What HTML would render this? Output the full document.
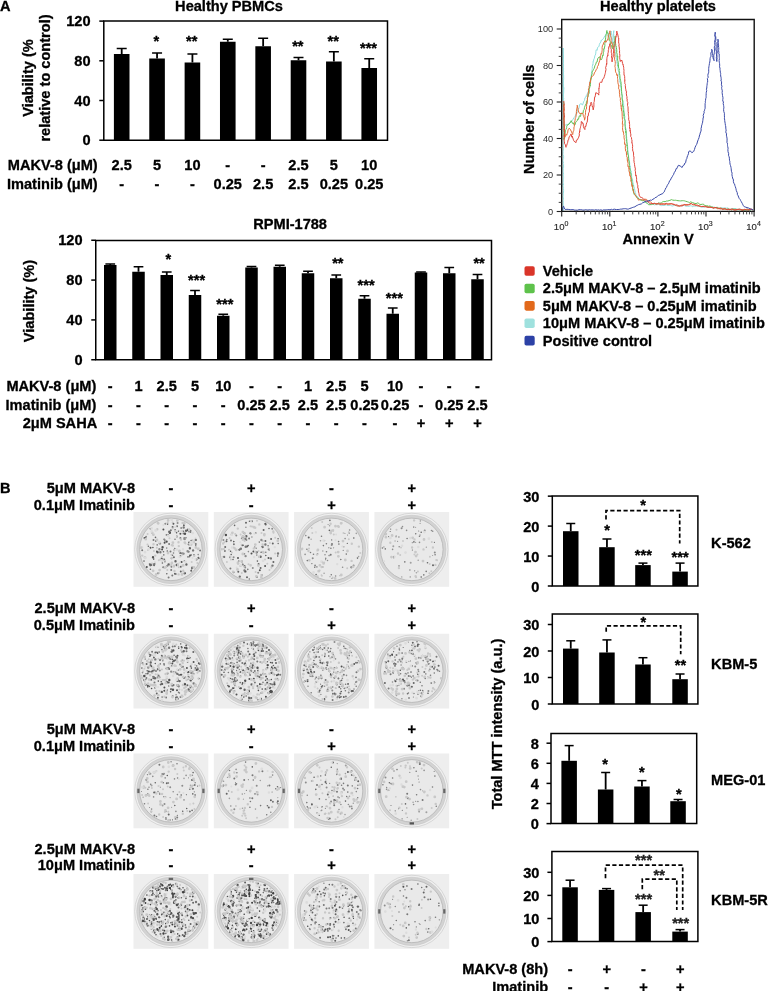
<!DOCTYPE html><html><head><meta charset="utf-8"><style>html,body{margin:0;padding:0;background:#fff;overflow:hidden;}svg{display:block;will-change:transform;}text{font-family:"Liberation Sans",sans-serif;}</style></head><body><svg width="768" height="991" viewBox="0 0 768 991" font-family="Liberation Sans, sans-serif">
<rect width="768" height="991" fill="#fff"/>
<text transform="translate(0.00,10.50) scale(1,1.04)" font-size="14.6" font-weight="bold" fill="#000" stroke="#000" stroke-width="0.3" text-anchor="start" >A</text>
<line x1="121.70" y1="54.00" x2="121.70" y2="48.50" stroke="#000" stroke-width="1.8" />
<line x1="116.70" y1="48.50" x2="126.70" y2="48.50" stroke="#000" stroke-width="1.5" />
<rect x="113.90" y="54.00" width="15.60" height="86.20" fill="#000" />
<line x1="157.06" y1="58.50" x2="157.06" y2="53.00" stroke="#000" stroke-width="1.8" />
<line x1="152.06" y1="53.00" x2="162.06" y2="53.00" stroke="#000" stroke-width="1.5" />
<rect x="149.26" y="58.50" width="15.60" height="81.70" fill="#000" />
<line x1="192.42" y1="62.50" x2="192.42" y2="54.00" stroke="#000" stroke-width="1.8" />
<line x1="187.42" y1="54.00" x2="197.42" y2="54.00" stroke="#000" stroke-width="1.5" />
<rect x="184.62" y="62.50" width="15.60" height="77.70" fill="#000" />
<line x1="227.78" y1="41.75" x2="227.78" y2="39.25" stroke="#000" stroke-width="1.8" />
<line x1="222.78" y1="39.25" x2="232.78" y2="39.25" stroke="#000" stroke-width="1.5" />
<rect x="219.98" y="41.75" width="15.60" height="98.45" fill="#000" />
<line x1="263.14" y1="46.25" x2="263.14" y2="38.25" stroke="#000" stroke-width="1.8" />
<line x1="258.14" y1="38.25" x2="268.14" y2="38.25" stroke="#000" stroke-width="1.5" />
<rect x="255.34" y="46.25" width="15.60" height="93.95" fill="#000" />
<line x1="298.50" y1="60.25" x2="298.50" y2="57.50" stroke="#000" stroke-width="1.8" />
<line x1="293.50" y1="57.50" x2="303.50" y2="57.50" stroke="#000" stroke-width="1.5" />
<rect x="290.70" y="60.25" width="15.60" height="79.95" fill="#000" />
<line x1="333.86" y1="61.50" x2="333.86" y2="51.75" stroke="#000" stroke-width="1.8" />
<line x1="328.86" y1="51.75" x2="338.86" y2="51.75" stroke="#000" stroke-width="1.5" />
<rect x="326.06" y="61.50" width="15.60" height="78.70" fill="#000" />
<line x1="369.22" y1="68.00" x2="369.22" y2="58.75" stroke="#000" stroke-width="1.8" />
<line x1="364.22" y1="58.75" x2="374.22" y2="58.75" stroke="#000" stroke-width="1.5" />
<rect x="361.42" y="68.00" width="15.60" height="72.20" fill="#000" />
<path d="M103.80,21.10 H387.50 V140.20 H103.80 Z" fill="none" stroke="#000" stroke-width="1.5"/>
<line x1="99.30" y1="140.20" x2="103.80" y2="140.20" stroke="#000" stroke-width="1.5" />
<text transform="translate(90.50,145.40) scale(1,1.04)" font-size="14.6" font-weight="bold" fill="#000" stroke="#000" stroke-width="0.3" text-anchor="end" >0</text>
<line x1="99.30" y1="100.50" x2="103.80" y2="100.50" stroke="#000" stroke-width="1.5" />
<text transform="translate(90.50,105.70) scale(1,1.04)" font-size="14.6" font-weight="bold" fill="#000" stroke="#000" stroke-width="0.3" text-anchor="end" >40</text>
<line x1="99.30" y1="60.80" x2="103.80" y2="60.80" stroke="#000" stroke-width="1.5" />
<text transform="translate(90.50,66.00) scale(1,1.04)" font-size="14.6" font-weight="bold" fill="#000" stroke="#000" stroke-width="0.3" text-anchor="end" >80</text>
<line x1="99.30" y1="21.10" x2="103.80" y2="21.10" stroke="#000" stroke-width="1.5" />
<text transform="translate(90.50,26.30) scale(1,1.04)" font-size="14.6" font-weight="bold" fill="#000" stroke="#000" stroke-width="0.3" text-anchor="end" >120</text>
<text transform="translate(156.36,46.21) scale(1,1.04)" font-size="14.6" font-weight="bold" fill="#000" stroke="#000" stroke-width="0.3" text-anchor="middle" >*</text>
<text transform="translate(191.72,46.21) scale(1,1.04)" font-size="14.6" font-weight="bold" fill="#000" stroke="#000" stroke-width="0.3" text-anchor="middle" >**</text>
<text transform="translate(297.80,51.21) scale(1,1.04)" font-size="14.6" font-weight="bold" fill="#000" stroke="#000" stroke-width="0.3" text-anchor="middle" >**</text>
<text transform="translate(333.16,45.81) scale(1,1.04)" font-size="14.6" font-weight="bold" fill="#000" stroke="#000" stroke-width="0.3" text-anchor="middle" >**</text>
<text transform="translate(368.52,52.81) scale(1,1.04)" font-size="14.6" font-weight="bold" fill="#000" stroke="#000" stroke-width="0.3" text-anchor="middle" >***</text>
<text transform="translate(229.00,10.70) scale(1,1.04)" font-size="14.6" font-weight="bold" fill="#000" stroke="#000" stroke-width="0.3" text-anchor="middle" >Healthy PBMCs</text>
<text transform="translate(33.00,78.00) rotate(-90) scale(1,1.04)" font-size="14.6" font-weight="bold" fill="#000" stroke="#000" stroke-width="0.3" text-anchor="middle">Viability (%</text>
<text transform="translate(50.00,78.00) rotate(-90) scale(1,1.04)" font-size="14.6" font-weight="bold" fill="#000" stroke="#000" stroke-width="0.3" text-anchor="middle">relative to control)</text>
<text transform="translate(97.70,170.20) scale(1,1.04)" font-size="14.6" font-weight="bold" fill="#000" stroke="#000" stroke-width="0.3" text-anchor="end" >MAKV-8 (μM)</text>
<text transform="translate(97.70,189.00) scale(1,1.04)" font-size="14.6" font-weight="bold" fill="#000" stroke="#000" stroke-width="0.3" text-anchor="end" >Imatinib (μM)</text>
<text transform="translate(121.70,170.20) scale(1,1.04)" font-size="14.6" font-weight="bold" fill="#000" stroke="#000" stroke-width="0.3" text-anchor="middle" >2.5</text>
<text transform="translate(121.70,189.00) scale(1,1.04)" font-size="14.6" font-weight="bold" fill="#000" stroke="#000" stroke-width="0.3" text-anchor="middle" >-</text>
<text transform="translate(157.06,170.20) scale(1,1.04)" font-size="14.6" font-weight="bold" fill="#000" stroke="#000" stroke-width="0.3" text-anchor="middle" >5</text>
<text transform="translate(157.06,189.00) scale(1,1.04)" font-size="14.6" font-weight="bold" fill="#000" stroke="#000" stroke-width="0.3" text-anchor="middle" >-</text>
<text transform="translate(192.42,170.20) scale(1,1.04)" font-size="14.6" font-weight="bold" fill="#000" stroke="#000" stroke-width="0.3" text-anchor="middle" >10</text>
<text transform="translate(192.42,189.00) scale(1,1.04)" font-size="14.6" font-weight="bold" fill="#000" stroke="#000" stroke-width="0.3" text-anchor="middle" >-</text>
<text transform="translate(227.78,170.20) scale(1,1.04)" font-size="14.6" font-weight="bold" fill="#000" stroke="#000" stroke-width="0.3" text-anchor="middle" >-</text>
<text transform="translate(227.78,189.00) scale(1,1.04)" font-size="14.6" font-weight="bold" fill="#000" stroke="#000" stroke-width="0.3" text-anchor="middle" >0.25</text>
<text transform="translate(263.14,170.20) scale(1,1.04)" font-size="14.6" font-weight="bold" fill="#000" stroke="#000" stroke-width="0.3" text-anchor="middle" >-</text>
<text transform="translate(263.14,189.00) scale(1,1.04)" font-size="14.6" font-weight="bold" fill="#000" stroke="#000" stroke-width="0.3" text-anchor="middle" >2.5</text>
<text transform="translate(298.50,170.20) scale(1,1.04)" font-size="14.6" font-weight="bold" fill="#000" stroke="#000" stroke-width="0.3" text-anchor="middle" >2.5</text>
<text transform="translate(298.50,189.00) scale(1,1.04)" font-size="14.6" font-weight="bold" fill="#000" stroke="#000" stroke-width="0.3" text-anchor="middle" >2.5</text>
<text transform="translate(333.86,170.20) scale(1,1.04)" font-size="14.6" font-weight="bold" fill="#000" stroke="#000" stroke-width="0.3" text-anchor="middle" >5</text>
<text transform="translate(333.86,189.00) scale(1,1.04)" font-size="14.6" font-weight="bold" fill="#000" stroke="#000" stroke-width="0.3" text-anchor="middle" >0.25</text>
<text transform="translate(369.22,170.20) scale(1,1.04)" font-size="14.6" font-weight="bold" fill="#000" stroke="#000" stroke-width="0.3" text-anchor="middle" >10</text>
<text transform="translate(369.22,189.00) scale(1,1.04)" font-size="14.6" font-weight="bold" fill="#000" stroke="#000" stroke-width="0.3" text-anchor="middle" >0.25</text>
<line x1="110.25" y1="265.00" x2="110.25" y2="264.00" stroke="#000" stroke-width="1.8" />
<line x1="105.40" y1="264.00" x2="115.10" y2="264.00" stroke="#000" stroke-width="1.5" />
<rect x="104.00" y="265.00" width="12.50" height="94.75" fill="#000" />
<line x1="138.50" y1="271.75" x2="138.50" y2="266.75" stroke="#000" stroke-width="1.8" />
<line x1="133.65" y1="266.75" x2="143.35" y2="266.75" stroke="#000" stroke-width="1.5" />
<rect x="132.25" y="271.75" width="12.50" height="88.00" fill="#000" />
<line x1="166.75" y1="275.00" x2="166.75" y2="272.00" stroke="#000" stroke-width="1.8" />
<line x1="161.90" y1="272.00" x2="171.60" y2="272.00" stroke="#000" stroke-width="1.5" />
<rect x="160.50" y="275.00" width="12.50" height="84.75" fill="#000" />
<line x1="195.00" y1="295.00" x2="195.00" y2="290.50" stroke="#000" stroke-width="1.8" />
<line x1="190.15" y1="290.50" x2="199.85" y2="290.50" stroke="#000" stroke-width="1.5" />
<rect x="188.75" y="295.00" width="12.50" height="64.75" fill="#000" />
<line x1="223.25" y1="315.75" x2="223.25" y2="314.25" stroke="#000" stroke-width="1.8" />
<line x1="218.40" y1="314.25" x2="228.10" y2="314.25" stroke="#000" stroke-width="1.5" />
<rect x="217.00" y="315.75" width="12.50" height="44.00" fill="#000" />
<line x1="251.50" y1="267.50" x2="251.50" y2="266.50" stroke="#000" stroke-width="1.8" />
<line x1="246.65" y1="266.50" x2="256.35" y2="266.50" stroke="#000" stroke-width="1.5" />
<rect x="245.25" y="267.50" width="12.50" height="92.25" fill="#000" />
<line x1="279.75" y1="266.75" x2="279.75" y2="265.25" stroke="#000" stroke-width="1.8" />
<line x1="274.90" y1="265.25" x2="284.60" y2="265.25" stroke="#000" stroke-width="1.5" />
<rect x="273.50" y="266.75" width="12.50" height="93.00" fill="#000" />
<line x1="308.00" y1="273.25" x2="308.00" y2="271.25" stroke="#000" stroke-width="1.8" />
<line x1="303.15" y1="271.25" x2="312.85" y2="271.25" stroke="#000" stroke-width="1.5" />
<rect x="301.75" y="273.25" width="12.50" height="86.50" fill="#000" />
<line x1="336.25" y1="278.25" x2="336.25" y2="275.00" stroke="#000" stroke-width="1.8" />
<line x1="331.40" y1="275.00" x2="341.10" y2="275.00" stroke="#000" stroke-width="1.5" />
<rect x="330.00" y="278.25" width="12.50" height="81.50" fill="#000" />
<line x1="364.50" y1="298.75" x2="364.50" y2="295.75" stroke="#000" stroke-width="1.8" />
<line x1="359.65" y1="295.75" x2="369.35" y2="295.75" stroke="#000" stroke-width="1.5" />
<rect x="358.25" y="298.75" width="12.50" height="61.00" fill="#000" />
<line x1="392.75" y1="313.75" x2="392.75" y2="308.00" stroke="#000" stroke-width="1.8" />
<line x1="387.90" y1="308.00" x2="397.60" y2="308.00" stroke="#000" stroke-width="1.5" />
<rect x="386.50" y="313.75" width="12.50" height="46.00" fill="#000" />
<line x1="421.00" y1="272.50" x2="421.00" y2="272.00" stroke="#000" stroke-width="1.8" />
<line x1="416.15" y1="272.00" x2="425.85" y2="272.00" stroke="#000" stroke-width="1.5" />
<rect x="414.75" y="272.50" width="12.50" height="87.25" fill="#000" />
<line x1="449.25" y1="273.25" x2="449.25" y2="267.50" stroke="#000" stroke-width="1.8" />
<line x1="444.40" y1="267.50" x2="454.10" y2="267.50" stroke="#000" stroke-width="1.5" />
<rect x="443.00" y="273.25" width="12.50" height="86.50" fill="#000" />
<line x1="477.50" y1="279.25" x2="477.50" y2="274.50" stroke="#000" stroke-width="1.8" />
<line x1="472.65" y1="274.50" x2="482.35" y2="274.50" stroke="#000" stroke-width="1.5" />
<rect x="471.25" y="279.25" width="12.50" height="80.50" fill="#000" />
<path d="M95.75,240.40 H491.50 V359.75 H95.75 Z" fill="none" stroke="#000" stroke-width="1.5"/>
<line x1="91.25" y1="359.75" x2="95.75" y2="359.75" stroke="#000" stroke-width="1.5" />
<text transform="translate(82.50,364.95) scale(1,1.04)" font-size="14.6" font-weight="bold" fill="#000" stroke="#000" stroke-width="0.3" text-anchor="end" >0</text>
<line x1="91.25" y1="319.92" x2="95.75" y2="319.92" stroke="#000" stroke-width="1.5" />
<text transform="translate(82.50,325.12) scale(1,1.04)" font-size="14.6" font-weight="bold" fill="#000" stroke="#000" stroke-width="0.3" text-anchor="end" >40</text>
<line x1="91.25" y1="280.08" x2="95.75" y2="280.08" stroke="#000" stroke-width="1.5" />
<text transform="translate(82.50,285.28) scale(1,1.04)" font-size="14.6" font-weight="bold" fill="#000" stroke="#000" stroke-width="0.3" text-anchor="end" >80</text>
<line x1="91.25" y1="240.25" x2="95.75" y2="240.25" stroke="#000" stroke-width="1.5" />
<text transform="translate(82.50,245.45) scale(1,1.04)" font-size="14.6" font-weight="bold" fill="#000" stroke="#000" stroke-width="0.3" text-anchor="end" >120</text>
<text transform="translate(168.30,263.91) scale(1,1.04)" font-size="14.6" font-weight="bold" fill="#000" stroke="#000" stroke-width="0.3" text-anchor="middle" >*</text>
<text transform="translate(196.55,284.91) scale(1,1.04)" font-size="14.6" font-weight="bold" fill="#000" stroke="#000" stroke-width="0.3" text-anchor="middle" >***</text>
<text transform="translate(224.80,308.91) scale(1,1.04)" font-size="14.6" font-weight="bold" fill="#000" stroke="#000" stroke-width="0.3" text-anchor="middle" >***</text>
<text transform="translate(337.80,267.91) scale(1,1.04)" font-size="14.6" font-weight="bold" fill="#000" stroke="#000" stroke-width="0.3" text-anchor="middle" >**</text>
<text transform="translate(366.05,289.91) scale(1,1.04)" font-size="14.6" font-weight="bold" fill="#000" stroke="#000" stroke-width="0.3" text-anchor="middle" >***</text>
<text transform="translate(394.30,302.91) scale(1,1.04)" font-size="14.6" font-weight="bold" fill="#000" stroke="#000" stroke-width="0.3" text-anchor="middle" >***</text>
<text transform="translate(479.05,267.91) scale(1,1.04)" font-size="14.6" font-weight="bold" fill="#000" stroke="#000" stroke-width="0.3" text-anchor="middle" >**</text>
<text transform="translate(290.10,228.75) scale(1,1.04)" font-size="14.6" font-weight="bold" fill="#000" stroke="#000" stroke-width="0.3" text-anchor="middle" >RPMI-1788</text>
<text transform="translate(34.30,301.00) rotate(-90) scale(1,1.04)" font-size="14.6" font-weight="bold" fill="#000" stroke="#000" stroke-width="0.3" text-anchor="middle">Viability (%)</text>
<text transform="translate(96.30,391.30) scale(1,1.04)" font-size="14.6" font-weight="bold" fill="#000" stroke="#000" stroke-width="0.3" text-anchor="end" >MAKV-8 (μM)</text>
<text transform="translate(96.30,410.00) scale(1,1.04)" font-size="14.6" font-weight="bold" fill="#000" stroke="#000" stroke-width="0.3" text-anchor="end" >Imatinib (μM)</text>
<text transform="translate(97.20,427.50) scale(1,1.04)" font-size="14.6" font-weight="bold" fill="#000" stroke="#000" stroke-width="0.3" text-anchor="end" >2μM SAHA</text>
<text transform="translate(110.25,391.30) scale(1,1.04)" font-size="14.6" font-weight="bold" fill="#000" stroke="#000" stroke-width="0.3" text-anchor="middle" >-</text>
<text transform="translate(110.25,410.00) scale(1,1.04)" font-size="14.6" font-weight="bold" fill="#000" stroke="#000" stroke-width="0.3" text-anchor="middle" >-</text>
<text transform="translate(110.25,427.50) scale(1,1.04)" font-size="14.6" font-weight="bold" fill="#000" stroke="#000" stroke-width="0.3" text-anchor="middle" >-</text>
<text transform="translate(138.50,391.30) scale(1,1.04)" font-size="14.6" font-weight="bold" fill="#000" stroke="#000" stroke-width="0.3" text-anchor="middle" >1</text>
<text transform="translate(138.50,410.00) scale(1,1.04)" font-size="14.6" font-weight="bold" fill="#000" stroke="#000" stroke-width="0.3" text-anchor="middle" >-</text>
<text transform="translate(138.50,427.50) scale(1,1.04)" font-size="14.6" font-weight="bold" fill="#000" stroke="#000" stroke-width="0.3" text-anchor="middle" >-</text>
<text transform="translate(166.75,391.30) scale(1,1.04)" font-size="14.6" font-weight="bold" fill="#000" stroke="#000" stroke-width="0.3" text-anchor="middle" >2.5</text>
<text transform="translate(166.75,410.00) scale(1,1.04)" font-size="14.6" font-weight="bold" fill="#000" stroke="#000" stroke-width="0.3" text-anchor="middle" >-</text>
<text transform="translate(166.75,427.50) scale(1,1.04)" font-size="14.6" font-weight="bold" fill="#000" stroke="#000" stroke-width="0.3" text-anchor="middle" >-</text>
<text transform="translate(195.00,391.30) scale(1,1.04)" font-size="14.6" font-weight="bold" fill="#000" stroke="#000" stroke-width="0.3" text-anchor="middle" >5</text>
<text transform="translate(195.00,410.00) scale(1,1.04)" font-size="14.6" font-weight="bold" fill="#000" stroke="#000" stroke-width="0.3" text-anchor="middle" >-</text>
<text transform="translate(195.00,427.50) scale(1,1.04)" font-size="14.6" font-weight="bold" fill="#000" stroke="#000" stroke-width="0.3" text-anchor="middle" >-</text>
<text transform="translate(223.25,391.30) scale(1,1.04)" font-size="14.6" font-weight="bold" fill="#000" stroke="#000" stroke-width="0.3" text-anchor="middle" >10</text>
<text transform="translate(223.25,410.00) scale(1,1.04)" font-size="14.6" font-weight="bold" fill="#000" stroke="#000" stroke-width="0.3" text-anchor="middle" >-</text>
<text transform="translate(223.25,427.50) scale(1,1.04)" font-size="14.6" font-weight="bold" fill="#000" stroke="#000" stroke-width="0.3" text-anchor="middle" >-</text>
<text transform="translate(251.50,391.30) scale(1,1.04)" font-size="14.6" font-weight="bold" fill="#000" stroke="#000" stroke-width="0.3" text-anchor="middle" >-</text>
<text transform="translate(251.50,410.00) scale(1,1.04)" font-size="14.6" font-weight="bold" fill="#000" stroke="#000" stroke-width="0.3" text-anchor="middle" >0.25</text>
<text transform="translate(251.50,427.50) scale(1,1.04)" font-size="14.6" font-weight="bold" fill="#000" stroke="#000" stroke-width="0.3" text-anchor="middle" >-</text>
<text transform="translate(279.75,391.30) scale(1,1.04)" font-size="14.6" font-weight="bold" fill="#000" stroke="#000" stroke-width="0.3" text-anchor="middle" >-</text>
<text transform="translate(279.75,410.00) scale(1,1.04)" font-size="14.6" font-weight="bold" fill="#000" stroke="#000" stroke-width="0.3" text-anchor="middle" >2.5</text>
<text transform="translate(279.75,427.50) scale(1,1.04)" font-size="14.6" font-weight="bold" fill="#000" stroke="#000" stroke-width="0.3" text-anchor="middle" >-</text>
<text transform="translate(308.00,391.30) scale(1,1.04)" font-size="14.6" font-weight="bold" fill="#000" stroke="#000" stroke-width="0.3" text-anchor="middle" >1</text>
<text transform="translate(308.00,410.00) scale(1,1.04)" font-size="14.6" font-weight="bold" fill="#000" stroke="#000" stroke-width="0.3" text-anchor="middle" >2.5</text>
<text transform="translate(308.00,427.50) scale(1,1.04)" font-size="14.6" font-weight="bold" fill="#000" stroke="#000" stroke-width="0.3" text-anchor="middle" >-</text>
<text transform="translate(336.25,391.30) scale(1,1.04)" font-size="14.6" font-weight="bold" fill="#000" stroke="#000" stroke-width="0.3" text-anchor="middle" >2.5</text>
<text transform="translate(336.25,410.00) scale(1,1.04)" font-size="14.6" font-weight="bold" fill="#000" stroke="#000" stroke-width="0.3" text-anchor="middle" >2.5</text>
<text transform="translate(336.25,427.50) scale(1,1.04)" font-size="14.6" font-weight="bold" fill="#000" stroke="#000" stroke-width="0.3" text-anchor="middle" >-</text>
<text transform="translate(364.50,391.30) scale(1,1.04)" font-size="14.6" font-weight="bold" fill="#000" stroke="#000" stroke-width="0.3" text-anchor="middle" >5</text>
<text transform="translate(364.50,410.00) scale(1,1.04)" font-size="14.6" font-weight="bold" fill="#000" stroke="#000" stroke-width="0.3" text-anchor="middle" >0.25</text>
<text transform="translate(364.50,427.50) scale(1,1.04)" font-size="14.6" font-weight="bold" fill="#000" stroke="#000" stroke-width="0.3" text-anchor="middle" >-</text>
<text transform="translate(395.05,391.30) scale(1,1.04)" font-size="14.6" font-weight="bold" fill="#000" stroke="#000" stroke-width="0.3" text-anchor="middle" >10</text>
<text transform="translate(395.05,410.00) scale(1,1.04)" font-size="14.6" font-weight="bold" fill="#000" stroke="#000" stroke-width="0.3" text-anchor="middle" >0.25</text>
<text transform="translate(395.05,427.50) scale(1,1.04)" font-size="14.6" font-weight="bold" fill="#000" stroke="#000" stroke-width="0.3" text-anchor="middle" >-</text>
<text transform="translate(421.00,391.30) scale(1,1.04)" font-size="14.6" font-weight="bold" fill="#000" stroke="#000" stroke-width="0.3" text-anchor="middle" >-</text>
<text transform="translate(421.00,410.00) scale(1,1.04)" font-size="14.6" font-weight="bold" fill="#000" stroke="#000" stroke-width="0.3" text-anchor="middle" >-</text>
<text transform="translate(421.00,427.50) scale(1,1.04)" font-size="14.6" font-weight="bold" fill="#000" stroke="#000" stroke-width="0.3" text-anchor="middle" >+</text>
<text transform="translate(449.25,391.30) scale(1,1.04)" font-size="14.6" font-weight="bold" fill="#000" stroke="#000" stroke-width="0.3" text-anchor="middle" >-</text>
<text transform="translate(449.25,410.00) scale(1,1.04)" font-size="14.6" font-weight="bold" fill="#000" stroke="#000" stroke-width="0.3" text-anchor="middle" >0.25</text>
<text transform="translate(449.25,427.50) scale(1,1.04)" font-size="14.6" font-weight="bold" fill="#000" stroke="#000" stroke-width="0.3" text-anchor="middle" >+</text>
<text transform="translate(477.50,391.30) scale(1,1.04)" font-size="14.6" font-weight="bold" fill="#000" stroke="#000" stroke-width="0.3" text-anchor="middle" >-</text>
<text transform="translate(477.50,410.00) scale(1,1.04)" font-size="14.6" font-weight="bold" fill="#000" stroke="#000" stroke-width="0.3" text-anchor="middle" >2.5</text>
<text transform="translate(477.50,427.50) scale(1,1.04)" font-size="14.6" font-weight="bold" fill="#000" stroke="#000" stroke-width="0.3" text-anchor="middle" >+</text>
<text transform="translate(658.00,10.80) scale(1,1.04)" font-size="14.6" font-weight="bold" fill="#000" stroke="#000" stroke-width="0.3" text-anchor="middle" >Healthy platelets</text>
<text transform="translate(534.00,119.30) rotate(-90) scale(1,1.04)" font-size="14.6" font-weight="bold" fill="#000" stroke="#000" stroke-width="0.3" text-anchor="middle">Number of cells</text>
<text transform="translate(622.40,243.60) scale(1,1.04)" font-size="14.6" font-weight="bold" fill="#000" stroke="#000" stroke-width="0.3" text-anchor="start" >Annexin V</text>
<polyline points="563.3,210.9 563.3,209.4 563.4,208.2 563.0,207.3 563.5,205.2 563.1,204.2 563.3,203.8 563.3,202.3 563.1,200.7 563.5,199.4 563.4,198.0 563.0,196.9 563.4,195.7 563.0,193.5 563.3,193.7 563.5,192.0 563.6,190.7 563.5,188.6 563.6,187.4 563.1,187.2 563.1,184.0 563.3,184.8 563.2,182.6 563.2,181.0 563.4,179.3 563.5,178.6 563.6,177.6 563.6,176.7 563.1,174.9 563.6,174.1 563.3,172.9 563.1,171.1 563.3,170.1 563.0,167.4 563.6,167.6 563.5,164.3 563.1,163.8 563.5,162.2 563.0,162.4 563.0,160.4 563.2,159.4 563.6,158.5 563.6,156.2 563.0,154.4 563.0,153.9 563.2,151.5 563.1,151.3 563.5,148.5 563.6,147.9 563.2,148.1 563.3,145.7 563.4,144.9 563.4,143.3 563.3,143.0 563.4,140.4 563.2,138.6 563.3,139.2 563.0,136.8 563.3,135.1 563.4,132.8 563.0,133.1 563.3,131.8 563.2,130.6 563.4,129.4 563.0,126.3 563.6,126.7 563.3,124.3 563.2,123.9 563.2,122.0 563.4,120.7 563.2,119.2 563.0,119.1 563.4,117.3 563.1,115.3 563.1,115.3 563.3,112.4 563.1,112.4 563.2,110.1 563.3,110.2 563.1,108.9 563.4,106.3 563.3,106.4 563.1,103.4 563.1,102.8 563.5,102.3 563.2,99.3 563.4,99.7 563.2,98.3 563.2,95.3 563.2,95.7 563.3,93.2 563.2,92.1 563.1,92.1 563.6,88.4 563.6,89.4 563.6,86.9 563.1,86.9 563.5,85.2 563.3,83.6 563.2,81.4 563.0,79.9 563.2,79.5 563.0,78.8 563.4,77.7 563.5,76.5 563.3,75.1 563.4,71.5 563.2,70.6 563.3,70.6 563.6,68.6 563.2,67.9 563.5,65.6 563.5,64.9 563.1,63.3 563.5,62.4 563.5,60.2 563.5,60.8 563.0,59.3 563.5,57.5 563.2,54.7 563.3,53.9 563.3,53.0 563.0,52.6 563.1,49.5 563.0,48.3 563.5,49.2 563.3,48.2 563.2,50.2 563.4,51.6 563.2,53.5 563.2,53.8 563.4,54.9 563.3,57.8 563.1,57.4 563.4,59.5 563.3,61.9 563.4,63.3 563.3,63.6 563.5,65.1 563.5,66.2 563.2,67.7 563.5,69.2 563.3,69.3 563.6,71.5 563.3,74.2 563.6,75.4 563.4,75.0 563.6,76.0 563.7,78.7 563.5,80.4 563.5,81.5 563.5,81.2 563.2,82.3 563.2,85.6 563.2,85.1 563.3,88.5 563.7,87.6 563.7,89.2 563.7,91.9 563.5,94.0 563.2,94.9 563.5,96.1 563.3,97.3 563.8,98.7 563.4,98.2 563.7,100.9 563.3,101.3 563.6,102.7 563.5,105.3 563.5,105.6 563.5,106.9 563.5,107.5 563.5,111.1 563.3,111.9 563.7,113.0 563.6,114.3 563.6,115.1 563.4,117.5 563.7,116.8 563.6,120.2 563.7,120.3 563.5,120.9 563.6,122.3 563.4,123.9 565.2,125.2 566.3,124.4 567.7,125.0 568.5,124.4 569.6,122.5 571.0,122.2 572.1,120.4 573.0,119.6 573.7,118.0 574.0,117.7 574.8,116.5 575.2,116.2 575.9,114.2 576.3,114.0 577.2,112.5 577.3,110.6 578.1,108.8 578.8,108.7 579.0,107.9 579.5,105.0 580.4,103.7 581.0,104.2 581.8,103.8 582.3,105.1 582.6,104.9 583.6,101.9 583.8,101.2 584.5,100.6 584.9,97.8 585.5,97.6 586.2,95.8 586.7,96.4 587.1,94.1 588.1,92.1 588.8,90.4 588.6,91.2 588.9,90.0 589.4,88.2 589.5,85.7 589.8,85.3 590.0,83.0 590.1,83.6 590.0,81.2 590.4,79.8 590.8,79.1 590.7,77.4 591.1,76.3 591.5,73.8 591.2,73.7 591.5,73.2 592.0,70.3 592.1,69.7 592.3,68.5 592.3,66.4 592.8,64.5 592.9,64.9 593.0,63.6 593.2,61.1 593.4,61.3 593.9,59.0 594.4,58.3 594.8,55.8 595.4,55.0 595.8,53.1 595.9,51.2 596.2,49.8 597.2,50.3 597.5,47.5 598.4,46.8 599.0,46.6 599.3,44.7 600.0,43.0 600.8,42.1 601.3,40.0 601.8,40.3 602.9,39.1 603.7,38.2 604.8,35.8 606.1,34.7 606.4,33.3 607.3,32.2 607.8,32.9 608.1,32.7 608.3,35.7 608.6,36.7 609.0,37.2 609.4,35.4 609.8,35.6 610.6,34.0 610.5,33.4 611.3,31.8 611.2,31.1 611.2,32.9 611.8,35.0 611.9,35.7 611.6,38.0 612.0,39.7 612.2,41.2 612.1,42.0 612.6,43.5 612.5,44.9 612.6,43.3 612.5,40.2 612.7,38.7 613.0,37.6 613.1,37.6 613.3,35.5 613.3,33.8 613.4,33.6 613.8,30.7 613.6,33.5 613.8,34.0 613.7,36.1 613.8,36.0 613.9,39.4 614.0,40.0 614.1,40.8 614.2,42.7 614.4,43.1 614.8,44.9 614.7,45.9 615.1,48.3 615.1,50.3 615.5,50.9 616.0,51.3 615.7,53.2 615.9,55.2 616.2,57.0 616.2,57.0 616.6,59.9 616.9,61.4 617.0,63.2 617.2,62.7 617.6,65.6 617.5,65.7 618.2,67.9 617.8,69.0 618.1,68.9 618.3,70.6 618.9,71.7 618.8,75.2 619.2,76.8 619.6,77.7 619.3,79.4 619.9,79.1 619.7,82.1 620.4,81.8 620.3,82.6 620.7,84.6 620.6,87.5 621.1,88.3 621.2,89.9 621.3,91.5 621.4,91.5 621.8,93.8 621.8,93.9 622.3,96.4 622.3,97.7 622.4,98.5 622.5,100.4 623.1,101.1 622.9,103.0 623.5,103.2 623.7,105.6 623.6,107.5 623.9,108.9 623.9,108.8 624.0,109.5 624.0,113.1 624.2,113.4 624.7,113.5 624.4,115.3 624.9,116.5 624.6,119.0 625.3,119.5 625.2,120.9 625.4,122.8 625.5,124.7 625.3,125.9 625.3,126.4 625.5,129.4 626.1,128.8 626.2,130.6 626.0,131.6 626.4,133.3 626.4,135.6 626.7,137.3 626.7,137.6 626.5,139.2 626.9,141.5 626.8,142.8 627.1,143.4 627.0,145.3 627.4,145.6 627.6,146.2 627.7,149.3 627.9,150.4 627.9,150.6 628.1,154.0 628.1,153.8 628.3,154.6 628.8,157.7 629.2,158.9 629.3,159.5 629.2,160.6 629.7,163.0 629.7,164.3 629.8,165.1 630.3,167.0 630.5,166.5 630.2,167.5 630.5,170.2 630.9,171.0 631.2,171.0 631.2,172.9 631.6,174.4 631.5,176.7 631.7,176.4 631.8,178.5 632.4,179.1 632.8,181.8 633.1,183.9 633.0,183.6 633.5,184.7 633.9,186.6 634.4,187.5 634.5,188.6 635.0,191.5 635.0,191.2 635.2,193.9 635.8,193.4 635.9,195.7 637.0,196.0 638.2,197.8 639.5,199.0 640.2,199.9 641.2,199.7 642.5,200.9 643.9,200.9 645.0,201.5 646.5,202.2 647.4,202.9 648.7,202.9 650.1,204.2 651.6,204.7 652.6,204.0 654.5,204.8 655.9,204.6 657.0,204.8 658.3,204.4 660.2,205.2 661.3,205.6 662.9,205.3 664.0,205.5 665.2,205.1 666.3,204.8 668.1,205.5 669.1,205.4 670.4,205.2 671.7,205.8 672.8,206.0 674.4,205.2 675.9,205.4 677.2,206.0 678.0,205.8 679.6,205.7 680.7,205.7 682.4,206.0 683.6,205.3 684.8,205.7 686.4,206.4 687.2,206.1 688.5,206.5 690.2,205.8 691.2,205.8 692.9,206.8 693.8,206.0 695.0,206.1 696.8,206.1 697.7,206.0 698.9,206.2 700.6,206.7 701.8,207.2 702.7,207.3 704.6,206.7 705.5,206.5 706.8,207.1 708.0,207.3 709.8,207.0 711.1,206.9 712.5,207.1 713.6,207.8 714.5,207.2 715.9,208.1 717.6,207.4 718.4,208.4 720.0,208.6 721.1,207.9 722.9,208.0 723.7,208.0 725.1,207.9 726.8,208.2 727.7,207.9 729.5,209.1 730.4,209.3 732.2,208.5 733.3,208.8 734.2,208.6 736.0,208.8 737.2,209.4 738.5,209.1 739.8,209.1 740.9,209.7 742.7,209.5 743.6,209.9 745.3,210.1 746.3,209.2 747.5,209.3 749.0,210.4 750.1,210.3 751.9,209.3 753.0,210.0" fill="none" stroke="#93dfe0" stroke-width="1.0" stroke-linejoin="round"/>
<polyline points="563.6,101.7 563.9,103.9 563.7,105.0 563.4,106.6 563.6,107.4 563.8,107.8 563.7,109.7 563.6,111.2 563.8,112.6 564.0,115.6 564.0,116.7 564.1,116.6 563.6,117.9 564.0,119.8 563.9,120.8 564.1,122.0 563.9,123.7 564.1,125.3 563.9,127.8 564.0,127.7 563.9,128.1 564.1,131.5 564.1,130.8 564.2,133.0 563.8,134.3 564.2,136.1 564.2,137.1 563.9,139.2 564.0,139.5 564.2,138.4 564.7,137.7 564.5,136.2 564.9,133.9 565.0,133.6 565.4,130.8 565.4,130.0 566.2,129.3 566.4,128.0 566.7,127.4 566.7,126.3 567.6,124.7 569.0,124.2 570.5,122.2 571.2,120.7 572.5,123.4 573.2,122.8 574.2,124.8 575.0,124.9 575.7,122.2 576.4,121.7 577.2,120.8 577.5,119.1 578.5,119.3 579.3,115.8 580.6,116.4 581.0,113.4 582.3,113.3 583.1,113.1 583.4,110.3 584.2,109.6 584.5,107.3 585.2,105.6 585.9,104.1 586.3,104.1 586.4,101.6 587.1,101.4 587.0,100.3 587.5,100.1 587.5,97.7 588.3,95.8 588.3,94.1 588.5,94.1 589.1,93.2 589.2,92.1 589.0,89.1 589.4,88.4 590.0,86.5 590.2,85.3 590.0,85.9 590.4,84.5 590.5,81.4 590.9,79.7 591.3,79.3 591.1,79.2 591.5,76.8 591.7,74.9 592.2,73.9 592.0,72.8 592.5,71.2 592.9,70.7 593.4,69.7 594.2,68.3 594.9,65.7 595.3,64.9 595.9,64.1 596.1,62.4 597.1,62.0 597.4,60.0 598.0,58.1 598.1,58.0 599.0,57.1 599.8,56.9 600.1,58.3 601.0,60.0 602.0,58.4 602.7,55.2 602.9,55.9 603.4,53.7 603.4,52.2 603.9,51.2 603.7,48.9 604.2,49.1 604.6,46.6 604.6,46.8 604.9,45.8 604.8,43.8 605.2,40.6 605.2,41.2 605.5,39.2 605.7,37.3 605.7,36.9 606.1,34.3 606.5,33.5 606.6,31.8 606.9,30.5 607.1,32.8 607.8,32.8 608.2,34.5 608.3,35.7 609.2,38.0 609.3,40.2 609.4,40.3 610.1,41.3 610.5,44.3 611.2,45.7 611.6,45.6 612.1,48.3 612.8,48.6 612.9,46.3 613.5,47.1 613.8,45.1 614.0,42.2 614.0,42.6 614.7,40.5 614.8,38.8 615.0,37.1 615.2,36.1 615.5,37.8 615.4,40.3 615.5,41.6 615.5,43.3 615.8,44.1 615.6,45.2 616.1,46.0 616.4,47.6 616.7,49.8 616.8,52.1 616.6,52.3 617.2,54.3 617.1,56.7 617.8,56.1 617.6,58.9 617.6,60.2 618.1,61.1 617.9,62.5 618.4,62.6 618.2,65.9 618.3,64.9 618.7,68.3 619.3,68.8 619.1,70.5 619.1,72.1 619.7,72.3 619.5,73.4 619.9,75.6 620.0,78.2 620.3,79.1 620.6,80.4 620.7,81.4 621.0,81.6 621.0,84.4 621.2,84.3 621.2,85.3 621.5,87.9 621.4,89.3 621.4,89.1 621.6,91.3 621.7,93.3 622.0,95.1 622.2,96.2 622.1,97.2 622.0,98.0 622.4,100.6 622.7,100.1 622.7,102.7 622.5,103.7 622.7,106.5 623.3,106.2 623.1,106.9 623.1,109.2 623.3,111.7 623.5,110.7 623.8,112.0 624.0,115.6 624.0,114.8 624.1,116.8 624.1,118.2 624.5,119.2 624.9,120.5 625.1,121.8 624.8,123.5 625.2,126.4 625.4,127.9 625.3,128.9 625.8,130.5 625.6,132.5 626.1,131.5 626.1,135.1 626.3,135.9 626.3,136.4 626.2,138.3 626.7,138.8 626.7,140.0 626.7,141.4 627.1,143.7 627.0,145.9 627.1,145.2 627.1,146.2 627.5,148.9 627.3,149.3 627.5,150.3 627.7,152.6 628.0,154.9 628.1,154.8 628.4,155.3 628.4,158.5 628.5,159.7 628.6,159.7 629.0,161.0 629.3,163.4 629.4,163.4 629.4,165.6 629.6,167.0 629.7,167.5 630.1,170.0 630.0,172.0 630.6,173.2 630.9,174.1 631.0,173.9 630.8,177.2 631.5,177.7 631.7,178.2 631.6,181.1 631.7,180.4 632.0,183.5 632.2,183.5 632.3,186.4 632.9,185.3 632.8,187.4 633.0,190.4 633.5,189.4 633.3,191.1 634.1,194.2 635.0,195.4 635.7,195.4 636.7,197.1 637.4,198.2 638.9,198.6 640.2,199.9 641.1,200.3 642.5,200.1 644.3,200.6 645.4,202.3 646.1,202.7 647.2,203.3 648.5,204.7 650.1,204.7 651.5,204.3 652.8,204.2 654.4,203.6 655.5,203.7 657.1,203.8 658.3,203.0 659.7,203.1 661.2,203.1 662.5,201.9 663.7,201.5 665.1,201.7 666.3,201.1 667.8,201.0 669.1,200.6 670.0,200.3 671.7,199.6 672.7,200.1 674.3,200.3 675.3,200.2 676.4,200.4 678.0,200.7 679.3,200.8 680.7,200.9 682.2,200.7 683.4,200.7 684.7,200.9 685.5,201.2 687.3,201.7 688.6,202.2 689.4,202.5 690.8,201.8 692.2,202.6 693.7,202.9 694.9,203.5 696.1,203.6 697.6,202.9 698.4,203.2 699.8,204.4 700.9,204.5 702.6,204.2 703.8,204.3 704.9,205.7 706.5,205.7 707.8,205.9 708.6,206.3 710.3,205.9 711.5,207.2 712.8,207.0 714.3,207.7 715.9,207.5 717.3,207.3 718.7,208.5 719.7,208.1 721.5,208.3 722.5,208.9 724.0,209.1 725.1,208.9 726.7,209.5 727.6,208.9 729.3,209.8 730.5,209.4 731.8,209.9 732.9,209.0 734.6,209.2 736.1,209.3 737.1,209.7 738.5,209.7 739.8,209.7 741.1,209.6 742.2,210.1 743.6,210.1 744.8,210.2 746.4,209.8 747.5,210.1 748.8,209.6 750.4,210.0 751.5,209.3 753.0,210.0" fill="none" stroke="#62c055" stroke-width="1.0" stroke-linejoin="round"/>
<polyline points="563.8,104.0 564.1,104.6 563.9,106.6 564.0,107.5 564.0,110.2 563.9,109.5 563.7,112.1 563.9,114.2 564.1,114.3 564.1,116.4 564.1,118.4 563.9,118.4 564.1,120.3 564.1,121.6 564.0,121.6 564.1,123.4 564.4,126.5 564.5,126.3 564.1,128.6 564.4,130.4 564.5,132.5 564.6,132.0 565.1,135.0 564.9,135.7 565.3,136.7 566.1,134.4 566.7,135.2 567.2,133.5 567.6,132.9 568.1,129.8 569.2,128.2 570.1,129.1 571.2,131.1 572.1,133.2 572.7,134.6 573.1,131.8 573.5,130.9 573.8,130.7 573.9,129.5 574.0,126.7 574.4,126.4 574.3,124.0 574.5,123.3 574.5,122.7 575.0,120.7 575.3,118.2 575.7,117.6 575.7,117.3 576.1,115.9 576.3,112.8 576.6,113.2 576.4,111.6 576.8,108.9 577.0,107.5 577.3,107.1 577.2,105.2 577.7,108.0 577.9,108.0 578.2,109.5 578.3,111.0 579.4,113.3 579.9,113.8 580.9,113.4 582.4,113.5 582.9,113.2 583.2,115.2 583.7,116.7 584.4,118.0 584.5,120.2 585.2,117.7 585.1,116.6 585.0,115.7 585.5,114.2 585.5,112.3 585.6,111.0 585.9,109.4 586.4,109.1 586.6,106.5 586.6,104.9 587.0,103.0 587.2,103.2 587.4,100.1 587.4,98.5 587.2,98.4 587.9,96.9 587.7,96.1 587.9,95.2 588.1,94.1 588.7,90.6 588.4,89.2 588.5,89.7 589.1,87.8 589.0,86.5 589.4,85.6 589.5,83.8 589.8,81.9 590.6,82.4 590.5,78.6 591.3,78.0 591.4,76.7 591.9,76.9 592.5,76.2 593.7,75.0 594.7,72.2 595.4,71.7 596.2,69.4 596.5,69.4 597.0,68.8 597.5,66.5 598.5,64.9 598.5,64.0 599.2,62.0 599.7,60.8 600.0,58.9 600.3,59.0 600.2,57.0 600.8,55.2 600.9,53.5 601.6,54.0 601.8,52.8 602.1,50.7 602.2,49.7 602.1,47.6 602.5,45.3 602.7,44.9 603.2,44.8 603.6,42.8 604.9,41.0 605.9,42.3 607.5,39.6 607.9,40.2 608.2,37.5 608.3,35.3 609.0,34.7 609.6,32.4 610.0,30.8 610.1,32.7 610.5,35.7 610.6,36.2 610.9,37.2 611.2,38.1 611.0,40.8 611.5,43.3 611.9,42.6 612.3,44.1 613.1,47.4 613.8,48.8 614.5,50.8 614.3,51.0 614.5,51.8 614.7,53.2 614.7,54.9 614.8,56.8 614.6,57.1 614.6,59.8 615.2,61.1 615.2,61.7 615.3,63.6 615.2,64.7 614.9,66.5 615.2,67.4 615.3,68.6 615.5,71.1 615.7,72.2 616.5,73.3 616.7,75.3 617.5,74.7 617.5,76.6 617.5,78.5 617.7,79.4 617.9,82.2 617.9,83.0 618.3,84.2 618.6,85.6 618.9,85.2 618.6,87.9 618.7,88.9 619.3,89.7 619.5,92.3 619.3,92.2 619.7,94.1 619.7,96.3 620.1,97.8 620.4,98.0 620.4,98.7 620.3,100.4 620.7,102.5 620.8,104.2 621.3,106.3 621.0,105.7 621.4,109.1 621.4,108.2 621.6,111.1 622.0,111.7 622.1,113.0 622.2,115.9 622.2,116.5 622.3,117.0 622.4,119.3 622.6,120.3 622.6,120.9 622.3,124.3 622.9,123.8 622.9,124.8 622.6,127.4 622.6,129.0 622.9,130.9 623.4,132.4 623.3,131.7 623.7,133.1 623.5,134.3 624.1,135.7 624.0,137.3 624.3,139.2 624.7,140.4 624.6,141.6 624.6,144.3 625.2,143.8 625.4,145.5 625.3,148.2 625.3,148.2 625.7,151.0 625.7,150.9 626.4,151.9 626.4,153.0 626.6,155.6 626.7,156.6 627.2,157.1 627.3,160.2 627.7,159.8 627.5,161.0 628.1,163.4 627.8,164.6 628.1,167.0 628.8,166.6 628.9,169.1 629.2,168.6 628.9,170.7 629.6,173.0 629.6,172.4 629.8,175.9 630.3,175.7 630.7,177.3 630.9,179.7 630.7,180.6 631.2,181.8 631.5,182.6 631.5,183.4 631.9,186.3 632.5,185.5 632.6,187.9 632.5,188.7 633.2,190.0 633.5,191.1 633.7,192.5 634.3,193.3 635.0,194.7 636.0,196.3 636.8,197.4 637.7,198.3 638.4,200.1 640.5,199.5 641.7,199.7 643.1,200.2 644.7,199.1 646.7,199.5 647.4,200.1 648.4,201.5 649.8,201.3 650.8,202.2 651.9,203.0 653.1,204.0 654.5,203.4 655.5,204.0 657.0,203.5 658.2,203.9 659.6,204.2 660.9,204.5 662.1,203.6 663.5,203.5 664.9,204.5 666.5,203.9 667.7,204.6 668.8,203.7 670.0,204.0 671.3,203.8 672.9,204.0 674.1,204.8 675.5,205.0 676.4,205.6 678.0,206.1 679.6,205.8 680.5,206.1 681.9,204.9 683.2,205.3 684.6,204.6 686.1,204.6 687.1,204.7 688.5,204.9 689.7,203.7 691.2,203.4 692.8,204.9 693.6,204.9 694.9,204.7 696.5,205.2 697.7,205.0 699.1,205.9 700.3,206.6 701.5,206.5 703.0,206.4 704.3,206.1 705.4,206.8 707.1,206.7 708.0,207.0 709.5,207.1 710.8,207.4 712.0,207.4 713.5,207.8 714.9,207.5 716.5,207.9 717.3,208.8 718.8,208.6 720.5,208.0 721.8,209.2 723.3,209.0 724.5,209.0 726.0,209.2 727.0,209.6 728.5,208.9 729.8,209.4 731.4,209.8 732.6,209.6 733.8,209.7 735.1,209.8 736.7,210.0 737.8,209.2 739.4,209.7 740.5,209.8 742.1,210.1 743.6,209.5 744.8,209.8 746.2,209.4 747.4,209.1 748.7,210.1 750.5,209.2 751.7,209.6 753.0,209.8" fill="none" stroke="#e2703a" stroke-width="1.0" stroke-linejoin="round"/>
<polyline points="563.8,101.0 563.9,102.6 564.0,103.2 564.1,103.7 563.9,105.8 564.0,107.1 564.0,108.6 564.1,109.8 563.8,112.3 564.2,113.6 563.8,113.6 564.3,116.7 564.2,115.9 563.9,119.3 563.9,120.3 564.1,121.6 563.9,122.1 564.2,123.9 563.9,124.3 564.0,125.1 564.3,128.8 564.3,129.8 564.1,129.2 564.4,132.6 564.4,134.1 564.4,134.7 564.2,136.5 564.2,135.5 564.2,136.8 564.2,139.6 564.1,140.1 564.4,141.7 564.6,143.6 564.3,143.6 565.4,144.7 566.0,147.3 566.1,146.5 566.7,145.4 567.3,143.4 567.7,142.3 568.1,139.8 568.7,139.6 569.1,136.8 569.6,136.6 570.3,135.3 570.8,134.1 571.4,134.4 571.8,137.2 572.1,136.0 573.2,139.1 573.5,140.2 573.9,140.9 575.0,142.2 575.4,142.3 576.0,142.7 576.4,140.1 577.5,139.8 577.8,138.9 578.7,137.2 579.4,135.0 579.2,133.7 579.8,131.3 579.6,131.9 580.0,128.8 580.4,127.8 580.6,126.4 580.6,126.0 580.9,125.5 581.3,123.2 581.2,121.6 581.8,121.7 582.1,121.9 582.5,123.4 583.2,123.3 583.4,126.7 584.1,128.3 584.9,129.6 585.0,126.3 585.9,126.5 586.1,124.9 586.7,122.8 587.2,122.1 587.5,119.4 587.6,119.8 587.6,116.1 588.0,116.4 588.4,115.8 588.4,113.9 589.0,112.2 589.4,111.9 589.4,108.9 589.4,109.5 589.7,105.8 590.1,106.2 590.7,104.8 590.5,103.8 591.2,102.2 591.7,103.6 592.0,105.3 592.4,106.9 592.7,106.3 593.2,109.9 593.7,107.4 593.9,106.6 593.9,104.8 593.9,102.4 594.3,101.3 594.2,101.0 594.4,100.0 594.5,98.0 594.8,96.9 595.1,96.9 595.4,95.3 595.8,92.7 597.2,93.3 599.0,95.1 598.6,93.9 599.2,91.9 598.9,91.7 598.9,88.4 599.0,88.8 599.1,87.8 599.4,85.9 599.4,83.5 599.4,83.1 600.8,82.1 601.8,82.4 602.5,79.2 603.1,79.0 603.6,78.6 604.4,76.3 605.0,74.2 605.1,73.6 605.6,73.1 605.4,72.3 606.0,69.4 605.6,67.3 606.3,65.9 606.2,65.8 606.6,63.4 606.7,64.4 606.8,62.8 606.8,60.0 606.9,58.6 607.0,57.5 607.7,55.2 607.9,55.8 607.9,53.1 608.3,52.2 608.3,50.1 608.7,49.3 608.6,47.2 609.5,45.8 609.8,43.7 610.0,44.9 610.2,47.6 610.9,48.5 611.4,49.7 611.2,52.2 611.6,53.3 611.6,54.1 611.7,55.4 611.5,57.0 611.9,58.2 612.1,59.0 611.9,59.9 612.1,61.9 612.3,59.5 612.4,58.0 612.7,57.5 613.1,57.2 613.3,54.2 613.3,53.5 613.7,51.0 613.6,50.2 613.8,49.1 614.0,47.7 614.3,47.0 614.9,46.2 614.7,45.3 615.2,43.3 615.2,42.1 615.6,39.3 615.6,39.2 615.6,37.9 616.3,36.8 616.1,35.9 616.7,33.9 616.8,31.1 617.1,32.8 617.6,33.9 618.4,37.6 618.7,38.8 618.7,38.5 618.7,41.7 618.5,41.6 618.8,43.2 619.1,44.1 618.9,46.4 619.2,46.5 619.4,49.2 619.6,50.4 619.5,52.0 619.7,53.3 619.5,53.6 619.9,55.1 619.7,57.4 619.7,58.2 620.0,59.7 620.3,61.5 620.5,60.9 621.3,60.0 621.6,61.0 621.9,60.5 622.6,63.4 622.9,64.8 623.2,64.5 623.3,65.8 623.7,67.3 623.7,68.4 624.0,70.4 623.9,71.5 624.0,73.1 624.0,74.9 624.1,74.8 624.7,76.7 624.7,78.5 624.9,80.7 624.7,80.4 624.8,82.4 624.9,83.8 625.5,84.6 625.3,85.5 625.5,88.1 625.9,89.8 626.0,91.1 626.0,91.3 626.6,91.5 626.3,93.2 626.7,96.3 627.1,96.8 626.8,98.6 627.2,98.8 627.1,101.3 627.4,101.5 627.8,102.5 627.5,105.4 627.9,106.6 628.0,106.7 628.1,110.0 628.1,111.2 628.5,113.2 628.2,113.4 628.3,114.2 628.5,115.7 628.6,116.5 628.7,117.5 628.7,119.8 629.3,121.2 629.4,123.0 629.3,122.7 629.6,124.3 629.6,126.3 629.5,128.4 630.1,128.0 630.1,131.2 630.1,130.4 630.7,133.8 630.9,134.0 630.7,136.5 631.5,137.6 631.6,139.3 631.7,139.5 632.0,140.0 631.9,142.8 631.9,142.5 632.5,144.8 632.7,146.3 632.4,147.0 632.6,148.4 632.8,151.2 633.2,151.4 633.5,153.0 633.6,155.0 633.5,155.7 634.0,157.1 633.9,159.7 633.8,159.9 634.2,162.2 634.1,162.4 634.6,163.9 634.5,164.7 634.9,166.7 634.8,166.7 635.4,168.9 635.1,170.3 635.4,171.2 635.6,173.9 635.9,175.8 635.9,175.0 636.4,177.1 636.7,179.2 636.5,179.9 636.8,182.2 636.9,181.7 637.4,183.9 637.4,184.5 637.8,185.1 637.8,188.3 638.4,188.5 638.3,191.0 638.9,193.1 639.0,193.8 639.3,195.8 639.9,196.2 640.5,197.4 641.7,197.5 643.2,198.5 644.2,199.8 645.5,200.3 646.8,201.2 648.2,201.9 649.4,203.2 650.2,203.8 651.9,203.5 653.1,203.5 654.6,203.3 655.6,203.6 656.8,204.3 658.3,203.3 659.5,203.9 661.2,203.9 662.6,204.5 663.4,204.4 664.9,203.8 666.4,203.4 667.7,203.7 668.7,204.2 670.2,203.8 671.2,203.6 672.6,204.2 674.3,204.3 675.3,205.3 676.9,204.7 677.8,205.4 679.5,206.3 680.6,205.5 682.0,206.1 683.1,205.1 684.8,204.5 685.7,205.3 687.0,204.9 688.5,204.8 689.9,204.5 691.2,203.5 692.2,204.5 693.7,204.1 695.4,205.3 696.6,205.3 697.6,205.9 699.2,205.9 700.3,206.1 701.4,206.6 703.0,206.4 704.4,206.8 705.6,206.5 706.7,206.9 708.5,207.5 709.5,207.4 710.8,207.3 712.0,207.5 713.4,208.4 714.9,207.6 716.1,207.5 717.7,208.3 718.6,208.1 720.0,209.1 721.7,208.5 722.9,209.4 724.3,208.6 725.5,208.9 727.1,209.7 728.4,209.6 730.1,209.5 731.5,209.0 732.7,209.1 733.9,210.0 735.2,210.0 736.9,209.4 737.8,209.6 739.4,209.1 740.5,209.3 742.0,210.0 743.4,210.1 744.8,209.2 746.4,210.1 747.4,209.8 748.8,209.8 750.0,209.6 751.9,209.1 753.0,209.8" fill="none" stroke="#e0463c" stroke-width="1.0" stroke-linejoin="round"/>
<polyline points="562.5,210.5 562.7,209.2 562.9,207.6 563.6,206.2 564.2,207.9 565.2,209.5 566.1,209.4 568.0,209.3 568.8,209.5 570.2,209.7 572.0,209.7 573.1,209.6 574.8,210.1 575.6,210.1 577.3,210.2 578.9,209.7 580.3,209.7 581.1,209.7 582.7,210.0 584.1,210.1 585.4,209.7 586.8,209.9 588.0,210.1 589.4,209.7 590.3,209.9 592.0,209.9 593.1,209.9 594.3,210.1 595.7,209.7 597.2,210.1 598.5,209.8 599.8,210.2 600.7,209.8 602.4,210.3 603.7,209.8 605.0,210.0 606.3,209.8 607.4,209.7 608.9,209.6 610.0,209.9 611.3,209.3 612.6,209.7 614.2,209.1 615.0,209.4 616.6,209.5 618.1,209.5 619.4,209.4 620.7,209.1 621.9,209.1 623.2,208.8 624.6,208.7 625.7,208.7 627.2,209.1 628.3,209.1 629.9,208.4 631.1,208.1 632.2,207.6 633.5,207.2 634.9,206.8 636.1,205.9 637.6,205.2 638.6,204.6 639.9,204.3 641.5,203.8 642.6,202.8 643.9,202.4 645.1,201.7 646.6,201.0 647.7,201.0 649.0,200.7 650.3,200.1 651.6,200.3 652.9,199.2 654.2,198.7 655.1,197.6 656.1,197.4 657.6,196.2 658.3,195.5 659.9,194.9 661.0,194.2 662.5,193.8 663.4,192.5 664.3,191.8 664.8,190.2 665.2,189.6 665.8,188.0 666.3,187.6 667.3,185.4 667.9,184.3 668.8,183.2 669.0,182.3 669.7,180.6 670.4,180.2 670.9,178.9 671.4,178.0 672.5,176.3 672.9,175.4 673.7,174.3 674.2,172.4 674.9,171.9 675.7,170.1 676.2,168.5 676.9,168.6 677.4,167.2 678.4,165.3 680.5,166.0 681.9,167.6 683.3,165.4 684.1,165.1 684.9,163.0 685.7,162.6 685.9,161.0 686.3,159.4 686.9,158.4 687.1,157.1 687.7,155.5 687.8,155.3 688.5,153.7 688.6,151.7 689.0,151.3 690.3,150.9 691.7,152.6 693.0,152.1 693.6,151.5 694.4,149.7 694.6,149.1 695.1,147.3 695.9,145.6 696.5,144.6 696.8,144.1 697.4,142.0 697.7,141.0 698.3,139.5 699.0,137.8 699.1,137.2 699.6,135.0 700.1,134.1 700.1,133.1 700.7,131.9 701.2,130.0 701.0,128.7 701.5,126.9 701.5,125.9 702.1,124.3 702.3,123.3 702.5,122.9 702.8,120.6 703.0,119.9 702.9,119.0 703.5,116.9 703.2,115.5 703.7,113.8 704.2,112.9 704.0,111.2 704.4,110.8 704.6,109.7 705.1,108.4 705.1,107.1 705.1,105.1 705.1,103.6 705.4,102.7 705.3,101.2 705.5,100.7 705.7,98.7 706.1,97.5 706.1,96.7 706.1,95.4 706.2,93.4 706.2,92.8 706.7,90.5 706.4,89.2 706.8,88.0 706.8,86.8 707.0,85.4 707.2,83.8 707.2,82.6 707.7,82.2 707.6,80.2 707.4,78.5 708.1,77.7 708.0,75.8 707.8,75.5 708.1,73.9 708.6,72.8 708.7,71.7 708.7,69.2 708.7,68.6 708.9,66.8 709.1,65.7 709.2,65.1 709.4,63.6 709.8,62.0 710.0,60.2 710.1,58.5 710.3,57.5 710.8,56.8 711.0,55.1 710.8,53.1 711.6,51.6 711.9,50.8 711.7,49.3 712.2,51.0 712.2,52.0 712.3,53.2 712.9,55.3 712.7,56.0 713.1,57.9 713.3,59.0 713.7,59.4 714.1,60.7 713.8,59.5 713.8,57.9 713.8,57.5 713.8,55.4 714.1,53.9 714.4,52.9 714.3,52.2 714.6,51.2 714.6,49.0 714.3,48.2 714.3,46.9 714.9,45.5 714.8,44.1 714.7,42.7 714.7,40.6 715.1,39.6 715.2,39.0 715.3,36.9 714.8,36.4 714.9,34.5 715.2,32.6 715.1,32.1 715.4,32.9 715.2,34.5 715.2,35.4 715.8,36.9 715.8,38.1 715.9,40.1 715.5,41.6 716.0,42.3 716.1,44.1 716.1,44.6 716.2,46.4 716.0,48.0 715.8,49.3 716.4,51.2 716.3,52.1 716.3,53.6 716.5,54.2 716.7,56.6 716.3,57.7 716.4,58.4 716.9,60.0 716.8,61.5 716.6,59.9 717.2,58.3 717.0,57.9 716.9,56.2 716.8,54.0 717.0,52.6 717.3,52.7 717.1,50.3 717.1,48.7 717.4,47.5 717.4,46.2 717.5,45.5 717.9,43.5 717.9,42.4 718.1,41.1 717.9,39.3 718.0,39.2 718.0,40.2 718.2,40.8 718.0,42.6 718.3,44.1 718.6,45.1 718.5,47.2 718.8,47.7 718.7,49.7 718.6,50.8 718.9,52.3 718.8,53.8 719.2,54.0 719.2,56.1 719.3,57.7 719.4,58.4 719.2,60.1 719.1,60.8 719.3,62.2 719.6,63.7 719.7,65.9 719.5,66.8 720.0,68.1 720.0,69.6 720.2,70.7 720.3,72.2 720.7,73.6 720.6,74.5 720.7,76.0 721.1,77.7 721.1,78.3 721.3,79.1 720.9,81.1 721.6,81.6 721.5,84.0 721.4,84.8 722.0,86.2 721.6,87.8 721.7,88.5 722.3,90.8 722.2,92.2 722.1,92.7 722.3,93.9 722.5,95.5 722.9,97.3 723.0,98.1 722.8,99.3 722.8,101.4 723.5,101.7 723.2,103.6 723.6,105.4 723.7,106.2 723.9,107.2 723.7,108.9 723.6,109.7 723.8,111.5 724.4,113.3 724.4,114.1 724.4,115.8 724.5,117.4 724.4,118.9 724.8,120.0 724.7,120.6 725.1,123.0 725.2,123.6 725.4,125.4 725.7,125.9 725.8,128.1 725.9,129.2 726.2,130.0 725.8,131.8 726.1,133.3 726.6,133.5 726.4,135.1 726.6,136.2 727.0,138.1 727.1,140.0 727.0,140.9 727.0,142.6 727.4,143.1 727.5,144.4 727.5,145.4 727.7,146.6 728.1,148.2 727.9,149.5 728.0,151.5 728.4,153.0 728.6,153.3 728.6,155.8 729.0,156.5 729.5,158.4 729.3,158.4 729.6,160.8 729.9,161.7 729.8,162.3 730.2,164.8 730.5,165.5 731.0,167.3 731.0,167.6 731.2,168.8 731.4,171.3 731.8,172.0 732.1,173.7 731.9,174.8 732.3,176.4 732.3,176.7 733.0,179.4 733.4,179.4 733.4,181.7 733.9,183.3 734.6,184.0 734.8,185.3 735.3,186.6 735.9,188.5 736.2,189.9 736.3,190.5 737.1,192.4 737.4,192.9 737.3,194.3 738.2,195.8 738.6,197.1 739.3,198.6 740.1,199.4 740.6,200.5 741.3,201.7 742.3,203.5 742.9,204.8 743.4,205.7 744.5,206.9 745.8,207.2 747.0,207.6 748.3,207.9 749.1,208.3 750.8,209.0 751.8,209.5 753.1,209.8" fill="none" stroke="#3a4aa8" stroke-width="1.0" stroke-linejoin="round"/>
<path d="M561.7,19.5 H754.2 V211.4 H561.7 Z" fill="none" stroke="#111" stroke-width="1.4"/>
<line x1="556.70" y1="211.50" x2="561.70" y2="211.50" stroke="#222" stroke-width="1.1" />
<text transform="translate(553.20,214.80) scale(1,1.04)" font-size="9.2" font-weight="normal" fill="#2a2a2a" text-anchor="end" >0</text>
<line x1="558.70" y1="202.38" x2="561.70" y2="202.38" stroke="#444" stroke-width="1.0" />
<line x1="558.70" y1="193.25" x2="561.70" y2="193.25" stroke="#444" stroke-width="1.0" />
<line x1="558.70" y1="184.12" x2="561.70" y2="184.12" stroke="#444" stroke-width="1.0" />
<line x1="556.70" y1="175.00" x2="561.70" y2="175.00" stroke="#222" stroke-width="1.1" />
<text transform="translate(553.20,178.30) scale(1,1.04)" font-size="9.2" font-weight="normal" fill="#2a2a2a" text-anchor="end" >20</text>
<line x1="558.70" y1="165.88" x2="561.70" y2="165.88" stroke="#444" stroke-width="1.0" />
<line x1="558.70" y1="156.75" x2="561.70" y2="156.75" stroke="#444" stroke-width="1.0" />
<line x1="558.70" y1="147.62" x2="561.70" y2="147.62" stroke="#444" stroke-width="1.0" />
<line x1="556.70" y1="138.50" x2="561.70" y2="138.50" stroke="#222" stroke-width="1.1" />
<text transform="translate(553.20,141.80) scale(1,1.04)" font-size="9.2" font-weight="normal" fill="#2a2a2a" text-anchor="end" >40</text>
<line x1="558.70" y1="129.38" x2="561.70" y2="129.38" stroke="#444" stroke-width="1.0" />
<line x1="558.70" y1="120.25" x2="561.70" y2="120.25" stroke="#444" stroke-width="1.0" />
<line x1="558.70" y1="111.12" x2="561.70" y2="111.12" stroke="#444" stroke-width="1.0" />
<line x1="556.70" y1="102.00" x2="561.70" y2="102.00" stroke="#222" stroke-width="1.1" />
<text transform="translate(553.20,105.30) scale(1,1.04)" font-size="9.2" font-weight="normal" fill="#2a2a2a" text-anchor="end" >60</text>
<line x1="558.70" y1="92.88" x2="561.70" y2="92.88" stroke="#444" stroke-width="1.0" />
<line x1="558.70" y1="83.75" x2="561.70" y2="83.75" stroke="#444" stroke-width="1.0" />
<line x1="558.70" y1="74.62" x2="561.70" y2="74.62" stroke="#444" stroke-width="1.0" />
<line x1="556.70" y1="65.50" x2="561.70" y2="65.50" stroke="#222" stroke-width="1.1" />
<text transform="translate(553.20,68.80) scale(1,1.04)" font-size="9.2" font-weight="normal" fill="#2a2a2a" text-anchor="end" >80</text>
<line x1="558.70" y1="56.38" x2="561.70" y2="56.38" stroke="#444" stroke-width="1.0" />
<line x1="558.70" y1="47.25" x2="561.70" y2="47.25" stroke="#444" stroke-width="1.0" />
<line x1="558.70" y1="38.12" x2="561.70" y2="38.12" stroke="#444" stroke-width="1.0" />
<line x1="556.70" y1="29.00" x2="561.70" y2="29.00" stroke="#222" stroke-width="1.1" />
<text transform="translate(553.20,32.30) scale(1,1.04)" font-size="9.2" font-weight="normal" fill="#2a2a2a" text-anchor="end" >100</text>
<line x1="561.70" y1="211.40" x2="561.70" y2="216.40" stroke="#222" stroke-width="1.1" />
<text x="561.10" y="229.8" font-size="9.6" fill="#2a2a2a" stroke="#2a2a2a" stroke-width="0.15" text-anchor="middle">10<tspan dy="-4" font-size="7">0</tspan></text>
<line x1="576.18" y1="211.40" x2="576.18" y2="214.40" stroke="#444" stroke-width="1.0" />
<line x1="584.65" y1="211.40" x2="584.65" y2="214.40" stroke="#444" stroke-width="1.0" />
<line x1="590.66" y1="211.40" x2="590.66" y2="214.40" stroke="#444" stroke-width="1.0" />
<line x1="595.32" y1="211.40" x2="595.32" y2="214.40" stroke="#444" stroke-width="1.0" />
<line x1="599.13" y1="211.40" x2="599.13" y2="214.40" stroke="#444" stroke-width="1.0" />
<line x1="602.35" y1="211.40" x2="602.35" y2="214.40" stroke="#444" stroke-width="1.0" />
<line x1="605.14" y1="211.40" x2="605.14" y2="214.40" stroke="#444" stroke-width="1.0" />
<line x1="607.60" y1="211.40" x2="607.60" y2="214.40" stroke="#444" stroke-width="1.0" />
<line x1="609.80" y1="211.40" x2="609.80" y2="216.40" stroke="#222" stroke-width="1.1" />
<text x="609.20" y="229.8" font-size="9.6" fill="#2a2a2a" stroke="#2a2a2a" stroke-width="0.15" text-anchor="middle">10<tspan dy="-4" font-size="7">1</tspan></text>
<line x1="624.28" y1="211.40" x2="624.28" y2="214.40" stroke="#444" stroke-width="1.0" />
<line x1="632.75" y1="211.40" x2="632.75" y2="214.40" stroke="#444" stroke-width="1.0" />
<line x1="638.76" y1="211.40" x2="638.76" y2="214.40" stroke="#444" stroke-width="1.0" />
<line x1="643.42" y1="211.40" x2="643.42" y2="214.40" stroke="#444" stroke-width="1.0" />
<line x1="647.23" y1="211.40" x2="647.23" y2="214.40" stroke="#444" stroke-width="1.0" />
<line x1="650.45" y1="211.40" x2="650.45" y2="214.40" stroke="#444" stroke-width="1.0" />
<line x1="653.24" y1="211.40" x2="653.24" y2="214.40" stroke="#444" stroke-width="1.0" />
<line x1="655.70" y1="211.40" x2="655.70" y2="214.40" stroke="#444" stroke-width="1.0" />
<line x1="657.90" y1="211.40" x2="657.90" y2="216.40" stroke="#222" stroke-width="1.1" />
<text x="657.30" y="229.8" font-size="9.6" fill="#2a2a2a" stroke="#2a2a2a" stroke-width="0.15" text-anchor="middle">10<tspan dy="-4" font-size="7">2</tspan></text>
<line x1="672.38" y1="211.40" x2="672.38" y2="214.40" stroke="#444" stroke-width="1.0" />
<line x1="680.85" y1="211.40" x2="680.85" y2="214.40" stroke="#444" stroke-width="1.0" />
<line x1="686.86" y1="211.40" x2="686.86" y2="214.40" stroke="#444" stroke-width="1.0" />
<line x1="691.52" y1="211.40" x2="691.52" y2="214.40" stroke="#444" stroke-width="1.0" />
<line x1="695.33" y1="211.40" x2="695.33" y2="214.40" stroke="#444" stroke-width="1.0" />
<line x1="698.55" y1="211.40" x2="698.55" y2="214.40" stroke="#444" stroke-width="1.0" />
<line x1="701.34" y1="211.40" x2="701.34" y2="214.40" stroke="#444" stroke-width="1.0" />
<line x1="703.80" y1="211.40" x2="703.80" y2="214.40" stroke="#444" stroke-width="1.0" />
<line x1="706.00" y1="211.40" x2="706.00" y2="216.40" stroke="#222" stroke-width="1.1" />
<text x="705.40" y="229.8" font-size="9.6" fill="#2a2a2a" stroke="#2a2a2a" stroke-width="0.15" text-anchor="middle">10<tspan dy="-4" font-size="7">3</tspan></text>
<line x1="720.48" y1="211.40" x2="720.48" y2="214.40" stroke="#444" stroke-width="1.0" />
<line x1="728.95" y1="211.40" x2="728.95" y2="214.40" stroke="#444" stroke-width="1.0" />
<line x1="734.96" y1="211.40" x2="734.96" y2="214.40" stroke="#444" stroke-width="1.0" />
<line x1="739.62" y1="211.40" x2="739.62" y2="214.40" stroke="#444" stroke-width="1.0" />
<line x1="743.43" y1="211.40" x2="743.43" y2="214.40" stroke="#444" stroke-width="1.0" />
<line x1="746.65" y1="211.40" x2="746.65" y2="214.40" stroke="#444" stroke-width="1.0" />
<line x1="749.44" y1="211.40" x2="749.44" y2="214.40" stroke="#444" stroke-width="1.0" />
<line x1="751.90" y1="211.40" x2="751.90" y2="214.40" stroke="#444" stroke-width="1.0" />
<line x1="754.10" y1="211.40" x2="754.10" y2="216.40" stroke="#222" stroke-width="1.1" />
<text x="753.50" y="229.8" font-size="9.6" fill="#2a2a2a" stroke="#2a2a2a" stroke-width="0.15" text-anchor="middle">10<tspan dy="-4" font-size="7">4</tspan></text>
<rect x="524.5" y="266.25" width="10.2" height="9.6" rx="1.8" fill="#da3529"/>
<text transform="translate(542.80,275.90) scale(1,1.04)" font-size="14.6" font-weight="bold" fill="#000" stroke="#000" stroke-width="0.3" text-anchor="start" >Vehicle</text>
<rect x="524.5" y="283.65" width="10.2" height="9.6" rx="1.8" fill="#5ec24b"/>
<text transform="translate(542.80,293.30) scale(1,1.04)" font-size="14.6" font-weight="bold" fill="#000" stroke="#000" stroke-width="0.3" text-anchor="start" >2.5μM MAKV-8 – 2.5μM imatinib</text>
<rect x="524.5" y="301.05" width="10.2" height="9.6" rx="1.8" fill="#e2691b"/>
<text transform="translate(542.80,310.70) scale(1,1.04)" font-size="14.6" font-weight="bold" fill="#000" stroke="#000" stroke-width="0.3" text-anchor="start" >5μM MAKV-8 – 0.25μM imatinib</text>
<rect x="524.5" y="318.45" width="10.2" height="9.6" rx="1.8" fill="#9fe1de"/>
<text transform="translate(542.80,328.10) scale(1,1.04)" font-size="14.6" font-weight="bold" fill="#000" stroke="#000" stroke-width="0.3" text-anchor="start" >10μM MAKV-8 – 0.25μM imatinib</text>
<rect x="524.5" y="335.85" width="10.2" height="9.6" rx="1.8" fill="#2c41a6"/>
<text transform="translate(542.80,345.50) scale(1,1.04)" font-size="14.6" font-weight="bold" fill="#000" stroke="#000" stroke-width="0.3" text-anchor="start" >Positive control</text>
<text transform="translate(0.00,492.50) scale(1,1.04)" font-size="14.6" font-weight="bold" fill="#000" stroke="#000" stroke-width="0.3" text-anchor="start" >B</text>
<defs><filter id="bl" x="-5%" y="-5%" width="110%" height="110%"><feGaussianBlur stdDeviation="0.5"/></filter></defs>
<text transform="translate(135.00,492.50) scale(1,1.04)" font-size="14.6" font-weight="bold" fill="#000" stroke="#000" stroke-width="0.3" text-anchor="end" >5μM MAKV-8</text>
<text transform="translate(135.00,510.00) scale(1,1.04)" font-size="14.6" font-weight="bold" fill="#000" stroke="#000" stroke-width="0.3" text-anchor="end" >0.1μM Imatinib</text>
<text transform="translate(170.90,492.50) scale(1,1.04)" font-size="14.6" font-weight="bold" fill="#000" stroke="#000" stroke-width="0.3" text-anchor="middle" >-</text>
<text transform="translate(170.90,510.00) scale(1,1.04)" font-size="14.6" font-weight="bold" fill="#000" stroke="#000" stroke-width="0.3" text-anchor="middle" >-</text>
<g filter="url(#bl)">
<rect x="133.50" y="512.00" width="74.8" height="74.8" fill="#eeeeee"/>
<circle cx="170.90" cy="549.40" r="36.2" fill="#f0f0f0" stroke="#d4d4d4" stroke-width="0.9"/>
<circle cx="170.90" cy="549.40" r="32.7" fill="#e9e9e9" stroke="#d3d3d3" stroke-width="3"/>
<circle cx="170.90" cy="549.40" r="31.3" fill="none" stroke="#b9b9b9" stroke-width="0.9"/>
<circle cx="170.90" cy="549.40" r="34.2" fill="none" stroke="#c4c4c4" stroke-width="0.6"/>
<path d="M153.7 559.1h0M173.7 566.7h0M175.9 574.0h0M176.6 532.8h0M191.7 568.7h0M162.5 560.6h0M191.1 555.0h0M180.5 555.9h0M161.4 558.4h0M178.5 531.3h0M152.9 547.5h0M167.6 524.1h0M183.5 531.2h0M194.0 554.8h0" stroke="rgb(80,80,80)" stroke-width="1.6" stroke-linecap="round"/>
<path d="M172.5 555.3h0M188.0 556.9h0M184.4 561.0h0M162.4 563.0h0M155.8 541.1h0M189.0 544.7h0M150.3 528.8h0M150.4 569.3h0M163.5 551.8h0M164.4 559.4h0M164.1 539.3h0M175.1 529.8h0M166.8 573.7h0M148.4 546.2h0M144.0 561.1h0M159.3 543.1h0M155.5 537.4h0M191.2 540.6h0M167.3 551.1h0" stroke="rgb(100,100,100)" stroke-width="1.6" stroke-linecap="round"/>
<path d="M157.2 544.9h0M189.5 556.8h0M166.4 534.9h0M174.8 548.5h0M195.7 545.7h0M198.9 558.5h0M149.5 564.1h0M188.9 531.8h0M184.3 539.3h0M173.5 553.0h0M190.7 530.5h0M163.8 554.9h0M175.0 539.3h0M186.0 537.7h0M164.7 540.8h0M146.1 536.5h0M187.7 529.3h0" stroke="rgb(120,120,120)" stroke-width="1.6" stroke-linecap="round"/>
<path d="M166.7 548.1h0M151.5 564.9h0M198.2 554.6h0M188.3 544.4h0" stroke="rgb(140,140,140)" stroke-width="1.6" stroke-linecap="round"/>
<path d="M150.5 547.7h0M173.4 523.7h0M164.6 542.7h0M185.1 573.3h0M163.4 529.5h0M144.5 537.9h0M187.5 530.2h0M180.4 533.7h0M156.9 551.5h0M181.6 561.9h0M162.1 549.4h0M190.0 555.5h0M146.8 566.9h0" stroke="rgb(80,80,80)" stroke-width="2.0" stroke-linecap="round"/>
<path d="M180.2 553.0h0M172.6 526.9h0M173.9 557.3h0M154.1 565.3h0M198.4 557.8h0M152.0 532.4h0M151.3 564.9h0M189.0 542.5h0M183.9 525.2h0M145.5 537.7h0M158.2 573.2h0M191.2 570.7h0M174.9 573.7h0M180.8 571.4h0M180.8 566.8h0M196.5 559.4h0M176.9 536.5h0" stroke="rgb(100,100,100)" stroke-width="2.0" stroke-linecap="round"/>
<path d="M172.3 575.6h0M177.1 526.3h0M168.2 535.1h0M182.0 553.3h0M153.5 540.0h0M188.7 551.8h0M142.2 550.3h0M170.5 551.6h0M195.8 544.0h0M163.2 567.2h0M190.5 531.9h0M168.6 577.4h0M183.5 533.6h0M171.6 558.2h0M171.5 566.7h0M200.1 550.4h0M180.4 537.9h0M169.1 544.1h0M184.4 573.4h0M170.9 530.2h0M162.5 558.9h0M171.2 570.1h0M167.3 565.8h0" stroke="rgb(120,120,120)" stroke-width="2.0" stroke-linecap="round"/>
<path d="M173.9 549.9h0M177.6 522.9h0M164.6 539.7h0M184.8 539.2h0M165.3 523.8h0M164.9 561.4h0M150.4 565.4h0M181.2 528.1h0" stroke="rgb(140,140,140)" stroke-width="2.0" stroke-linecap="round"/>
<path d="M171.4 554.7h0M178.8 567.3h0M180.3 556.4h0M172.6 522.5h0M191.7 562.1h0M147.6 533.9h0M152.0 563.5h0M147.5 544.6h0M159.0 572.9h0M158.5 523.4h0M176.8 536.8h0M167.6 522.6h0M182.6 554.6h0M167.3 570.0h0M158.8 560.3h0M160.3 559.5h0M183.6 553.7h0M197.3 563.0h0M192.6 540.2h0M153.9 551.0h0M156.8 547.8h0M169.5 538.3h0M162.1 556.7h0M147.9 550.0h0M172.7 528.6h0M155.0 563.2h0M165.0 560.7h0M168.6 565.5h0M183.2 570.4h0M185.5 543.6h0M177.9 564.0h0" stroke="rgb(200,200,200)" stroke-width="2.0" stroke-linecap="round"/>
<path d="M192.5 558.1h0M154.9 561.9h0M169.8 563.5h0M179.5 562.7h0M173.2 567.1h0M195.5 538.2h0M179.4 557.0h0M163.3 524.9h0" stroke="rgb(220,220,220)" stroke-width="2.0" stroke-linecap="round"/>
<path d="M176.8 565.0h0M185.0 533.7h0M166.6 541.6h0M169.9 532.7h0M162.6 547.2h0M153.0 557.3h0M157.6 552.3h0" stroke="rgb(80,80,80)" stroke-width="2.4" stroke-linecap="round"/>
<path d="M150.3 564.7h0M186.1 530.8h0M189.9 548.2h0M175.5 561.2h0M186.4 564.5h0M169.3 531.8h0M168.6 564.4h0" stroke="rgb(100,100,100)" stroke-width="2.4" stroke-linecap="round"/>
<path d="M160.4 552.3h0M192.1 567.8h0M195.8 539.9h0M193.1 550.4h0M154.2 564.2h0M183.7 527.5h0" stroke="rgb(120,120,120)" stroke-width="2.4" stroke-linecap="round"/>
<path d="M187.6 551.2h0M183.5 553.6h0M160.0 543.4h0M159.4 549.3h0M184.4 538.2h0" stroke="rgb(140,140,140)" stroke-width="2.4" stroke-linecap="round"/>
<path d="M172.1 558.0h0M189.0 529.7h0M155.2 555.6h0M194.2 555.7h0M174.5 570.9h0M178.5 542.2h0M142.2 555.6h0M194.1 542.3h0M157.3 529.2h0M153.5 544.2h0M178.8 546.1h0M182.2 531.1h0M177.9 565.0h0M178.6 574.4h0M174.0 565.8h0M189.2 529.4h0M175.4 531.2h0M164.8 567.8h0M182.6 522.9h0M172.8 545.5h0M171.2 565.1h0M174.1 550.3h0M171.8 545.1h0M183.4 571.4h0M184.5 523.2h0M181.0 539.5h0" stroke="rgb(200,200,200)" stroke-width="2.4" stroke-linecap="round"/>
<path d="M142.2 547.2h0M198.9 548.4h0M175.3 526.9h0M183.0 549.2h0M195.6 559.2h0" stroke="rgb(220,220,220)" stroke-width="2.4" stroke-linecap="round"/>
<path d="M168.0 553.0h0M158.0 523.2h0M195.9 547.6h0M144.9 557.3h0M145.7 539.2h0M153.4 534.7h0M165.8 567.1h0M184.8 542.6h0M159.6 570.1h0M168.1 520.4h0M141.1 547.7h0M157.0 540.0h0M194.0 567.5h0M171.9 563.0h0M198.1 548.9h0M179.4 550.8h0M153.1 570.8h0M177.3 520.6h0M152.2 532.8h0M179.3 551.2h0M191.2 544.6h0M182.0 574.5h0M156.2 574.5h0M182.8 565.7h0M172.9 542.7h0M183.2 565.4h0" stroke="rgb(200,200,200)" stroke-width="2.8" stroke-linecap="round"/>
<path d="M168.3 535.9h0M192.0 542.5h0M151.6 528.3h0M155.6 530.5h0M145.0 552.2h0M185.4 561.8h0M161.9 560.7h0M145.3 557.9h0M148.7 549.2h0M180.1 531.4h0M159.4 542.2h0M192.7 533.1h0M151.7 531.3h0M171.7 519.8h0M177.0 549.7h0M190.1 543.6h0" stroke="rgb(220,220,220)" stroke-width="2.8" stroke-linecap="round"/>
</g>
<text transform="translate(251.20,492.50) scale(1,1.04)" font-size="14.6" font-weight="bold" fill="#000" stroke="#000" stroke-width="0.3" text-anchor="middle" >+</text>
<text transform="translate(251.20,510.00) scale(1,1.04)" font-size="14.6" font-weight="bold" fill="#000" stroke="#000" stroke-width="0.3" text-anchor="middle" >-</text>
<g filter="url(#bl)">
<rect x="213.80" y="512.00" width="74.8" height="74.8" fill="#eeeeee"/>
<circle cx="251.20" cy="549.40" r="36.2" fill="#f0f0f0" stroke="#d4d4d4" stroke-width="0.9"/>
<circle cx="251.20" cy="549.40" r="32.7" fill="#e9e9e9" stroke="#d3d3d3" stroke-width="3"/>
<circle cx="251.20" cy="549.40" r="31.3" fill="none" stroke="#b9b9b9" stroke-width="0.9"/>
<circle cx="251.20" cy="549.40" r="34.2" fill="none" stroke="#c4c4c4" stroke-width="0.6"/>
<path d="M262.8 547.4h0M233.8 541.6h0M230.6 551.3h0M248.1 545.6h0M261.2 552.3h0" stroke="rgb(80,80,80)" stroke-width="1.6" stroke-linecap="round"/>
<path d="M255.8 533.0h0M278.1 538.7h0M269.0 528.5h0M233.0 559.5h0M257.4 561.1h0M277.7 556.0h0M265.8 555.5h0M234.6 525.4h0M249.5 521.3h0M231.2 554.5h0" stroke="rgb(100,100,100)" stroke-width="1.6" stroke-linecap="round"/>
<path d="M247.8 569.4h0M278.2 543.5h0M226.8 539.5h0M265.8 552.2h0M259.3 542.1h0M249.3 579.0h0M241.6 538.3h0M238.8 561.1h0M222.6 557.4h0M244.9 537.4h0M243.3 545.2h0M268.1 545.8h0" stroke="rgb(120,120,120)" stroke-width="1.6" stroke-linecap="round"/>
<path d="M242.4 536.2h0M256.8 555.1h0M269.1 550.1h0M248.4 551.6h0M261.8 546.7h0M245.9 527.3h0M251.9 537.0h0M254.7 547.0h0M244.5 553.9h0M256.2 548.2h0" stroke="rgb(140,140,140)" stroke-width="1.6" stroke-linecap="round"/>
<path d="M242.2 545.2h0M251.5 553.5h0M238.0 558.0h0M265.1 566.0h0M253.4 551.4h0M239.3 549.8h0M259.8 570.3h0M247.0 546.4h0M268.5 557.9h0M265.3 523.7h0M244.5 566.1h0" stroke="rgb(80,80,80)" stroke-width="2.0" stroke-linecap="round"/>
<path d="M242.7 564.6h0M260.6 568.0h0M233.5 572.2h0M247.0 577.2h0M263.6 530.1h0M273.4 562.1h0M268.4 548.8h0M265.4 541.0h0M230.0 557.3h0M242.0 561.6h0M238.3 571.8h0M226.5 541.2h0M225.2 547.1h0M265.7 524.4h0M258.6 563.9h0M246.0 522.7h0M256.8 577.0h0M272.8 543.5h0M271.1 539.1h0" stroke="rgb(100,100,100)" stroke-width="2.0" stroke-linecap="round"/>
<path d="M262.6 546.6h0M244.3 533.2h0M252.1 521.3h0M249.1 538.4h0M230.4 568.5h0M224.9 551.1h0M250.2 533.2h0M243.3 537.5h0M240.1 549.3h0M233.9 544.3h0M261.7 575.1h0M231.0 540.4h0" stroke="rgb(120,120,120)" stroke-width="2.0" stroke-linecap="round"/>
<path d="M252.8 568.0h0M245.2 567.6h0M258.2 572.7h0M250.7 533.4h0M223.4 540.1h0M233.6 557.2h0M246.4 539.9h0M272.2 528.7h0M236.3 535.6h0" stroke="rgb(140,140,140)" stroke-width="2.0" stroke-linecap="round"/>
<path d="M235.1 548.7h0M255.6 572.1h0M229.6 537.9h0M258.6 551.0h0M231.2 534.4h0M271.4 566.9h0M248.5 564.3h0M267.3 563.7h0M243.9 566.6h0M231.9 552.4h0M233.8 547.4h0M262.9 541.0h0M244.7 533.4h0M257.0 520.8h0M265.0 559.5h0M273.5 532.7h0M261.6 575.0h0M224.4 542.3h0M230.9 559.5h0M241.6 544.7h0M244.6 541.1h0M240.6 534.4h0M275.1 553.4h0M229.0 549.8h0M241.8 573.0h0M235.2 534.1h0M252.0 526.6h0M226.9 561.9h0M271.4 567.8h0M261.5 533.0h0M269.5 570.1h0M250.5 526.2h0M275.2 537.8h0M269.9 543.1h0" stroke="rgb(200,200,200)" stroke-width="2.0" stroke-linecap="round"/>
<path d="M236.7 567.6h0M240.3 542.3h0M267.8 548.2h0" stroke="rgb(220,220,220)" stroke-width="2.0" stroke-linecap="round"/>
<path d="M245.3 571.4h0M256.6 552.2h0M225.9 535.0h0" stroke="rgb(80,80,80)" stroke-width="2.4" stroke-linecap="round"/>
<path d="M260.6 556.8h0M246.3 536.3h0" stroke="rgb(100,100,100)" stroke-width="2.4" stroke-linecap="round"/>
<path d="M245.4 538.7h0M272.5 565.6h0M244.5 570.4h0M245.7 546.8h0M270.9 558.4h0M240.9 548.7h0M278.0 553.5h0M224.1 556.9h0M265.4 544.5h0M239.8 576.6h0" stroke="rgb(120,120,120)" stroke-width="2.4" stroke-linecap="round"/>
<path d="M261.4 540.0h0M245.6 556.1h0" stroke="rgb(140,140,140)" stroke-width="2.4" stroke-linecap="round"/>
<path d="M251.1 521.1h0M221.8 549.2h0M244.7 537.1h0M223.1 543.5h0M273.3 531.4h0M264.3 535.3h0M240.5 565.9h0M237.8 562.4h0M259.3 524.4h0M237.8 528.6h0M224.0 549.1h0M259.0 556.8h0M244.7 533.5h0M230.4 556.8h0M262.6 544.5h0M253.8 548.4h0M255.2 527.7h0M234.6 548.3h0M233.0 571.8h0" stroke="rgb(200,200,200)" stroke-width="2.4" stroke-linecap="round"/>
<path d="M254.4 533.6h0M274.8 547.1h0M231.8 534.9h0M222.2 557.4h0M232.0 547.5h0M254.1 557.0h0" stroke="rgb(220,220,220)" stroke-width="2.4" stroke-linecap="round"/>
<path d="M255.4 552.0h0M242.9 532.1h0M250.6 565.3h0M242.9 539.5h0M241.6 561.3h0M277.8 540.8h0M253.9 527.2h0M261.4 577.2h0M263.5 552.6h0M242.8 554.0h0M237.5 569.5h0M232.4 532.8h0M243.2 536.3h0M236.2 549.9h0M264.4 534.3h0M255.3 544.6h0M256.4 576.3h0M238.1 563.5h0M258.4 565.6h0M263.0 552.2h0" stroke="rgb(200,200,200)" stroke-width="2.8" stroke-linecap="round"/>
<path d="M263.1 560.8h0M241.1 565.2h0" stroke="rgb(220,220,220)" stroke-width="2.8" stroke-linecap="round"/>
</g>
<text transform="translate(331.50,492.50) scale(1,1.04)" font-size="14.6" font-weight="bold" fill="#000" stroke="#000" stroke-width="0.3" text-anchor="middle" >-</text>
<text transform="translate(331.50,510.00) scale(1,1.04)" font-size="14.6" font-weight="bold" fill="#000" stroke="#000" stroke-width="0.3" text-anchor="middle" >+</text>
<g filter="url(#bl)">
<rect x="294.10" y="512.00" width="74.8" height="74.8" fill="#eeeeee"/>
<circle cx="331.50" cy="549.40" r="36.2" fill="#f0f0f0" stroke="#d4d4d4" stroke-width="0.9"/>
<circle cx="331.50" cy="549.40" r="32.7" fill="#e9e9e9" stroke="#d3d3d3" stroke-width="3"/>
<circle cx="331.50" cy="549.40" r="31.3" fill="none" stroke="#b9b9b9" stroke-width="0.9"/>
<circle cx="331.50" cy="549.40" r="34.2" fill="none" stroke="#c4c4c4" stroke-width="0.6"/>
<path d="M347.3 543.4h0M311.9 563.6h0M331.7 539.9h0M324.6 540.6h0" stroke="rgb(100,100,100)" stroke-width="1.2" stroke-linecap="round"/>
<path d="M332.0 578.5h0M343.2 550.3h0M343.9 546.8h0" stroke="rgb(120,120,120)" stroke-width="1.2" stroke-linecap="round"/>
<path d="M311.1 539.2h0M344.9 533.5h0M328.1 524.5h0M338.9 526.9h0M333.6 547.8h0M333.2 530.8h0M325.6 559.7h0M347.5 535.0h0" stroke="rgb(140,140,140)" stroke-width="1.2" stroke-linecap="round"/>
<path d="M321.3 575.0h0M340.0 575.7h0M330.0 576.7h0" stroke="rgb(160,160,160)" stroke-width="1.2" stroke-linecap="round"/>
<path d="M329.4 530.4h0M316.1 574.6h0M357.5 558.1h0M353.8 538.0h0M329.9 520.4h0M322.0 562.1h0" stroke="rgb(100,100,100)" stroke-width="1.6" stroke-linecap="round"/>
<path d="M314.7 567.3h0M338.6 541.6h0M326.5 551.8h0M307.3 560.6h0M331.3 574.8h0M306.9 549.3h0M330.9 548.3h0M321.5 536.2h0M313.5 554.2h0M326.4 543.8h0M310.5 552.5h0M323.4 545.6h0M338.9 544.1h0M340.8 559.5h0M346.3 554.1h0" stroke="rgb(120,120,120)" stroke-width="1.6" stroke-linecap="round"/>
<path d="M329.1 555.6h0M317.6 553.9h0M342.6 567.2h0M349.6 530.0h0M335.6 576.0h0M349.2 533.1h0M327.5 560.5h0M345.1 538.6h0M305.8 535.6h0M309.2 544.9h0M325.7 558.4h0M316.9 566.9h0M305.1 554.4h0M325.0 554.8h0" stroke="rgb(140,140,140)" stroke-width="1.6" stroke-linecap="round"/>
<path d="M320.5 540.8h0M356.3 533.4h0M358.6 556.6h0M322.8 551.0h0M329.6 525.7h0M328.8 547.8h0M324.1 573.3h0" stroke="rgb(160,160,160)" stroke-width="1.6" stroke-linecap="round"/>
<path d="M308.7 537.6h0" stroke="rgb(100,100,100)" stroke-width="2.0" stroke-linecap="round"/>
<path d="M351.2 567.3h0M330.7 554.7h0M332.0 544.0h0" stroke="rgb(120,120,120)" stroke-width="2.0" stroke-linecap="round"/>
<path d="M331.7 545.0h0M322.1 566.9h0M353.6 565.5h0M312.7 558.3h0M315.1 565.6h0" stroke="rgb(140,140,140)" stroke-width="2.0" stroke-linecap="round"/>
<path d="M351.5 567.6h0" stroke="rgb(160,160,160)" stroke-width="2.0" stroke-linecap="round"/>
<path d="M343.5 533.1h0M319.7 570.6h0M335.7 552.5h0M348.8 532.2h0M333.8 534.4h0M309.0 548.5h0M323.1 566.9h0M341.6 523.0h0M360.3 553.1h0M332.7 577.4h0M347.2 568.2h0M311.7 528.0h0M348.8 539.2h0M312.3 533.1h0M321.9 575.7h0M317.7 576.2h0M322.2 521.9h0" stroke="rgb(200,200,200)" stroke-width="2.0" stroke-linecap="round"/>
<path d="M336.1 534.6h0M335.5 540.2h0M342.2 546.6h0M316.9 550.8h0" stroke="rgb(220,220,220)" stroke-width="2.0" stroke-linecap="round"/>
<path d="M324.0 562.6h0M353.2 566.8h0M333.1 530.2h0M330.6 523.7h0M302.2 548.8h0M351.6 560.9h0M351.8 543.8h0M317.0 554.6h0M321.6 567.1h0M301.8 549.3h0M358.9 546.6h0M308.5 551.0h0" stroke="rgb(200,200,200)" stroke-width="2.4" stroke-linecap="round"/>
<path d="M315.9 532.2h0M337.2 564.1h0" stroke="rgb(220,220,220)" stroke-width="2.4" stroke-linecap="round"/>
<path d="M335.1 578.4h0M330.7 533.0h0M338.2 526.3h0M343.0 541.1h0M318.7 571.2h0M317.9 550.0h0M338.2 552.1h0M341.3 575.0h0M323.6 563.4h0M341.1 523.3h0M335.5 526.2h0M331.4 530.9h0M338.4 556.3h0M345.3 560.0h0M324.6 527.2h0M309.3 560.3h0M347.5 551.0h0M319.9 565.3h0" stroke="rgb(200,200,200)" stroke-width="2.8" stroke-linecap="round"/>
<path d="M321.5 561.7h0M323.6 540.6h0M313.5 572.5h0" stroke="rgb(220,220,220)" stroke-width="2.8" stroke-linecap="round"/>
</g>
<text transform="translate(411.80,492.50) scale(1,1.04)" font-size="14.6" font-weight="bold" fill="#000" stroke="#000" stroke-width="0.3" text-anchor="middle" >+</text>
<text transform="translate(411.80,510.00) scale(1,1.04)" font-size="14.6" font-weight="bold" fill="#000" stroke="#000" stroke-width="0.3" text-anchor="middle" >+</text>
<g filter="url(#bl)">
<rect x="374.40" y="512.00" width="74.8" height="74.8" fill="#eeeeee"/>
<circle cx="411.80" cy="549.40" r="36.2" fill="#f0f0f0" stroke="#d4d4d4" stroke-width="0.9"/>
<circle cx="411.80" cy="549.40" r="32.7" fill="#e9e9e9" stroke="#d3d3d3" stroke-width="3"/>
<circle cx="411.80" cy="549.40" r="31.3" fill="none" stroke="#b9b9b9" stroke-width="0.9"/>
<circle cx="411.80" cy="549.40" r="34.2" fill="none" stroke="#c4c4c4" stroke-width="0.6"/>
<path d="M390.2 531.5h0M390.7 529.1h0M434.4 542.3h0M412.4 550.0h0" stroke="rgb(100,100,100)" stroke-width="1.2" stroke-linecap="round"/>
<path d="M410.2 576.9h0M388.6 536.6h0M393.8 557.8h0M418.7 531.0h0M394.0 556.4h0M414.7 570.8h0M420.3 520.9h0" stroke="rgb(120,120,120)" stroke-width="1.2" stroke-linecap="round"/>
<path d="M401.8 576.9h0M412.3 542.7h0M397.6 541.3h0M420.1 523.3h0M426.3 547.2h0" stroke="rgb(140,140,140)" stroke-width="1.2" stroke-linecap="round"/>
<path d="M415.6 542.4h0M432.6 555.5h0M415.6 527.3h0" stroke="rgb(160,160,160)" stroke-width="1.2" stroke-linecap="round"/>
<path d="M421.2 532.3h0M427.5 562.7h0M413.9 541.9h0M421.2 577.0h0" stroke="rgb(100,100,100)" stroke-width="1.6" stroke-linecap="round"/>
<path d="M385.3 548.9h0M415.7 533.7h0M435.1 554.7h0M404.8 561.9h0M423.8 574.9h0M426.2 571.4h0M419.5 536.2h0M407.1 538.5h0M382.4 548.0h0" stroke="rgb(120,120,120)" stroke-width="1.6" stroke-linecap="round"/>
<path d="M431.5 530.5h0M419.5 542.4h0M392.6 549.4h0M409.9 570.0h0M398.9 537.0h0M432.7 531.3h0M406.6 530.4h0M413.7 527.1h0M402.5 526.6h0M399.0 565.9h0M399.2 546.7h0" stroke="rgb(140,140,140)" stroke-width="1.6" stroke-linecap="round"/>
<path d="M420.0 535.1h0M396.2 536.1h0M396.0 536.8h0M416.4 572.8h0M383.9 547.0h0M418.2 560.3h0" stroke="rgb(160,160,160)" stroke-width="1.6" stroke-linecap="round"/>
<path d="M433.0 565.3h0" stroke="rgb(100,100,100)" stroke-width="2.0" stroke-linecap="round"/>
<path d="M424.7 530.5h0M401.6 528.3h0M434.8 552.6h0" stroke="rgb(140,140,140)" stroke-width="2.0" stroke-linecap="round"/>
<path d="M393.3 546.3h0M410.7 562.8h0" stroke="rgb(160,160,160)" stroke-width="2.0" stroke-linecap="round"/>
<path d="M431.8 542.1h0M396.5 529.8h0M429.7 564.0h0M431.3 571.3h0M437.1 560.2h0M395.1 541.1h0M414.4 554.5h0M417.9 571.5h0M401.0 547.4h0M403.0 540.9h0M400.2 555.0h0M429.4 573.3h0M429.9 556.7h0M417.4 554.4h0M436.2 560.0h0" stroke="rgb(200,200,200)" stroke-width="2.0" stroke-linecap="round"/>
<path d="M394.9 556.7h0M384.2 561.3h0" stroke="rgb(220,220,220)" stroke-width="2.0" stroke-linecap="round"/>
<path d="M398.0 553.5h0M398.9 568.1h0M416.0 577.1h0M414.1 520.4h0M432.9 547.5h0M435.4 564.9h0M423.5 549.4h0M412.1 547.5h0M390.3 542.7h0M415.6 576.2h0M414.5 539.4h0" stroke="rgb(200,200,200)" stroke-width="2.4" stroke-linecap="round"/>
<path d="M418.3 547.0h0M410.2 538.0h0M402.1 545.7h0" stroke="rgb(220,220,220)" stroke-width="2.4" stroke-linecap="round"/>
<path d="M415.5 552.1h0M391.5 557.1h0M385.9 537.2h0M424.0 539.5h0M416.1 556.1h0M392.1 535.5h0M423.0 561.1h0M385.8 534.0h0M412.7 537.8h0" stroke="rgb(200,200,200)" stroke-width="2.8" stroke-linecap="round"/>
<path d="M428.9 538.7h0M390.4 537.9h0M424.4 532.1h0M405.5 552.6h0" stroke="rgb(220,220,220)" stroke-width="2.8" stroke-linecap="round"/>
</g>
<text transform="translate(135.00,613.00) scale(1,1.04)" font-size="14.6" font-weight="bold" fill="#000" stroke="#000" stroke-width="0.3" text-anchor="end" >2.5μM MAKV-8</text>
<text transform="translate(135.00,630.00) scale(1,1.04)" font-size="14.6" font-weight="bold" fill="#000" stroke="#000" stroke-width="0.3" text-anchor="end" >0.5μM Imatinib</text>
<text transform="translate(170.90,613.00) scale(1,1.04)" font-size="14.6" font-weight="bold" fill="#000" stroke="#000" stroke-width="0.3" text-anchor="middle" >-</text>
<text transform="translate(170.90,630.00) scale(1,1.04)" font-size="14.6" font-weight="bold" fill="#000" stroke="#000" stroke-width="0.3" text-anchor="middle" >-</text>
<g filter="url(#bl)">
<rect x="133.50" y="633.75" width="74.8" height="74.8" fill="#eeeeee"/>
<circle cx="170.90" cy="671.15" r="36.2" fill="#f0f0f0" stroke="#d4d4d4" stroke-width="0.9"/>
<circle cx="170.90" cy="671.15" r="32.7" fill="#e9e9e9" stroke="#d3d3d3" stroke-width="3"/>
<circle cx="170.90" cy="671.15" r="31.3" fill="none" stroke="#b9b9b9" stroke-width="0.9"/>
<circle cx="170.90" cy="671.15" r="34.2" fill="none" stroke="#c4c4c4" stroke-width="0.6"/>
<path d="M151.6 688.5h0M157.6 653.3h0M190.0 657.7h0M170.6 691.8h0M146.0 673.7h0M178.7 648.2h0M158.3 681.1h0M149.9 656.3h0M181.4 646.7h0M146.6 684.8h0M171.6 665.9h0M156.9 652.3h0M178.2 679.3h0M192.1 678.9h0M172.3 659.4h0M161.2 681.8h0M191.4 668.1h0M198.9 678.6h0M162.6 659.7h0M157.7 647.2h0M175.1 660.5h0" stroke="rgb(80,80,80)" stroke-width="1.6" stroke-linecap="round"/>
<path d="M149.4 686.4h0M150.9 671.8h0M143.7 680.0h0M155.3 663.5h0M182.2 660.2h0M147.2 670.7h0M164.0 663.9h0M159.1 652.1h0M147.7 686.9h0M187.8 672.4h0M151.8 671.6h0M172.8 661.6h0M168.4 642.0h0M149.2 671.6h0M174.1 655.2h0M141.9 668.1h0M177.8 686.3h0" stroke="rgb(100,100,100)" stroke-width="1.6" stroke-linecap="round"/>
<path d="M175.8 656.6h0M160.3 663.9h0M179.4 693.0h0M181.6 674.6h0M178.4 670.0h0M189.2 657.6h0M188.0 656.0h0M171.6 650.0h0M197.8 669.9h0M180.7 643.9h0M154.9 687.9h0M155.8 647.3h0M167.8 668.0h0M176.9 698.5h0M178.6 692.4h0M181.9 651.9h0M196.7 665.9h0M162.8 660.8h0M142.5 672.6h0M164.2 664.9h0M192.6 671.6h0M168.8 686.0h0M191.1 691.7h0M150.5 685.2h0M186.1 691.3h0M162.4 657.1h0M187.8 679.2h0M154.1 676.8h0M161.9 649.6h0M162.1 697.1h0M175.9 659.8h0M149.5 654.3h0M187.6 662.3h0" stroke="rgb(120,120,120)" stroke-width="1.6" stroke-linecap="round"/>
<path d="M157.6 669.7h0M151.2 660.4h0M166.8 658.5h0M178.6 646.9h0M193.0 689.5h0M173.9 673.2h0M176.1 694.7h0M145.8 679.6h0" stroke="rgb(140,140,140)" stroke-width="1.6" stroke-linecap="round"/>
<path d="M177.5 655.7h0M168.7 682.5h0M164.0 646.4h0M180.9 674.8h0M196.4 670.1h0M171.5 651.8h0M186.9 667.9h0M148.6 671.6h0M164.4 687.5h0M198.8 663.2h0M190.3 691.2h0M197.6 669.2h0M150.5 665.2h0M191.4 679.1h0M172.3 663.6h0M164.3 690.8h0M188.6 672.1h0M147.9 685.8h0M184.9 647.8h0M193.6 661.9h0M174.0 660.4h0M168.0 644.2h0M177.2 673.7h0M177.0 690.3h0M151.3 666.3h0M182.0 690.0h0" stroke="rgb(80,80,80)" stroke-width="2.0" stroke-linecap="round"/>
<path d="M142.6 663.2h0M158.5 675.6h0M187.0 658.5h0M147.7 673.5h0M150.5 655.1h0M173.7 661.2h0M156.8 693.4h0M155.4 652.4h0M157.9 697.8h0M160.0 660.0h0M146.6 663.9h0M193.3 651.9h0M169.1 669.1h0M186.2 645.6h0M161.8 655.7h0M160.7 684.5h0M151.2 679.7h0M181.8 647.4h0M165.4 680.3h0M153.4 670.5h0M153.9 657.6h0M157.8 668.9h0M157.5 677.6h0M170.9 689.3h0M152.3 671.2h0M153.4 678.3h0M187.4 685.3h0" stroke="rgb(100,100,100)" stroke-width="2.0" stroke-linecap="round"/>
<path d="M177.1 697.3h0M173.7 672.2h0M172.3 651.5h0M176.0 699.6h0M184.0 678.1h0M185.4 677.4h0M195.4 668.1h0M177.0 657.4h0M175.6 672.5h0M154.5 682.5h0M167.6 673.4h0M197.6 668.3h0M165.1 656.0h0M181.9 666.7h0M171.4 689.2h0M152.2 672.6h0M179.1 675.0h0M190.6 687.5h0M177.6 674.1h0M178.8 686.5h0M190.7 666.2h0M144.4 676.0h0M166.1 697.4h0M170.3 659.0h0M173.6 685.1h0M169.0 657.4h0M180.5 696.9h0M145.1 685.1h0M174.9 646.3h0M168.6 667.9h0M178.1 698.7h0M186.5 651.3h0M169.9 663.2h0M153.1 676.8h0M199.7 664.0h0M172.7 646.6h0M152.1 651.8h0M159.5 677.2h0M156.0 671.0h0M195.4 684.7h0M182.3 696.3h0M146.4 678.1h0M167.0 689.9h0" stroke="rgb(120,120,120)" stroke-width="2.0" stroke-linecap="round"/>
<path d="M199.8 670.9h0M183.1 666.8h0M159.8 670.6h0M192.2 676.6h0M145.0 659.0h0M193.6 673.8h0M166.3 668.5h0M172.7 695.9h0M180.0 664.4h0M154.5 670.3h0M178.5 685.5h0" stroke="rgb(140,140,140)" stroke-width="2.0" stroke-linecap="round"/>
<path d="M194.4 670.1h0M194.7 686.3h0M197.5 661.1h0M198.3 678.4h0M142.9 671.4h0M155.6 674.3h0M163.9 679.9h0M161.9 669.5h0M179.4 689.6h0M188.7 677.4h0M176.9 660.1h0M145.9 674.6h0M188.5 691.0h0M148.2 662.2h0M162.9 659.6h0M191.6 663.9h0M189.5 648.0h0M193.2 671.8h0M158.5 658.8h0M167.5 672.7h0M150.4 675.0h0M197.4 672.8h0M148.0 667.8h0M164.7 655.6h0M195.1 664.9h0M159.0 664.7h0M152.3 673.0h0M158.8 695.3h0M144.7 681.5h0M158.9 677.7h0M155.8 690.9h0M184.1 672.8h0M184.4 683.4h0M176.3 644.5h0M154.6 654.1h0M156.4 690.8h0M182.8 654.3h0M157.6 674.4h0M177.4 669.7h0M148.8 659.2h0M157.0 678.3h0M198.5 671.5h0M144.4 668.8h0M193.3 674.4h0M141.3 675.8h0M196.0 686.2h0" stroke="rgb(200,200,200)" stroke-width="2.0" stroke-linecap="round"/>
<path d="M177.2 669.3h0M153.1 679.9h0M155.9 687.0h0M193.4 675.7h0M191.4 663.8h0M191.6 682.2h0M170.2 685.5h0M160.2 679.6h0M162.8 652.3h0M184.8 655.6h0M144.5 658.7h0M165.8 643.7h0M158.1 687.0h0" stroke="rgb(220,220,220)" stroke-width="2.0" stroke-linecap="round"/>
<path d="M185.0 684.3h0M188.4 657.9h0M173.3 650.4h0M190.7 680.2h0M169.3 680.0h0M186.5 648.3h0M144.3 676.0h0M173.0 689.8h0" stroke="rgb(80,80,80)" stroke-width="2.4" stroke-linecap="round"/>
<path d="M183.6 651.4h0M150.7 662.5h0M188.4 677.1h0M188.6 689.4h0M167.1 682.2h0M172.4 685.4h0M177.4 680.7h0M161.8 691.9h0M162.1 683.9h0M155.0 678.2h0M167.8 657.5h0M183.8 651.1h0M179.6 681.1h0M190.8 686.7h0M176.2 697.6h0M165.5 645.5h0" stroke="rgb(100,100,100)" stroke-width="2.4" stroke-linecap="round"/>
<path d="M176.8 657.4h0M164.9 648.6h0M155.3 659.4h0M193.7 683.5h0M177.5 685.2h0M169.1 647.8h0M153.6 655.1h0" stroke="rgb(120,120,120)" stroke-width="2.4" stroke-linecap="round"/>
<path d="M148.3 667.5h0M191.4 673.0h0M171.2 671.6h0" stroke="rgb(140,140,140)" stroke-width="2.4" stroke-linecap="round"/>
<path d="M164.5 696.8h0M149.5 666.5h0M153.4 667.8h0M185.8 687.0h0M182.9 685.0h0M190.8 670.9h0M148.2 683.5h0M165.2 680.2h0M162.7 680.1h0M196.6 659.1h0M186.6 680.0h0M181.2 650.3h0M167.2 669.0h0M181.1 665.8h0M148.8 652.7h0M184.3 688.0h0M168.9 663.2h0M183.8 660.6h0M143.2 664.3h0M158.9 668.2h0M155.4 685.3h0M165.6 674.0h0M181.5 661.1h0M188.3 674.6h0M147.1 661.0h0M154.3 655.6h0M171.5 657.2h0M192.2 690.7h0M182.7 663.1h0M177.5 685.3h0M161.1 645.0h0M168.4 641.5h0M193.0 678.0h0M172.4 656.9h0M150.0 675.2h0M190.3 670.9h0M175.7 665.9h0M157.9 694.9h0M159.5 691.1h0M162.0 645.7h0M166.8 678.2h0M165.3 649.5h0M191.6 676.3h0" stroke="rgb(200,200,200)" stroke-width="2.4" stroke-linecap="round"/>
<path d="M167.5 658.7h0M162.0 700.0h0M172.9 676.0h0M186.3 678.2h0M143.4 669.6h0M144.1 685.2h0M166.2 689.6h0M170.5 666.3h0M173.4 643.8h0M173.0 644.1h0M182.0 690.0h0M181.8 695.1h0" stroke="rgb(220,220,220)" stroke-width="2.4" stroke-linecap="round"/>
<path d="M169.7 662.4h0M164.8 645.5h0M180.2 669.3h0M162.9 651.4h0M149.1 679.6h0M166.3 657.6h0M165.4 650.2h0M171.8 684.2h0M144.6 657.0h0M168.6 656.3h0M186.5 690.5h0M154.5 695.6h0M154.5 684.8h0M151.9 659.9h0M177.1 699.2h0M158.2 666.2h0M169.7 641.8h0M194.9 684.9h0M185.1 694.3h0M145.3 683.9h0M177.4 662.0h0M153.2 685.2h0M184.1 669.5h0M185.0 691.6h0M200.8 667.9h0M195.3 684.8h0M152.9 668.2h0M165.8 683.1h0M181.9 696.2h0M191.1 678.8h0M192.4 687.8h0M164.5 657.4h0M161.7 658.0h0M183.1 676.9h0M186.0 691.9h0M171.5 657.0h0M172.5 697.1h0M177.7 678.6h0M142.2 677.8h0M150.8 684.9h0M191.3 691.2h0M161.5 644.1h0M166.7 693.5h0M190.3 685.8h0M167.3 644.0h0M166.3 649.0h0M166.7 692.1h0M174.5 665.6h0" stroke="rgb(200,200,200)" stroke-width="2.8" stroke-linecap="round"/>
<path d="M187.4 677.8h0M192.1 689.4h0M187.9 660.9h0M145.2 666.6h0M188.8 656.6h0M186.2 671.3h0M161.0 647.0h0M166.9 677.0h0M154.9 655.4h0M156.5 646.9h0M153.3 654.5h0M183.2 654.8h0M174.2 673.4h0M176.6 679.9h0" stroke="rgb(220,220,220)" stroke-width="2.8" stroke-linecap="round"/>
</g>
<text transform="translate(251.20,613.00) scale(1,1.04)" font-size="14.6" font-weight="bold" fill="#000" stroke="#000" stroke-width="0.3" text-anchor="middle" >+</text>
<text transform="translate(251.20,630.00) scale(1,1.04)" font-size="14.6" font-weight="bold" fill="#000" stroke="#000" stroke-width="0.3" text-anchor="middle" >-</text>
<g filter="url(#bl)">
<rect x="213.80" y="633.75" width="74.8" height="74.8" fill="#eeeeee"/>
<circle cx="251.20" cy="671.15" r="36.2" fill="#f0f0f0" stroke="#d4d4d4" stroke-width="0.9"/>
<circle cx="251.20" cy="671.15" r="32.7" fill="#e9e9e9" stroke="#d3d3d3" stroke-width="3"/>
<circle cx="251.20" cy="671.15" r="31.3" fill="none" stroke="#b9b9b9" stroke-width="0.9"/>
<circle cx="251.20" cy="671.15" r="34.2" fill="none" stroke="#c4c4c4" stroke-width="0.6"/>
<path d="M272.7 673.3h0M247.4 644.0h0M224.0 672.3h0M251.6 644.8h0M228.9 651.7h0M262.2 689.1h0M251.3 643.1h0M258.4 650.4h0M265.6 680.3h0M271.3 679.5h0M233.8 688.1h0M239.2 660.9h0M267.2 678.9h0M232.7 688.1h0M270.6 662.5h0M248.7 669.4h0M263.3 645.2h0M250.1 666.3h0M237.0 659.5h0M258.4 690.4h0M267.9 692.8h0M253.5 654.3h0M239.1 666.0h0M227.9 685.6h0M236.6 648.9h0M270.1 683.7h0M270.6 687.5h0M233.1 672.9h0M241.7 695.6h0M250.6 670.3h0M251.1 642.9h0M254.3 654.0h0M268.9 693.4h0" stroke="rgb(80,80,80)" stroke-width="1.6" stroke-linecap="round"/>
<path d="M260.4 642.9h0M243.8 697.1h0M268.2 658.7h0M242.7 655.9h0M267.4 661.7h0M273.4 665.5h0M233.9 663.6h0M253.4 649.1h0M255.5 646.1h0M237.8 674.0h0M237.3 651.2h0M231.6 669.4h0M258.9 646.5h0M251.7 647.9h0M253.2 643.9h0M240.2 682.6h0M271.0 684.1h0M230.9 662.9h0M232.4 658.0h0M260.0 699.0h0M237.1 662.4h0M252.1 642.7h0M237.1 649.0h0M260.1 655.1h0M254.9 682.8h0M259.7 684.0h0" stroke="rgb(100,100,100)" stroke-width="1.6" stroke-linecap="round"/>
<path d="M228.2 655.9h0M260.2 662.1h0M247.9 648.5h0M242.2 684.4h0M228.4 672.5h0M263.0 682.4h0M245.4 696.2h0M253.4 672.5h0M229.2 657.5h0M270.8 657.2h0M254.9 682.2h0M231.0 662.7h0M236.7 670.5h0M250.9 663.2h0M234.2 673.2h0M257.9 699.8h0M240.6 676.1h0M274.6 674.6h0M265.0 674.0h0M241.1 651.6h0M228.5 652.6h0" stroke="rgb(120,120,120)" stroke-width="1.6" stroke-linecap="round"/>
<path d="M261.9 684.3h0M262.0 648.2h0M267.7 687.4h0M249.6 697.9h0M239.4 669.5h0M234.9 685.6h0M233.4 669.4h0M244.9 671.1h0" stroke="rgb(140,140,140)" stroke-width="1.6" stroke-linecap="round"/>
<path d="M269.0 650.0h0M270.9 690.7h0M249.6 654.3h0M245.9 696.0h0M229.9 691.8h0M265.6 662.6h0M236.5 694.4h0M271.8 692.0h0M278.3 674.4h0M243.0 670.3h0M232.0 671.2h0M276.9 675.2h0M271.8 667.3h0M261.5 651.1h0M230.4 666.0h0M230.4 678.7h0M234.3 691.1h0M229.0 686.5h0M240.7 653.7h0M259.9 684.3h0M241.7 699.2h0M261.1 698.7h0M253.8 678.7h0M240.1 688.2h0M229.4 653.4h0M242.7 683.0h0M244.6 664.0h0M241.0 688.3h0M257.9 670.9h0M274.8 667.8h0M228.3 663.9h0M265.9 696.7h0M254.3 655.9h0M266.1 676.6h0M267.2 682.7h0M249.4 678.9h0M225.7 658.5h0M234.2 674.4h0M271.3 672.9h0" stroke="rgb(80,80,80)" stroke-width="2.0" stroke-linecap="round"/>
<path d="M261.4 693.1h0M225.1 669.5h0M256.1 644.9h0M240.3 672.1h0M226.4 663.7h0M272.2 662.7h0M253.4 642.3h0M249.0 700.5h0M272.8 668.7h0M275.4 660.0h0M263.0 651.0h0M276.0 662.9h0M221.7 674.7h0M263.0 673.8h0M245.2 663.2h0M261.1 678.4h0M269.9 688.3h0M234.5 680.1h0M244.0 642.6h0M252.4 658.3h0M259.4 677.0h0M251.6 645.8h0M247.6 693.5h0M251.3 698.0h0M267.4 667.8h0" stroke="rgb(100,100,100)" stroke-width="2.0" stroke-linecap="round"/>
<path d="M237.0 680.2h0M262.2 649.0h0M257.4 686.0h0M254.2 659.3h0M275.7 668.3h0M272.2 684.4h0M262.9 671.3h0M242.3 662.9h0M248.9 697.5h0M232.5 679.3h0M225.8 668.3h0M251.3 671.0h0M254.8 670.9h0M248.2 651.6h0M232.1 672.7h0M237.9 645.7h0M254.2 645.3h0M230.2 690.6h0M245.2 674.6h0M250.4 668.5h0M276.6 669.9h0M253.5 666.9h0M221.6 669.9h0M232.0 672.0h0M250.1 675.0h0M280.2 674.8h0M274.4 682.3h0M257.3 661.4h0M247.3 672.1h0M262.8 644.5h0M243.9 656.6h0M275.0 668.6h0M234.3 653.3h0M239.7 647.6h0M270.6 653.2h0" stroke="rgb(120,120,120)" stroke-width="2.0" stroke-linecap="round"/>
<path d="M277.2 678.8h0M231.7 662.8h0M255.7 652.5h0M237.7 655.0h0M263.0 655.9h0M240.4 660.5h0M223.8 676.8h0M234.2 655.6h0M231.5 689.8h0" stroke="rgb(140,140,140)" stroke-width="2.0" stroke-linecap="round"/>
<path d="M260.9 643.8h0M264.9 646.2h0M246.0 661.0h0M229.1 667.3h0M237.1 672.4h0M253.1 646.3h0M248.4 656.1h0M232.8 675.8h0M271.6 693.1h0M241.2 666.8h0M227.6 667.5h0M259.5 654.5h0M244.8 692.7h0M249.9 644.4h0M268.3 684.1h0M259.2 694.6h0M243.4 655.5h0M245.7 695.9h0M269.1 659.9h0M238.8 687.0h0M258.7 646.9h0M258.0 668.9h0M273.5 657.2h0M234.9 646.9h0M226.2 660.7h0M249.2 689.4h0M237.5 658.4h0M252.4 642.6h0M241.8 669.6h0M240.2 659.2h0M267.4 680.9h0M223.7 670.9h0M258.4 671.6h0M258.0 671.8h0M260.2 650.8h0M227.2 683.2h0M249.6 669.3h0M233.6 693.2h0M237.6 652.7h0M242.3 694.5h0M240.8 659.4h0M247.8 656.7h0" stroke="rgb(200,200,200)" stroke-width="2.0" stroke-linecap="round"/>
<path d="M233.5 660.1h0M258.1 643.0h0M236.3 686.4h0M255.3 664.3h0M232.5 649.1h0M266.4 674.5h0M247.7 675.9h0M251.7 659.1h0" stroke="rgb(220,220,220)" stroke-width="2.0" stroke-linecap="round"/>
<path d="M274.4 684.2h0M248.9 691.2h0M238.5 652.5h0M252.7 665.4h0M271.0 692.0h0M271.3 669.7h0M271.7 691.4h0M237.4 647.8h0M247.5 668.3h0M245.2 680.8h0M233.6 666.8h0M267.7 665.1h0M257.5 667.8h0M252.5 667.6h0M270.2 691.7h0" stroke="rgb(80,80,80)" stroke-width="2.4" stroke-linecap="round"/>
<path d="M266.5 647.6h0M222.2 666.6h0M238.5 650.5h0M251.6 684.5h0M265.6 689.2h0M249.4 698.2h0M233.8 682.1h0M237.6 667.5h0M244.6 689.7h0" stroke="rgb(100,100,100)" stroke-width="2.4" stroke-linecap="round"/>
<path d="M235.1 678.1h0M239.1 657.4h0M233.9 652.0h0M235.6 681.1h0M263.0 646.1h0M234.4 683.6h0M266.6 652.2h0M249.9 673.0h0M265.2 684.3h0M230.1 658.6h0M257.7 676.5h0" stroke="rgb(120,120,120)" stroke-width="2.4" stroke-linecap="round"/>
<path d="M257.9 644.8h0M260.8 675.0h0M270.1 654.7h0M260.8 656.0h0" stroke="rgb(140,140,140)" stroke-width="2.4" stroke-linecap="round"/>
<path d="M234.4 683.3h0M264.4 647.8h0M247.4 690.3h0M269.2 685.8h0M240.3 643.5h0M238.6 646.4h0M228.4 663.6h0M265.7 646.2h0M241.2 698.5h0M262.7 678.0h0M278.2 679.7h0M263.2 670.2h0M265.9 653.2h0M255.7 697.4h0M230.7 650.1h0M240.3 676.7h0M246.5 668.7h0M231.6 675.3h0M267.9 653.2h0M268.4 693.0h0M243.4 645.8h0M250.0 700.3h0M231.6 682.1h0M232.7 663.8h0M249.0 660.3h0M256.7 698.0h0M269.5 673.8h0M275.0 669.9h0M261.4 646.5h0M260.1 687.1h0M228.6 678.3h0M257.8 673.4h0M271.2 669.3h0M236.0 679.3h0M242.8 672.8h0M227.9 659.2h0M257.9 648.6h0M227.6 668.6h0M273.1 687.0h0M251.2 659.1h0M236.6 658.6h0M259.4 642.9h0M257.4 694.4h0M259.7 645.0h0M253.3 662.8h0M240.0 657.2h0M262.7 656.7h0M251.7 657.4h0M272.3 656.3h0M253.1 688.1h0M260.8 656.6h0" stroke="rgb(200,200,200)" stroke-width="2.4" stroke-linecap="round"/>
<path d="M260.1 698.8h0M228.4 678.2h0M233.6 652.4h0M232.2 659.8h0M264.8 683.8h0M274.5 687.7h0M272.5 657.0h0M233.3 646.7h0M260.7 642.4h0M222.1 663.7h0M243.2 686.1h0M279.4 670.6h0M247.7 691.5h0M263.0 671.4h0M240.5 698.7h0" stroke="rgb(220,220,220)" stroke-width="2.4" stroke-linecap="round"/>
<path d="M232.2 668.7h0M253.9 680.5h0M242.1 653.4h0M236.3 665.6h0M236.8 651.7h0M277.8 658.8h0M279.2 662.4h0M224.9 675.4h0M264.3 661.6h0M260.7 679.1h0M269.4 658.5h0M243.6 657.6h0M251.6 701.0h0M229.0 653.0h0M267.2 688.6h0M248.0 693.8h0M234.4 683.4h0M277.9 667.0h0M269.2 680.3h0M238.2 665.1h0M253.0 685.8h0M262.1 692.7h0M270.5 652.2h0M233.8 691.5h0M263.5 674.2h0M245.8 654.9h0M271.9 670.8h0M230.6 654.7h0M273.1 655.3h0M245.2 672.3h0M244.3 694.3h0M251.3 679.5h0M250.8 665.6h0M248.9 687.1h0M273.4 674.0h0M262.0 662.6h0M237.8 675.2h0M258.3 688.1h0M225.7 668.3h0M250.7 669.2h0M255.9 675.6h0M278.3 670.8h0M244.4 683.1h0M275.1 655.0h0M254.2 667.1h0M227.2 655.3h0M255.5 673.2h0M275.7 679.2h0M233.6 675.0h0M245.5 675.2h0M266.2 669.1h0M257.2 657.9h0M271.2 656.5h0M254.0 667.2h0M264.8 659.2h0M245.6 665.4h0" stroke="rgb(200,200,200)" stroke-width="2.8" stroke-linecap="round"/>
<path d="M257.2 678.1h0M265.6 662.3h0M250.4 693.3h0M250.5 672.8h0M253.9 651.2h0M238.5 671.1h0M229.8 680.2h0M272.2 660.0h0M253.5 696.2h0M260.4 653.3h0M253.8 685.2h0M252.2 647.5h0M246.6 671.4h0M260.2 648.9h0M274.0 669.9h0M264.7 690.9h0" stroke="rgb(220,220,220)" stroke-width="2.8" stroke-linecap="round"/>
</g>
<text transform="translate(331.50,613.00) scale(1,1.04)" font-size="14.6" font-weight="bold" fill="#000" stroke="#000" stroke-width="0.3" text-anchor="middle" >-</text>
<text transform="translate(331.50,630.00) scale(1,1.04)" font-size="14.6" font-weight="bold" fill="#000" stroke="#000" stroke-width="0.3" text-anchor="middle" >+</text>
<g filter="url(#bl)">
<rect x="294.10" y="633.75" width="74.8" height="74.8" fill="#eeeeee"/>
<circle cx="331.50" cy="671.15" r="36.2" fill="#f0f0f0" stroke="#d4d4d4" stroke-width="0.9"/>
<circle cx="331.50" cy="671.15" r="32.7" fill="#e9e9e9" stroke="#d3d3d3" stroke-width="3"/>
<circle cx="331.50" cy="671.15" r="31.3" fill="none" stroke="#b9b9b9" stroke-width="0.9"/>
<circle cx="331.50" cy="671.15" r="34.2" fill="none" stroke="#c4c4c4" stroke-width="0.6"/>
<path d="M333.8 672.1h0M315.6 678.7h0M344.2 648.1h0" stroke="rgb(80,80,80)" stroke-width="1.2" stroke-linecap="round"/>
<path d="M309.9 651.8h0M320.9 694.5h0M330.5 673.5h0M308.6 654.2h0M339.7 644.4h0M358.2 660.8h0" stroke="rgb(100,100,100)" stroke-width="1.2" stroke-linecap="round"/>
<path d="M314.4 663.5h0M328.8 668.9h0M320.6 684.2h0M346.6 666.7h0M314.3 649.1h0" stroke="rgb(120,120,120)" stroke-width="1.2" stroke-linecap="round"/>
<path d="M320.9 688.6h0M320.3 645.6h0M338.6 678.1h0" stroke="rgb(140,140,140)" stroke-width="1.2" stroke-linecap="round"/>
<path d="M324.5 698.8h0M307.7 681.5h0M317.9 652.2h0M341.0 696.7h0M339.6 697.6h0M310.3 676.1h0M328.8 656.0h0M341.2 691.5h0" stroke="rgb(80,80,80)" stroke-width="1.6" stroke-linecap="round"/>
<path d="M336.5 667.6h0M320.1 660.2h0M316.2 677.3h0M322.5 685.8h0M330.2 651.4h0M314.2 647.3h0M343.8 646.3h0M356.0 677.4h0M324.8 668.8h0M336.9 684.7h0M313.9 660.5h0M320.9 675.3h0M331.2 674.9h0M341.6 680.4h0M342.3 670.3h0M328.2 648.1h0M312.8 676.3h0M351.5 690.9h0M323.2 662.5h0M322.8 670.0h0M309.0 673.2h0M324.7 656.4h0M348.3 666.4h0M347.5 658.0h0M324.6 699.7h0M314.9 657.8h0M357.3 662.8h0M314.1 664.5h0" stroke="rgb(100,100,100)" stroke-width="1.6" stroke-linecap="round"/>
<path d="M345.6 684.3h0M340.7 688.8h0M351.3 652.5h0M348.3 683.8h0M345.8 648.5h0M326.6 662.3h0M334.4 667.9h0M311.2 692.7h0M314.1 652.6h0M349.2 655.6h0M340.3 681.0h0M337.4 697.5h0M344.3 688.4h0M335.1 694.8h0M345.4 690.8h0M330.8 648.6h0M305.8 681.2h0M356.2 686.2h0M337.9 696.2h0M322.6 649.5h0M331.1 688.4h0M340.4 697.2h0M332.7 687.0h0M317.0 648.3h0M327.8 662.0h0M326.1 667.8h0M333.2 654.7h0M318.2 649.4h0" stroke="rgb(120,120,120)" stroke-width="1.6" stroke-linecap="round"/>
<path d="M318.3 651.8h0M327.2 650.2h0M348.2 661.9h0M347.3 687.4h0M343.8 667.4h0M355.7 682.3h0M321.5 668.2h0M324.5 686.2h0M306.0 666.4h0M342.4 678.4h0M304.7 681.0h0M346.5 675.4h0M354.0 689.1h0M308.0 686.2h0M335.7 688.3h0M323.6 668.2h0M335.9 694.0h0M326.7 669.3h0M337.9 671.8h0M339.5 695.9h0M344.0 670.7h0M335.5 658.9h0" stroke="rgb(140,140,140)" stroke-width="1.6" stroke-linecap="round"/>
<path d="M341.6 666.5h0M311.0 671.6h0M352.9 690.9h0M307.8 671.9h0M320.4 662.6h0M340.5 683.7h0M329.3 671.2h0M308.2 672.8h0M303.7 670.2h0M318.9 692.0h0M330.8 674.8h0M354.1 663.9h0" stroke="rgb(80,80,80)" stroke-width="2.0" stroke-linecap="round"/>
<path d="M334.4 677.8h0M343.8 696.9h0M317.7 666.5h0M304.3 665.2h0M317.9 667.0h0M340.1 673.0h0M324.9 653.7h0M313.0 663.5h0M313.2 667.1h0M316.3 656.7h0M340.4 693.4h0M311.7 672.7h0M313.0 650.1h0M321.7 686.7h0M339.3 687.0h0M320.1 647.8h0M321.5 678.3h0M342.5 686.3h0M327.2 665.3h0M322.3 663.3h0M314.2 671.9h0M351.7 691.2h0M334.6 693.4h0M319.7 690.4h0" stroke="rgb(100,100,100)" stroke-width="2.0" stroke-linecap="round"/>
<path d="M307.2 669.5h0M356.0 662.8h0M332.6 699.9h0M325.6 680.0h0M348.0 683.9h0M310.6 669.4h0M338.4 678.5h0M327.7 689.4h0M343.8 674.7h0M345.9 696.5h0M327.5 663.0h0M307.6 680.1h0M332.9 693.8h0M324.4 648.1h0M356.5 672.3h0" stroke="rgb(120,120,120)" stroke-width="2.0" stroke-linecap="round"/>
<path d="M334.5 642.0h0M348.7 692.6h0M312.1 676.3h0M327.4 691.0h0M320.1 648.3h0M356.4 681.7h0M318.6 678.5h0M316.3 682.0h0M328.7 651.9h0M337.6 696.9h0M309.2 667.0h0M315.9 664.5h0M332.0 657.3h0M319.2 656.9h0M325.1 654.5h0M332.3 690.4h0" stroke="rgb(140,140,140)" stroke-width="2.0" stroke-linecap="round"/>
<path d="M322.2 655.3h0M320.8 676.8h0M345.8 654.6h0M354.8 684.2h0M303.0 677.4h0M320.6 659.2h0M334.2 656.2h0M317.6 688.5h0M334.2 657.8h0M349.0 686.4h0M341.7 683.2h0M356.4 657.3h0M321.0 648.7h0M346.2 654.1h0M315.1 679.3h0M315.6 655.0h0M359.3 662.7h0M337.0 698.8h0M324.9 654.1h0M352.6 665.7h0M324.0 663.1h0M322.7 669.3h0M330.8 662.1h0M327.9 644.3h0M322.4 699.1h0M337.1 682.8h0M351.2 665.7h0M338.1 648.0h0M352.1 655.7h0M318.2 691.9h0M331.5 681.6h0M335.6 688.1h0M345.7 688.0h0M347.3 649.4h0M328.3 687.5h0" stroke="rgb(200,200,200)" stroke-width="2.0" stroke-linecap="round"/>
<path d="M325.2 649.9h0M329.5 676.1h0M320.5 692.7h0M324.4 669.0h0M353.6 679.1h0M352.5 663.9h0M333.8 660.4h0M336.3 699.0h0" stroke="rgb(220,220,220)" stroke-width="2.0" stroke-linecap="round"/>
<path d="M350.2 651.2h0M351.6 665.0h0M335.9 672.8h0M304.0 681.9h0M348.7 658.8h0M331.2 677.0h0M349.8 647.4h0M321.6 677.3h0M307.8 671.0h0M336.3 682.8h0M347.1 665.1h0M310.1 667.9h0M303.8 669.1h0M344.8 653.3h0M330.4 658.1h0M349.1 667.9h0M316.6 652.1h0M345.6 668.7h0M336.3 684.0h0M312.5 673.7h0M342.9 684.6h0M352.7 676.2h0M321.7 667.5h0M349.1 653.5h0M329.2 670.9h0M349.1 689.1h0M342.3 676.1h0M317.0 666.4h0M332.5 674.2h0M360.1 680.1h0M340.0 643.3h0M358.2 670.8h0M313.8 656.9h0M318.9 677.2h0M328.3 690.8h0M317.0 649.1h0M312.8 663.3h0M343.0 685.9h0M324.7 682.5h0M341.8 671.3h0M312.0 664.8h0M336.6 667.9h0M310.5 659.1h0M319.0 647.0h0M338.9 662.8h0" stroke="rgb(200,200,200)" stroke-width="2.4" stroke-linecap="round"/>
<path d="M312.1 663.6h0M335.4 676.8h0M317.5 681.4h0M329.8 667.1h0M315.1 683.6h0" stroke="rgb(220,220,220)" stroke-width="2.4" stroke-linecap="round"/>
<path d="M344.9 654.2h0M340.5 650.4h0M336.5 673.1h0M339.2 645.0h0M330.7 687.7h0M339.9 682.9h0M331.2 668.1h0M305.9 663.4h0M360.2 661.7h0M325.8 645.6h0M323.4 644.5h0M347.0 655.7h0M358.8 679.7h0M309.7 665.3h0M360.5 669.1h0M303.3 674.1h0M338.1 644.0h0M347.2 652.4h0M326.9 684.8h0M305.8 663.0h0M332.4 696.6h0M308.3 656.0h0M333.9 669.2h0M327.5 681.9h0M310.6 675.0h0M349.5 689.6h0M305.0 661.9h0M335.6 676.7h0M341.8 671.4h0M322.6 644.3h0M308.8 657.3h0M308.2 660.7h0M326.0 696.8h0M341.0 653.2h0M332.6 653.2h0" stroke="rgb(200,200,200)" stroke-width="2.8" stroke-linecap="round"/>
<path d="M333.8 681.0h0M347.5 680.1h0M339.8 673.7h0M305.7 663.3h0M319.2 695.9h0M315.0 686.8h0M318.8 667.9h0M347.3 665.9h0" stroke="rgb(220,220,220)" stroke-width="2.8" stroke-linecap="round"/>
</g>
<text transform="translate(411.80,613.00) scale(1,1.04)" font-size="14.6" font-weight="bold" fill="#000" stroke="#000" stroke-width="0.3" text-anchor="middle" >+</text>
<text transform="translate(411.80,630.00) scale(1,1.04)" font-size="14.6" font-weight="bold" fill="#000" stroke="#000" stroke-width="0.3" text-anchor="middle" >+</text>
<g filter="url(#bl)">
<rect x="374.40" y="633.75" width="74.8" height="74.8" fill="#eeeeee"/>
<circle cx="411.80" cy="671.15" r="36.2" fill="#f0f0f0" stroke="#d4d4d4" stroke-width="0.9"/>
<circle cx="411.80" cy="671.15" r="32.7" fill="#e9e9e9" stroke="#d3d3d3" stroke-width="3"/>
<circle cx="411.80" cy="671.15" r="31.3" fill="none" stroke="#b9b9b9" stroke-width="0.9"/>
<circle cx="411.80" cy="671.15" r="34.2" fill="none" stroke="#c4c4c4" stroke-width="0.6"/>
<path d="M394.6 663.2h0M399.3 649.4h0" stroke="rgb(80,80,80)" stroke-width="1.2" stroke-linecap="round"/>
<path d="M411.4 677.2h0M393.4 673.0h0M386.2 667.6h0M393.6 651.7h0M385.2 661.8h0M403.2 647.5h0M409.8 650.3h0" stroke="rgb(100,100,100)" stroke-width="1.2" stroke-linecap="round"/>
<path d="M429.1 663.5h0M413.4 697.0h0M418.7 690.5h0M402.2 659.7h0" stroke="rgb(120,120,120)" stroke-width="1.2" stroke-linecap="round"/>
<path d="M394.6 680.2h0M427.7 662.0h0M398.9 685.4h0M410.5 660.9h0M408.5 642.1h0M408.9 661.3h0" stroke="rgb(140,140,140)" stroke-width="1.2" stroke-linecap="round"/>
<path d="M404.5 680.9h0M395.0 665.9h0M400.3 670.2h0M428.0 693.2h0" stroke="rgb(80,80,80)" stroke-width="1.6" stroke-linecap="round"/>
<path d="M386.3 662.4h0M399.5 679.5h0M395.7 663.8h0M407.5 693.8h0M406.4 662.3h0M431.2 683.1h0M420.4 690.2h0M412.6 647.8h0M397.1 685.8h0M416.2 662.9h0M411.0 672.1h0M402.1 653.1h0M392.2 655.3h0M413.1 676.0h0M387.9 654.2h0M418.8 644.5h0M393.9 663.5h0M434.9 667.1h0M437.1 669.6h0M428.8 659.6h0M395.8 664.3h0M395.2 660.0h0" stroke="rgb(100,100,100)" stroke-width="1.6" stroke-linecap="round"/>
<path d="M411.9 645.2h0M427.8 661.6h0M434.3 673.0h0M411.3 653.6h0M399.5 650.0h0M420.7 696.3h0M439.5 671.2h0M430.5 675.2h0M412.2 665.9h0M418.6 671.4h0M408.4 693.0h0M413.9 693.5h0M429.8 669.4h0M422.0 685.7h0M420.3 682.2h0M425.2 678.5h0M418.0 694.2h0M423.2 660.6h0M416.7 663.7h0M420.9 658.0h0M422.7 690.6h0M416.3 680.5h0M389.8 671.3h0M417.0 641.8h0M400.6 673.7h0" stroke="rgb(120,120,120)" stroke-width="1.6" stroke-linecap="round"/>
<path d="M392.5 682.0h0M388.3 671.9h0M427.3 656.6h0M401.8 681.0h0M399.0 675.0h0M401.1 665.0h0M408.0 672.9h0M401.9 698.7h0M394.1 664.4h0M405.4 673.5h0M434.2 669.0h0M396.8 679.4h0M419.7 649.2h0M425.2 657.4h0M426.0 659.1h0M425.8 673.9h0M399.3 648.3h0M396.5 695.5h0M410.3 676.3h0M414.5 656.1h0M394.8 657.1h0M426.1 657.2h0M406.5 674.0h0M413.9 678.4h0M397.0 646.3h0M398.0 661.9h0" stroke="rgb(140,140,140)" stroke-width="1.6" stroke-linecap="round"/>
<path d="M403.0 679.6h0M409.1 685.2h0M433.1 661.6h0M395.5 681.3h0M392.1 654.6h0M434.3 682.5h0" stroke="rgb(80,80,80)" stroke-width="2.0" stroke-linecap="round"/>
<path d="M386.5 667.7h0M417.9 644.6h0M405.3 682.9h0M412.0 650.6h0M417.6 646.0h0M403.9 680.8h0M384.9 683.1h0M432.1 666.7h0M413.7 683.0h0M412.8 642.7h0M411.9 686.8h0M438.6 665.8h0M390.1 655.8h0M417.9 674.1h0M388.3 661.2h0" stroke="rgb(100,100,100)" stroke-width="2.0" stroke-linecap="round"/>
<path d="M384.8 671.9h0M396.5 655.1h0M424.3 672.1h0M415.0 646.6h0M393.0 672.6h0M413.1 654.0h0M390.6 674.2h0M408.7 676.0h0M402.3 658.5h0M430.3 660.0h0M388.6 688.4h0M433.9 668.5h0M421.5 693.3h0M436.5 656.8h0" stroke="rgb(120,120,120)" stroke-width="2.0" stroke-linecap="round"/>
<path d="M427.5 661.2h0M418.8 657.8h0M402.6 667.8h0M409.0 698.1h0M418.2 669.7h0M407.3 685.7h0M400.8 661.4h0M415.2 666.4h0M417.6 680.6h0M437.8 670.5h0M404.8 682.2h0M400.2 679.3h0M404.1 688.8h0M422.6 655.8h0M428.5 664.0h0M399.5 659.7h0M427.9 677.6h0M428.4 690.9h0M407.1 685.6h0" stroke="rgb(140,140,140)" stroke-width="2.0" stroke-linecap="round"/>
<path d="M388.1 669.9h0M402.1 662.4h0M403.4 656.8h0M427.5 655.6h0M430.3 655.9h0M434.5 689.5h0M422.1 675.7h0M422.4 667.0h0M430.0 653.9h0M434.9 664.5h0M416.2 679.9h0M385.7 663.7h0M396.4 685.8h0M390.3 667.8h0M435.1 660.7h0M432.1 691.3h0M407.7 684.2h0M388.3 672.0h0M425.4 644.4h0M384.3 673.5h0M424.3 643.7h0M409.7 683.6h0M421.5 696.7h0M387.0 667.6h0M425.4 668.7h0M417.4 650.1h0M425.1 656.0h0M401.3 681.2h0M423.1 692.1h0M393.0 668.2h0M399.3 693.8h0M407.2 670.0h0" stroke="rgb(200,200,200)" stroke-width="2.0" stroke-linecap="round"/>
<path d="M405.3 699.7h0M406.1 699.5h0M416.2 677.0h0M407.4 641.4h0M395.6 691.9h0M433.5 662.7h0" stroke="rgb(220,220,220)" stroke-width="2.0" stroke-linecap="round"/>
<path d="M430.4 666.6h0M425.5 648.1h0M418.4 676.4h0M397.7 670.8h0M433.0 688.3h0M434.0 664.5h0M421.9 656.3h0M403.1 693.5h0M413.8 644.5h0M400.9 683.8h0M384.3 673.5h0M409.7 686.6h0M417.5 672.6h0M391.5 688.2h0M392.6 661.4h0M428.1 653.5h0M419.5 649.3h0M441.0 678.2h0M429.1 670.6h0M387.9 670.0h0M422.3 694.4h0M388.2 655.4h0M417.6 663.3h0M407.1 678.6h0M386.1 673.6h0M412.8 679.6h0" stroke="rgb(200,200,200)" stroke-width="2.4" stroke-linecap="round"/>
<path d="M387.5 658.2h0M418.8 651.6h0M390.5 685.4h0M412.4 692.8h0M414.7 655.2h0M412.8 647.5h0M433.6 682.9h0M427.7 678.0h0M390.0 657.8h0M425.2 646.9h0M406.2 661.3h0" stroke="rgb(220,220,220)" stroke-width="2.4" stroke-linecap="round"/>
<path d="M408.8 668.9h0M389.4 671.7h0M394.2 648.3h0M409.5 652.3h0M417.6 662.5h0M430.3 677.6h0M424.7 676.9h0M393.2 671.3h0M408.2 682.8h0M404.8 675.8h0M415.9 658.7h0M392.8 689.5h0M414.2 648.3h0M399.0 653.2h0M405.5 653.4h0M414.3 678.1h0M426.4 665.5h0M398.6 693.8h0M400.1 680.7h0M396.2 691.4h0M396.3 694.1h0M403.6 669.1h0M402.0 668.5h0M400.3 645.1h0M386.2 666.3h0M428.0 659.5h0M396.9 688.9h0M398.5 672.9h0M409.9 688.2h0M400.7 680.5h0M419.0 650.6h0M402.1 689.1h0" stroke="rgb(200,200,200)" stroke-width="2.8" stroke-linecap="round"/>
<path d="M399.3 683.8h0M405.5 643.3h0M392.3 692.6h0M412.6 652.2h0M416.5 698.2h0M405.6 684.0h0M417.7 691.9h0M419.1 693.0h0M395.5 669.7h0M422.6 656.2h0M410.9 666.0h0M419.1 673.3h0M392.8 685.0h0" stroke="rgb(220,220,220)" stroke-width="2.8" stroke-linecap="round"/>
</g>
<text transform="translate(135.00,734.25) scale(1,1.04)" font-size="14.6" font-weight="bold" fill="#000" stroke="#000" stroke-width="0.3" text-anchor="end" >5μM MAKV-8</text>
<text transform="translate(135.00,750.50) scale(1,1.04)" font-size="14.6" font-weight="bold" fill="#000" stroke="#000" stroke-width="0.3" text-anchor="end" >0.1μM Imatinib</text>
<text transform="translate(170.90,734.25) scale(1,1.04)" font-size="14.6" font-weight="bold" fill="#000" stroke="#000" stroke-width="0.3" text-anchor="middle" >-</text>
<text transform="translate(170.90,750.50) scale(1,1.04)" font-size="14.6" font-weight="bold" fill="#000" stroke="#000" stroke-width="0.3" text-anchor="middle" >-</text>
<g filter="url(#bl)">
<rect x="133.50" y="753.50" width="74.8" height="74.8" fill="#eeeeee"/>
<circle cx="170.90" cy="790.90" r="36.2" fill="#f0f0f0" stroke="#d4d4d4" stroke-width="0.9"/>
<circle cx="170.90" cy="790.90" r="32.7" fill="#e9e9e9" stroke="#d3d3d3" stroke-width="3"/>
<circle cx="170.90" cy="790.90" r="31.3" fill="none" stroke="#b9b9b9" stroke-width="0.9"/>
<circle cx="170.90" cy="790.90" r="34.2" fill="none" stroke="#c4c4c4" stroke-width="0.6"/>
<rect x="137.30" y="788.70" width="2.2" height="4.4" fill="#666"/>
<rect x="202.30" y="788.70" width="2.2" height="4.4" fill="#666"/>
<path d="M177.3 815.3h0M197.6 786.1h0M149.0 787.2h0M172.5 819.8h0M147.8 793.6h0M161.5 781.8h0" stroke="rgb(100,100,100)" stroke-width="1.2" stroke-linecap="round"/>
<path d="M166.0 819.4h0M186.4 794.7h0M147.4 774.7h0M165.7 796.9h0M194.3 791.8h0M149.3 774.0h0" stroke="rgb(120,120,120)" stroke-width="1.2" stroke-linecap="round"/>
<path d="M188.5 777.8h0M149.5 807.5h0M160.4 787.2h0M170.1 797.6h0M141.5 791.5h0M143.1 797.2h0" stroke="rgb(140,140,140)" stroke-width="1.2" stroke-linecap="round"/>
<path d="M171.6 807.3h0M190.2 774.8h0" stroke="rgb(160,160,160)" stroke-width="1.2" stroke-linecap="round"/>
<path d="M167.3 775.5h0M174.8 805.5h0M192.8 793.9h0M163.2 782.7h0M146.2 779.9h0M155.3 782.8h0M193.1 772.6h0M186.7 808.5h0M192.1 810.4h0M189.9 789.3h0M181.2 795.0h0M182.7 811.2h0" stroke="rgb(100,100,100)" stroke-width="1.6" stroke-linecap="round"/>
<path d="M144.5 803.8h0M163.8 774.5h0M164.0 773.6h0M170.1 820.0h0M165.9 817.9h0M151.4 811.7h0M163.9 796.7h0M177.0 763.8h0M177.6 778.0h0M156.5 816.5h0M175.4 818.9h0M150.7 784.3h0M147.9 789.2h0M155.0 792.3h0" stroke="rgb(120,120,120)" stroke-width="1.6" stroke-linecap="round"/>
<path d="M195.2 782.7h0M159.6 793.2h0M153.6 796.9h0M192.4 775.3h0M159.7 794.3h0M192.7 785.5h0M165.2 777.9h0M151.6 809.1h0M177.4 794.6h0M165.9 811.5h0M175.7 817.3h0M186.1 775.4h0M174.5 778.9h0M184.0 799.9h0M152.8 776.4h0M158.0 791.6h0M175.9 811.4h0M173.2 791.7h0M171.1 761.8h0" stroke="rgb(140,140,140)" stroke-width="1.6" stroke-linecap="round"/>
<path d="M184.0 778.4h0M190.5 785.4h0" stroke="rgb(160,160,160)" stroke-width="1.6" stroke-linecap="round"/>
<path d="M154.1 792.5h0M166.8 783.2h0M173.1 765.4h0M168.7 814.5h0M192.9 788.8h0M192.0 780.0h0" stroke="rgb(100,100,100)" stroke-width="2.0" stroke-linecap="round"/>
<path d="M189.9 811.4h0M194.7 784.9h0M177.2 817.6h0M146.4 795.1h0M159.4 764.8h0M154.4 815.6h0" stroke="rgb(120,120,120)" stroke-width="2.0" stroke-linecap="round"/>
<path d="M162.3 773.9h0M195.1 795.0h0M170.2 787.2h0M164.5 804.0h0M168.2 783.0h0M182.3 785.8h0" stroke="rgb(140,140,140)" stroke-width="2.0" stroke-linecap="round"/>
<path d="M151.6 785.6h0M150.4 773.7h0M165.9 818.5h0M158.7 786.1h0M162.6 805.6h0" stroke="rgb(160,160,160)" stroke-width="2.0" stroke-linecap="round"/>
<path d="M179.4 792.1h0M183.8 770.6h0M148.1 803.4h0M163.0 789.3h0M190.3 787.6h0M193.4 803.4h0M177.3 774.1h0M163.1 817.1h0M156.4 771.1h0M187.3 811.1h0M151.9 788.0h0M167.7 786.5h0M143.6 788.1h0M176.9 819.5h0M199.5 785.6h0M194.4 808.9h0M162.1 781.7h0M168.3 811.8h0M142.1 795.1h0M189.6 767.2h0M164.8 812.0h0M145.4 787.7h0M183.4 767.4h0M191.7 787.0h0" stroke="rgb(200,200,200)" stroke-width="2.0" stroke-linecap="round"/>
<path d="M178.8 779.1h0M191.3 788.7h0M191.6 770.8h0M183.4 792.9h0" stroke="rgb(220,220,220)" stroke-width="2.0" stroke-linecap="round"/>
<path d="M175.2 817.1h0M172.7 765.8h0M151.2 811.5h0M194.0 780.6h0M182.8 813.8h0M168.7 771.6h0M156.3 793.5h0M185.9 766.2h0M191.8 785.9h0M143.8 786.5h0M162.1 793.9h0M161.5 782.0h0M149.1 772.4h0M149.3 795.8h0M175.1 769.0h0M159.2 814.5h0M190.5 775.5h0" stroke="rgb(200,200,200)" stroke-width="2.4" stroke-linecap="round"/>
<path d="M190.1 804.2h0M155.7 771.4h0M164.8 797.6h0M159.3 785.9h0" stroke="rgb(220,220,220)" stroke-width="2.4" stroke-linecap="round"/>
<path d="M148.4 794.9h0M193.5 778.8h0M168.3 762.5h0M194.7 796.8h0M160.4 801.5h0M173.4 802.1h0M180.5 797.2h0M147.2 778.5h0M160.5 804.4h0M189.4 768.8h0M176.6 798.9h0M154.1 772.4h0M163.2 767.0h0M147.5 781.9h0M145.9 795.5h0M173.4 765.6h0M168.1 807.8h0M161.6 776.2h0M168.5 820.5h0M165.5 810.3h0" stroke="rgb(200,200,200)" stroke-width="2.8" stroke-linecap="round"/>
<path d="M168.9 766.8h0M142.4 787.3h0M153.9 772.3h0" stroke="rgb(220,220,220)" stroke-width="2.8" stroke-linecap="round"/>
</g>
<text transform="translate(251.20,734.25) scale(1,1.04)" font-size="14.6" font-weight="bold" fill="#000" stroke="#000" stroke-width="0.3" text-anchor="middle" >+</text>
<text transform="translate(251.20,750.50) scale(1,1.04)" font-size="14.6" font-weight="bold" fill="#000" stroke="#000" stroke-width="0.3" text-anchor="middle" >-</text>
<g filter="url(#bl)">
<rect x="213.80" y="753.50" width="74.8" height="74.8" fill="#eeeeee"/>
<circle cx="251.20" cy="790.90" r="36.2" fill="#f0f0f0" stroke="#d4d4d4" stroke-width="0.9"/>
<circle cx="251.20" cy="790.90" r="32.7" fill="#e9e9e9" stroke="#d3d3d3" stroke-width="3"/>
<circle cx="251.20" cy="790.90" r="31.3" fill="none" stroke="#b9b9b9" stroke-width="0.9"/>
<circle cx="251.20" cy="790.90" r="34.2" fill="none" stroke="#c4c4c4" stroke-width="0.6"/>
<rect x="217.60" y="788.70" width="2.2" height="4.4" fill="#666"/>
<rect x="282.60" y="788.70" width="2.2" height="4.4" fill="#666"/>
<path d="M246.4 790.3h0M280.6 787.5h0M272.1 792.0h0" stroke="rgb(120,120,120)" stroke-width="1.2" stroke-linecap="round"/>
<path d="M248.4 779.7h0M235.5 782.7h0M267.5 785.8h0M227.4 777.3h0" stroke="rgb(140,140,140)" stroke-width="1.2" stroke-linecap="round"/>
<path d="M244.6 793.6h0M245.6 767.2h0M243.4 799.2h0M277.8 797.6h0" stroke="rgb(160,160,160)" stroke-width="1.2" stroke-linecap="round"/>
<path d="M267.4 805.8h0M252.3 766.9h0M277.5 786.8h0" stroke="rgb(100,100,100)" stroke-width="1.6" stroke-linecap="round"/>
<path d="M249.9 798.0h0M229.5 770.5h0M223.2 786.1h0M250.2 791.4h0M236.9 772.8h0M236.5 783.7h0M250.4 801.5h0M253.3 780.0h0M255.0 793.9h0M275.7 788.7h0M266.7 814.7h0M249.9 807.3h0M277.9 803.8h0M245.6 762.1h0M260.6 805.6h0" stroke="rgb(120,120,120)" stroke-width="1.6" stroke-linecap="round"/>
<path d="M270.8 812.3h0M228.6 791.0h0M229.6 775.7h0M230.8 806.0h0M236.1 769.4h0M272.6 775.1h0M256.6 792.1h0M223.5 781.2h0" stroke="rgb(140,140,140)" stroke-width="1.6" stroke-linecap="round"/>
<path d="M242.5 808.2h0M277.2 802.4h0M242.3 794.1h0M244.4 810.2h0M260.3 780.5h0M255.5 809.1h0M229.4 798.4h0" stroke="rgb(160,160,160)" stroke-width="1.6" stroke-linecap="round"/>
<path d="M277.9 801.2h0M270.9 800.3h0M226.7 793.8h0M268.8 807.6h0" stroke="rgb(100,100,100)" stroke-width="2.0" stroke-linecap="round"/>
<path d="M269.4 785.6h0M235.7 784.5h0M262.4 771.3h0M252.5 775.3h0M234.3 778.4h0M252.3 798.2h0M223.4 785.5h0M272.9 801.8h0M244.2 780.0h0" stroke="rgb(120,120,120)" stroke-width="2.0" stroke-linecap="round"/>
<path d="M256.7 785.8h0M234.3 809.3h0" stroke="rgb(140,140,140)" stroke-width="2.0" stroke-linecap="round"/>
<path d="M257.6 794.6h0" stroke="rgb(160,160,160)" stroke-width="2.0" stroke-linecap="round"/>
<path d="M222.8 780.4h0M271.2 777.0h0M246.1 818.2h0M235.9 806.1h0M269.7 777.2h0M242.2 815.8h0M244.6 765.5h0M244.8 813.6h0M257.0 817.7h0M231.8 792.1h0" stroke="rgb(200,200,200)" stroke-width="2.0" stroke-linecap="round"/>
<path d="M267.6 771.0h0M231.3 786.5h0" stroke="rgb(220,220,220)" stroke-width="2.0" stroke-linecap="round"/>
<path d="M244.9 808.0h0M246.2 767.5h0M231.4 810.2h0M245.3 815.6h0M229.2 774.2h0M234.3 772.5h0M259.1 771.4h0M272.7 771.9h0M247.8 804.3h0M243.7 810.8h0M255.0 777.8h0M272.0 806.9h0M277.3 789.9h0M243.0 784.4h0M233.4 812.8h0M243.6 813.4h0" stroke="rgb(200,200,200)" stroke-width="2.4" stroke-linecap="round"/>
<path d="M268.9 792.5h0M240.1 808.9h0" stroke="rgb(220,220,220)" stroke-width="2.4" stroke-linecap="round"/>
<path d="M244.8 770.2h0M236.6 776.6h0M250.3 790.8h0M255.1 777.1h0M257.3 792.5h0M245.6 769.9h0M246.4 772.1h0M241.7 785.7h0M255.9 763.5h0M229.5 776.8h0M279.0 788.5h0M238.5 798.8h0M242.3 786.7h0M225.9 785.1h0M222.3 786.1h0" stroke="rgb(200,200,200)" stroke-width="2.8" stroke-linecap="round"/>
<path d="M238.0 789.8h0M252.1 787.9h0M261.8 769.0h0" stroke="rgb(220,220,220)" stroke-width="2.8" stroke-linecap="round"/>
</g>
<text transform="translate(331.50,734.25) scale(1,1.04)" font-size="14.6" font-weight="bold" fill="#000" stroke="#000" stroke-width="0.3" text-anchor="middle" >-</text>
<text transform="translate(331.50,750.50) scale(1,1.04)" font-size="14.6" font-weight="bold" fill="#000" stroke="#000" stroke-width="0.3" text-anchor="middle" >+</text>
<g filter="url(#bl)">
<rect x="294.10" y="753.50" width="74.8" height="74.8" fill="#eeeeee"/>
<circle cx="331.50" cy="790.90" r="36.2" fill="#f0f0f0" stroke="#d4d4d4" stroke-width="0.9"/>
<circle cx="331.50" cy="790.90" r="32.7" fill="#e9e9e9" stroke="#d3d3d3" stroke-width="3"/>
<circle cx="331.50" cy="790.90" r="31.3" fill="none" stroke="#b9b9b9" stroke-width="0.9"/>
<circle cx="331.50" cy="790.90" r="34.2" fill="none" stroke="#c4c4c4" stroke-width="0.6"/>
<rect x="297.90" y="788.70" width="2.2" height="4.4" fill="#666"/>
<path d="M328.7 819.5h0M337.0 801.8h0M354.9 780.5h0M311.9 803.8h0M355.0 779.2h0M308.3 809.1h0" stroke="rgb(100,100,100)" stroke-width="1.2" stroke-linecap="round"/>
<path d="M333.1 796.0h0M325.7 813.3h0M317.6 807.2h0M307.9 807.6h0M321.8 810.2h0M329.7 783.3h0" stroke="rgb(120,120,120)" stroke-width="1.2" stroke-linecap="round"/>
<path d="M354.8 799.8h0M326.2 806.2h0M330.7 812.3h0M337.2 763.6h0M321.1 810.7h0M322.4 806.5h0M325.4 808.4h0" stroke="rgb(140,140,140)" stroke-width="1.2" stroke-linecap="round"/>
<path d="M334.2 789.3h0M320.9 780.1h0" stroke="rgb(160,160,160)" stroke-width="1.2" stroke-linecap="round"/>
<path d="M345.5 801.1h0M319.2 815.2h0M315.8 789.4h0M331.3 767.2h0M335.8 800.3h0M325.4 775.0h0M314.1 777.2h0" stroke="rgb(100,100,100)" stroke-width="1.6" stroke-linecap="round"/>
<path d="M344.1 789.9h0M310.9 772.7h0M307.3 806.8h0M347.8 792.1h0M319.4 798.9h0M325.8 780.1h0M357.9 785.3h0M346.7 796.5h0M343.5 783.4h0M311.6 781.0h0M357.6 788.5h0M332.0 790.5h0M338.0 797.0h0M326.3 783.5h0M306.8 802.6h0M357.7 797.8h0M322.0 784.5h0M341.6 785.2h0" stroke="rgb(120,120,120)" stroke-width="1.6" stroke-linecap="round"/>
<path d="M348.4 804.5h0M308.3 809.6h0M336.7 774.5h0M310.2 808.1h0M337.0 774.1h0M340.9 804.5h0M351.7 806.3h0M341.1 778.1h0M326.0 799.5h0M356.3 791.6h0M337.3 769.2h0M339.0 809.5h0M321.9 807.0h0M340.4 813.8h0M307.3 795.3h0M320.7 775.9h0M339.2 797.8h0M352.3 785.9h0" stroke="rgb(140,140,140)" stroke-width="1.6" stroke-linecap="round"/>
<path d="M349.5 796.3h0M353.3 803.3h0M345.4 773.6h0M345.0 814.6h0M317.0 812.9h0" stroke="rgb(160,160,160)" stroke-width="1.6" stroke-linecap="round"/>
<path d="M341.0 779.0h0M334.2 800.0h0M325.5 781.9h0M333.0 762.6h0M311.9 804.5h0M347.9 772.0h0M358.2 781.3h0M327.8 794.5h0M334.2 802.9h0" stroke="rgb(100,100,100)" stroke-width="2.0" stroke-linecap="round"/>
<path d="M329.8 818.5h0M325.9 772.6h0M351.8 774.9h0M317.0 785.0h0M334.2 805.2h0M347.8 785.4h0M337.0 791.7h0" stroke="rgb(120,120,120)" stroke-width="2.0" stroke-linecap="round"/>
<path d="M331.1 801.6h0M351.6 771.0h0M305.8 782.5h0M326.6 787.6h0M351.9 808.6h0M343.0 788.6h0M349.8 806.4h0M337.7 785.0h0M355.7 777.7h0" stroke="rgb(140,140,140)" stroke-width="2.0" stroke-linecap="round"/>
<path d="M345.8 765.6h0" stroke="rgb(160,160,160)" stroke-width="2.0" stroke-linecap="round"/>
<path d="M337.7 817.2h0M301.9 795.5h0M337.4 800.2h0M327.2 806.4h0M332.3 786.9h0M358.9 802.0h0M322.4 793.3h0M339.9 779.0h0M328.9 797.3h0M335.5 819.2h0M353.8 775.4h0M319.5 767.6h0" stroke="rgb(200,200,200)" stroke-width="2.0" stroke-linecap="round"/>
<path d="M350.7 793.4h0M352.8 795.3h0M329.8 813.6h0M356.3 779.0h0M320.6 789.3h0M334.4 802.7h0M353.1 774.0h0M354.9 801.2h0M343.8 817.1h0" stroke="rgb(220,220,220)" stroke-width="2.0" stroke-linecap="round"/>
<path d="M327.1 770.3h0M328.8 813.4h0M354.3 800.9h0M341.9 796.1h0M328.7 792.2h0M330.1 803.3h0M317.8 776.4h0M356.1 779.7h0M339.4 783.3h0M347.0 767.3h0M336.7 782.8h0M325.8 772.6h0M337.8 788.1h0M337.4 788.5h0M339.6 774.8h0M356.7 799.5h0M324.9 813.9h0M312.5 780.9h0M308.1 809.9h0M305.0 777.9h0" stroke="rgb(200,200,200)" stroke-width="2.4" stroke-linecap="round"/>
<path d="M326.1 779.7h0M342.4 807.2h0M320.0 785.2h0M331.7 762.4h0" stroke="rgb(220,220,220)" stroke-width="2.4" stroke-linecap="round"/>
<path d="M319.3 786.7h0M334.2 790.9h0M303.3 791.7h0M330.0 808.2h0M341.5 813.0h0M353.7 799.4h0M302.0 792.9h0M359.9 784.7h0M355.0 788.2h0M327.7 818.1h0M317.3 765.3h0M348.1 798.0h0M334.4 787.6h0M350.8 771.9h0M339.6 802.4h0M331.3 812.2h0M309.7 772.2h0M338.1 812.0h0M357.6 802.4h0M316.2 794.6h0M345.7 776.7h0M334.1 802.2h0M337.2 771.5h0M351.9 793.1h0M341.7 792.3h0" stroke="rgb(200,200,200)" stroke-width="2.8" stroke-linecap="round"/>
<path d="M341.1 793.6h0M316.4 806.4h0M318.6 814.1h0M331.5 793.0h0M321.7 771.3h0M314.7 807.2h0" stroke="rgb(220,220,220)" stroke-width="2.8" stroke-linecap="round"/>
</g>
<text transform="translate(411.80,734.25) scale(1,1.04)" font-size="14.6" font-weight="bold" fill="#000" stroke="#000" stroke-width="0.3" text-anchor="middle" >+</text>
<text transform="translate(411.80,750.50) scale(1,1.04)" font-size="14.6" font-weight="bold" fill="#000" stroke="#000" stroke-width="0.3" text-anchor="middle" >+</text>
<g filter="url(#bl)">
<rect x="374.40" y="753.50" width="74.8" height="74.8" fill="#eeeeee"/>
<circle cx="411.80" cy="790.90" r="36.2" fill="#f0f0f0" stroke="#d4d4d4" stroke-width="0.9"/>
<circle cx="411.80" cy="790.90" r="32.7" fill="#e9e9e9" stroke="#d3d3d3" stroke-width="3"/>
<circle cx="411.80" cy="790.90" r="31.3" fill="none" stroke="#b9b9b9" stroke-width="0.9"/>
<circle cx="411.80" cy="790.90" r="34.2" fill="none" stroke="#c4c4c4" stroke-width="0.6"/>
<rect x="378.20" y="788.70" width="2.2" height="4.4" fill="#666"/>
<rect x="443.20" y="788.70" width="2.2" height="4.4" fill="#666"/>
<rect x="409.60" y="822.30" width="4.4" height="2.2" fill="#555"/>
<path d="M402.1 818.8h0M395.2 810.8h0" stroke="rgb(100,100,100)" stroke-width="1.2" stroke-linecap="round"/>
<path d="M386.7 787.4h0M391.0 805.5h0M419.1 782.0h0M398.6 808.7h0M402.3 810.3h0" stroke="rgb(120,120,120)" stroke-width="1.2" stroke-linecap="round"/>
<path d="M409.8 772.4h0M434.2 771.4h0M410.0 766.0h0M406.8 807.9h0M415.7 801.3h0" stroke="rgb(140,140,140)" stroke-width="1.2" stroke-linecap="round"/>
<path d="M407.2 817.4h0M418.5 779.2h0M422.7 790.8h0M395.9 796.8h0" stroke="rgb(160,160,160)" stroke-width="1.2" stroke-linecap="round"/>
<path d="M388.6 790.2h0M389.4 782.8h0M405.5 803.9h0" stroke="rgb(100,100,100)" stroke-width="1.6" stroke-linecap="round"/>
<path d="M386.6 789.2h0M436.3 806.2h0M432.5 787.0h0M412.5 785.1h0M392.6 778.0h0M434.9 776.1h0M413.9 767.7h0M397.0 769.6h0M382.9 784.7h0M416.2 771.2h0M416.6 794.7h0M419.1 811.7h0M391.0 783.6h0" stroke="rgb(120,120,120)" stroke-width="1.6" stroke-linecap="round"/>
<path d="M392.1 784.2h0M413.6 804.5h0M420.5 789.6h0M394.0 771.0h0M424.1 770.4h0M417.9 801.5h0" stroke="rgb(140,140,140)" stroke-width="1.6" stroke-linecap="round"/>
<path d="M418.1 776.0h0M413.1 802.3h0M411.2 820.3h0" stroke="rgb(160,160,160)" stroke-width="1.6" stroke-linecap="round"/>
<path d="M419.8 764.0h0" stroke="rgb(100,100,100)" stroke-width="2.0" stroke-linecap="round"/>
<path d="M422.6 800.1h0M407.9 798.2h0M407.2 793.7h0" stroke="rgb(120,120,120)" stroke-width="2.0" stroke-linecap="round"/>
<path d="M385.5 777.5h0" stroke="rgb(140,140,140)" stroke-width="2.0" stroke-linecap="round"/>
<path d="M419.7 762.4h0M426.4 812.3h0" stroke="rgb(160,160,160)" stroke-width="2.0" stroke-linecap="round"/>
<path d="M421.7 768.5h0M407.8 762.7h0M401.8 803.9h0M400.8 766.1h0M390.0 810.2h0M405.4 767.5h0M431.7 808.0h0M421.2 808.7h0M417.4 818.9h0" stroke="rgb(200,200,200)" stroke-width="2.0" stroke-linecap="round"/>
<path d="M406.0 813.4h0M387.8 790.0h0M435.7 803.9h0M399.5 775.8h0M422.1 808.7h0M427.5 795.4h0M405.7 765.6h0M399.4 807.7h0" stroke="rgb(200,200,200)" stroke-width="2.4" stroke-linecap="round"/>
<path d="M430.1 790.0h0M401.5 784.5h0M389.8 788.3h0" stroke="rgb(220,220,220)" stroke-width="2.4" stroke-linecap="round"/>
<path d="M386.2 796.7h0M419.1 809.9h0M402.9 786.7h0M410.2 768.4h0M406.5 797.2h0M392.5 768.9h0M417.2 762.2h0M424.0 765.1h0M393.0 784.0h0M384.0 781.9h0M406.2 781.7h0M424.4 791.8h0M409.6 799.1h0M404.3 787.1h0M434.8 796.9h0M424.3 792.1h0" stroke="rgb(200,200,200)" stroke-width="2.8" stroke-linecap="round"/>
<path d="M400.5 777.8h0M395.7 813.7h0" stroke="rgb(220,220,220)" stroke-width="2.8" stroke-linecap="round"/>
</g>
<text transform="translate(135.00,854.25) scale(1,1.04)" font-size="14.6" font-weight="bold" fill="#000" stroke="#000" stroke-width="0.3" text-anchor="end" >2.5μM MAKV-8</text>
<text transform="translate(135.00,870.00) scale(1,1.04)" font-size="14.6" font-weight="bold" fill="#000" stroke="#000" stroke-width="0.3" text-anchor="end" >10μM Imatinib</text>
<text transform="translate(170.90,854.25) scale(1,1.04)" font-size="14.6" font-weight="bold" fill="#000" stroke="#000" stroke-width="0.3" text-anchor="middle" >-</text>
<text transform="translate(170.90,870.00) scale(1,1.04)" font-size="14.6" font-weight="bold" fill="#000" stroke="#000" stroke-width="0.3" text-anchor="middle" >-</text>
<g filter="url(#bl)">
<rect x="133.50" y="874.00" width="74.8" height="74.8" fill="#eeeeee"/>
<circle cx="170.90" cy="911.40" r="36.2" fill="#f0f0f0" stroke="#d4d4d4" stroke-width="0.9"/>
<circle cx="170.90" cy="911.40" r="32.7" fill="#e9e9e9" stroke="#d3d3d3" stroke-width="3"/>
<circle cx="170.90" cy="911.40" r="31.3" fill="none" stroke="#b9b9b9" stroke-width="0.9"/>
<circle cx="170.90" cy="911.40" r="34.2" fill="none" stroke="#c4c4c4" stroke-width="0.6"/>
<rect x="168.70" y="877.80" width="4.4" height="2.2" fill="#666"/>
<path d="M156.9 890.7h0M193.6 926.4h0M171.6 940.0h0M150.4 904.6h0M157.3 921.7h0M156.3 918.9h0M175.0 922.1h0M149.2 900.1h0M170.1 917.8h0M165.2 913.0h0M177.6 936.7h0M167.3 890.5h0" stroke="rgb(60,60,60)" stroke-width="1.6" stroke-linecap="round"/>
<path d="M189.7 905.0h0M147.7 916.6h0M182.2 891.7h0M169.5 916.4h0M179.3 912.3h0M156.0 934.8h0M158.0 910.6h0M185.6 911.4h0M154.3 894.9h0M165.7 923.6h0M177.7 933.9h0M182.9 925.5h0M144.2 918.9h0M170.9 922.7h0M146.9 895.1h0M159.6 917.5h0M178.3 905.4h0M149.5 920.6h0M161.3 888.8h0M183.0 887.7h0M156.0 907.4h0M177.7 913.6h0M193.5 892.8h0M169.5 925.9h0M178.9 915.4h0" stroke="rgb(80,80,80)" stroke-width="1.6" stroke-linecap="round"/>
<path d="M188.8 920.2h0M151.7 925.7h0M181.4 897.8h0M170.7 889.5h0M155.6 912.0h0M151.6 914.8h0M152.5 908.9h0M190.0 896.4h0M154.6 916.5h0M177.3 886.4h0M141.9 914.8h0M175.9 899.9h0M186.2 897.4h0M182.7 926.5h0M181.1 889.9h0M165.3 919.6h0M172.3 931.0h0M168.6 914.0h0M197.6 923.9h0M172.2 922.2h0M164.2 937.3h0M165.8 933.5h0M151.7 922.1h0M184.5 908.1h0" stroke="rgb(100,100,100)" stroke-width="1.6" stroke-linecap="round"/>
<path d="M186.9 906.9h0M181.7 919.7h0M173.0 917.3h0M170.9 912.8h0M181.8 892.3h0M187.1 888.2h0M192.5 892.3h0M196.2 923.2h0" stroke="rgb(120,120,120)" stroke-width="1.6" stroke-linecap="round"/>
<path d="M174.4 893.8h0M161.2 925.9h0M143.6 901.0h0M178.2 912.7h0M146.6 923.4h0M184.0 895.8h0M143.4 917.6h0M162.6 885.4h0M169.0 884.9h0M182.0 922.4h0M175.0 926.4h0M159.7 927.7h0M195.5 913.0h0M142.6 909.7h0M164.4 930.7h0M156.6 904.7h0M145.4 903.1h0M161.9 884.8h0M187.6 908.9h0M157.2 929.2h0M179.5 935.7h0M192.4 910.3h0M162.9 922.6h0M173.1 885.2h0M175.6 896.8h0M172.4 924.5h0" stroke="rgb(60,60,60)" stroke-width="2.0" stroke-linecap="round"/>
<path d="M142.9 919.9h0M195.4 913.0h0M141.8 905.2h0M185.2 925.0h0M185.6 905.9h0M173.0 896.5h0M172.9 897.4h0M181.2 904.9h0M155.6 888.7h0M196.5 924.6h0M172.0 890.5h0M170.2 914.1h0M166.5 897.9h0M149.5 915.5h0M178.8 917.0h0M179.5 888.4h0M185.9 898.3h0M156.3 902.5h0M178.1 904.3h0M151.3 924.4h0M143.0 911.6h0M161.4 896.3h0M178.5 914.0h0M170.3 884.4h0M189.7 910.0h0M151.9 923.6h0M163.0 888.9h0M187.4 915.5h0M192.8 896.4h0M178.6 888.0h0M177.3 925.6h0M144.7 899.8h0M159.9 893.2h0M157.7 887.4h0" stroke="rgb(80,80,80)" stroke-width="2.0" stroke-linecap="round"/>
<path d="M146.4 924.1h0M182.7 934.9h0M185.0 907.3h0M154.0 918.5h0M154.7 932.8h0M161.3 921.4h0M152.9 893.2h0M166.0 899.5h0M144.7 921.5h0M162.5 923.6h0M159.0 917.3h0M167.8 922.3h0M163.9 902.2h0M173.4 931.4h0M164.9 887.7h0M178.3 897.7h0M163.9 912.6h0M150.3 891.0h0M160.8 884.1h0M193.1 902.8h0M178.5 907.5h0M156.2 902.3h0M166.4 888.2h0M146.9 919.0h0M160.5 934.0h0M193.4 912.7h0M182.2 915.3h0M154.4 910.8h0M152.4 890.9h0M155.5 908.5h0M159.1 922.0h0M189.8 930.7h0M184.6 890.2h0M156.0 918.6h0M190.6 924.1h0M152.0 895.0h0M188.2 931.1h0M151.4 928.8h0" stroke="rgb(100,100,100)" stroke-width="2.0" stroke-linecap="round"/>
<path d="M181.4 913.6h0M158.7 896.7h0M184.5 892.0h0M191.8 900.1h0M177.3 894.6h0M193.5 893.2h0M185.8 927.6h0M152.7 918.3h0M147.3 918.8h0M167.5 886.5h0M178.7 918.3h0M185.5 934.2h0M163.6 899.9h0M156.9 909.3h0" stroke="rgb(120,120,120)" stroke-width="2.0" stroke-linecap="round"/>
<path d="M195.6 927.4h0M178.6 887.4h0M160.1 925.4h0M159.4 923.9h0M155.3 903.2h0M187.9 904.8h0M184.5 919.9h0M175.8 923.6h0M175.6 903.8h0M152.1 917.0h0M177.8 940.9h0M150.3 922.2h0M197.3 921.9h0M177.5 893.4h0M184.4 925.3h0M197.2 916.7h0M190.8 918.4h0M181.9 913.1h0M180.4 905.7h0M170.3 909.0h0M159.6 924.8h0M172.0 889.9h0M187.4 893.1h0M155.4 909.0h0M163.8 882.2h0M165.1 909.3h0M192.0 889.8h0M162.3 914.7h0M187.7 910.8h0M181.5 908.4h0M164.4 901.4h0M192.4 894.2h0M157.8 911.4h0M194.7 920.1h0M151.8 903.7h0M154.2 917.6h0M186.0 897.5h0M146.8 922.3h0M180.1 885.0h0M144.0 903.5h0M198.1 923.1h0M180.7 935.9h0M155.4 886.7h0M152.8 922.4h0M152.6 932.1h0M185.8 890.6h0M179.0 924.3h0M187.2 912.7h0M165.7 883.3h0M154.0 915.3h0M165.8 882.7h0M172.2 941.5h0M186.2 912.6h0M188.6 910.9h0M158.4 884.8h0M183.6 918.7h0M150.7 891.8h0M200.2 912.6h0M172.2 913.9h0M166.8 926.2h0M155.8 898.1h0M178.5 905.5h0M160.9 909.9h0" stroke="rgb(200,200,200)" stroke-width="2.0" stroke-linecap="round"/>
<path d="M154.5 895.4h0M159.8 890.4h0M187.5 936.6h0M166.5 893.7h0M144.2 923.4h0M181.1 890.6h0M163.4 935.2h0M186.2 886.3h0M164.4 927.8h0" stroke="rgb(220,220,220)" stroke-width="2.0" stroke-linecap="round"/>
<path d="M171.1 932.0h0M183.2 892.3h0M172.4 893.5h0M149.7 900.0h0M193.7 928.1h0M172.0 885.9h0M142.5 908.5h0M144.6 907.6h0M157.4 929.6h0M144.8 899.0h0M163.5 933.5h0M178.3 919.3h0M169.9 887.9h0" stroke="rgb(60,60,60)" stroke-width="2.4" stroke-linecap="round"/>
<path d="M193.9 913.8h0M156.7 908.9h0M193.0 918.2h0M169.7 911.7h0M143.0 921.0h0M173.0 894.7h0M191.2 917.2h0M153.7 919.7h0M178.4 939.6h0M143.3 920.1h0M162.1 914.5h0M174.1 902.7h0M166.7 906.7h0M166.9 888.7h0M168.2 939.7h0M145.2 908.7h0M166.4 906.5h0M168.2 912.6h0M159.4 930.7h0M157.3 914.3h0M174.5 901.5h0M181.6 928.8h0M164.9 898.8h0M185.4 932.6h0M166.6 915.7h0M176.9 905.0h0M158.7 889.7h0M171.2 913.3h0M154.3 930.4h0M195.7 913.1h0M184.3 936.1h0" stroke="rgb(80,80,80)" stroke-width="2.4" stroke-linecap="round"/>
<path d="M160.1 886.4h0M198.8 904.4h0M168.1 936.7h0M179.0 929.1h0M156.4 896.3h0M173.3 915.8h0M153.1 887.6h0M176.0 883.9h0M179.5 921.9h0M168.4 939.4h0M176.9 916.9h0M177.5 920.3h0M160.9 903.6h0M169.9 911.3h0" stroke="rgb(100,100,100)" stroke-width="2.4" stroke-linecap="round"/>
<path d="M170.0 912.1h0M175.3 924.2h0M170.9 930.6h0M165.9 890.1h0M157.6 894.9h0M147.7 925.6h0M165.8 926.8h0M143.5 901.3h0M151.6 900.5h0M163.0 929.7h0M196.0 902.0h0" stroke="rgb(120,120,120)" stroke-width="2.4" stroke-linecap="round"/>
<path d="M153.6 927.2h0M175.2 902.3h0M181.0 891.7h0M167.6 902.5h0M151.2 918.2h0M179.3 929.7h0M156.8 886.9h0M164.7 894.3h0M167.0 898.6h0M169.0 903.8h0M176.6 923.1h0M189.9 900.5h0M143.1 918.8h0M174.4 933.9h0M177.4 893.8h0M161.2 935.8h0M146.7 907.6h0M175.6 895.2h0M179.3 897.7h0M185.7 916.5h0M148.2 904.0h0M160.1 891.0h0M168.3 920.3h0M162.9 923.6h0M156.9 894.4h0M156.4 904.7h0M163.2 882.2h0M157.3 924.8h0M189.2 926.8h0M142.8 915.6h0M163.0 938.5h0M184.2 924.7h0M154.6 887.7h0M177.6 929.8h0M164.7 939.5h0M153.6 923.0h0M192.5 930.6h0M152.3 908.6h0M181.0 903.6h0M149.5 895.6h0M157.9 884.5h0M163.3 907.9h0M164.3 916.3h0M167.5 912.0h0M156.6 892.7h0M194.6 922.6h0M166.6 910.1h0" stroke="rgb(200,200,200)" stroke-width="2.4" stroke-linecap="round"/>
<path d="M150.1 918.5h0M193.5 928.3h0M163.1 928.5h0M192.9 920.5h0M145.0 924.3h0M187.5 906.9h0M149.5 918.2h0M141.2 908.0h0M160.3 896.8h0M185.0 909.1h0M153.7 924.6h0M169.2 912.9h0M166.3 911.9h0M162.1 897.7h0M157.6 936.4h0M156.1 922.9h0M145.2 924.2h0M170.7 904.6h0M172.6 935.2h0" stroke="rgb(220,220,220)" stroke-width="2.4" stroke-linecap="round"/>
<path d="M150.4 908.2h0M165.5 899.5h0M154.7 903.8h0M176.6 884.5h0M184.0 896.1h0M174.9 921.3h0M184.5 901.9h0M198.2 922.4h0M176.3 938.8h0M190.8 914.4h0M157.8 900.2h0M160.2 931.0h0M187.6 889.3h0M179.3 926.9h0M190.6 893.9h0M170.9 937.3h0M188.4 930.2h0M165.5 902.8h0M151.8 902.7h0M166.1 931.9h0M144.7 907.7h0M171.0 898.8h0M194.6 925.7h0M154.6 899.1h0M141.7 913.1h0M146.7 914.7h0M187.3 905.4h0M165.1 895.5h0M173.2 886.6h0M167.3 922.8h0M160.1 901.6h0M163.8 902.0h0M182.4 902.1h0M192.6 930.1h0M151.5 917.0h0M163.1 921.7h0M143.6 909.3h0M167.3 931.0h0M188.6 930.0h0M182.6 924.1h0M165.1 914.3h0M169.3 902.8h0M155.4 930.3h0M176.3 925.0h0M194.2 892.3h0M179.8 929.8h0M177.4 937.7h0M150.6 925.8h0M141.5 911.4h0M187.3 933.5h0M165.9 909.0h0" stroke="rgb(200,200,200)" stroke-width="2.8" stroke-linecap="round"/>
<path d="M162.0 912.1h0M195.0 897.6h0M180.4 892.3h0M197.9 910.3h0M162.9 915.8h0M172.6 934.6h0M151.0 928.2h0M198.8 907.4h0M148.9 916.1h0M165.4 913.6h0M177.7 911.3h0" stroke="rgb(220,220,220)" stroke-width="2.8" stroke-linecap="round"/>
</g>
<text transform="translate(251.20,854.25) scale(1,1.04)" font-size="14.6" font-weight="bold" fill="#000" stroke="#000" stroke-width="0.3" text-anchor="middle" >+</text>
<text transform="translate(251.20,870.00) scale(1,1.04)" font-size="14.6" font-weight="bold" fill="#000" stroke="#000" stroke-width="0.3" text-anchor="middle" >-</text>
<g filter="url(#bl)">
<rect x="213.80" y="874.00" width="74.8" height="74.8" fill="#eeeeee"/>
<circle cx="251.20" cy="911.40" r="36.2" fill="#f0f0f0" stroke="#d4d4d4" stroke-width="0.9"/>
<circle cx="251.20" cy="911.40" r="32.7" fill="#e9e9e9" stroke="#d3d3d3" stroke-width="3"/>
<circle cx="251.20" cy="911.40" r="31.3" fill="none" stroke="#b9b9b9" stroke-width="0.9"/>
<circle cx="251.20" cy="911.40" r="34.2" fill="none" stroke="#c4c4c4" stroke-width="0.6"/>
<rect x="249.00" y="877.80" width="4.4" height="2.2" fill="#666"/>
<path d="M267.0 929.0h0M251.4 931.3h0M231.2 915.8h0M223.7 915.1h0M264.1 899.8h0M256.9 883.4h0M236.5 892.1h0M277.7 900.4h0M223.1 918.5h0M276.1 903.9h0M259.6 911.1h0M231.0 901.5h0M244.2 914.2h0M269.2 896.1h0M270.4 912.9h0M237.1 925.6h0M235.5 935.2h0M263.4 924.1h0M245.6 923.8h0M267.6 896.0h0M254.2 901.1h0M252.5 890.2h0M271.8 916.5h0M263.6 925.0h0M235.6 923.4h0M241.1 933.6h0M269.3 895.2h0M265.1 922.4h0M259.0 917.2h0M271.8 902.7h0" stroke="rgb(60,60,60)" stroke-width="1.6" stroke-linecap="round"/>
<path d="M240.1 909.7h0M272.0 900.9h0M237.6 916.0h0M241.4 911.0h0M262.6 920.4h0M242.7 930.6h0M257.7 902.9h0M254.7 922.2h0M225.0 906.5h0M232.4 925.4h0M275.9 909.9h0M268.7 895.3h0M246.3 889.4h0M238.1 886.6h0M231.3 891.9h0M249.1 918.7h0M223.2 914.0h0M238.7 931.9h0M274.0 923.6h0M234.1 902.8h0M239.9 911.9h0M273.0 930.1h0M231.3 894.0h0M253.9 925.0h0M275.5 898.2h0M253.6 930.9h0M240.3 918.6h0M267.2 888.6h0M265.4 929.9h0M237.1 898.1h0M275.9 895.1h0M264.1 890.7h0M260.5 894.9h0M268.4 895.4h0M270.4 916.3h0M227.5 896.5h0M241.7 898.1h0" stroke="rgb(80,80,80)" stroke-width="1.6" stroke-linecap="round"/>
<path d="M264.3 903.1h0M230.1 910.4h0M270.6 914.1h0M224.3 917.1h0M260.1 901.6h0M258.3 934.3h0M231.8 928.4h0M232.4 921.6h0M254.7 898.3h0M252.0 934.8h0M227.4 927.1h0M275.9 924.9h0M248.5 906.8h0M241.5 900.7h0M234.2 917.7h0M257.5 886.1h0M259.4 887.3h0M239.3 901.4h0M272.1 891.1h0M248.9 884.9h0M257.3 908.0h0M274.3 913.3h0M228.9 918.0h0M232.7 921.2h0M254.5 935.0h0M249.5 896.5h0" stroke="rgb(100,100,100)" stroke-width="1.6" stroke-linecap="round"/>
<path d="M256.2 894.8h0M244.4 890.7h0M243.7 887.5h0M272.7 909.9h0M263.3 892.6h0M273.1 912.5h0M273.6 902.5h0M271.7 906.8h0M264.0 884.9h0" stroke="rgb(120,120,120)" stroke-width="1.6" stroke-linecap="round"/>
<path d="M233.0 903.8h0M225.7 917.9h0M227.3 912.9h0M266.3 925.5h0M252.1 902.8h0M276.7 922.0h0M271.3 895.3h0M230.9 900.5h0M235.8 929.2h0M240.9 905.3h0M249.5 896.0h0M264.2 909.4h0M277.7 899.2h0M277.4 902.8h0M268.7 906.2h0M230.1 932.0h0M248.6 890.5h0M266.7 934.0h0M235.3 889.9h0M267.8 932.8h0M259.6 926.9h0M233.4 900.7h0M259.5 931.0h0M275.0 898.7h0M266.9 923.4h0M244.3 894.0h0M263.1 906.1h0M248.3 907.6h0M279.6 903.8h0M249.3 886.9h0M268.6 903.4h0M244.9 926.0h0M273.5 912.2h0M229.7 908.9h0M272.8 900.4h0M230.0 914.2h0M258.3 892.4h0M255.6 895.0h0" stroke="rgb(60,60,60)" stroke-width="2.0" stroke-linecap="round"/>
<path d="M270.1 916.5h0M278.0 901.2h0M274.1 922.2h0M254.0 937.4h0M236.6 905.6h0M269.4 891.2h0M261.5 935.6h0M232.9 905.7h0M225.3 909.8h0M260.8 936.3h0M244.7 894.4h0M247.0 925.0h0M266.6 929.5h0M242.3 887.6h0M265.0 885.3h0M241.5 919.8h0M264.2 921.4h0M263.5 938.1h0M257.9 883.5h0M259.3 917.8h0M261.3 929.5h0M249.6 912.4h0M239.5 892.8h0M223.8 906.0h0M246.5 929.3h0M239.8 905.1h0M258.1 897.6h0M265.5 930.4h0M241.0 918.1h0M272.4 928.0h0M249.4 892.5h0M236.8 890.4h0M229.6 907.0h0M231.4 917.8h0M235.8 921.2h0" stroke="rgb(80,80,80)" stroke-width="2.0" stroke-linecap="round"/>
<path d="M238.1 934.7h0M256.2 897.9h0M264.4 888.9h0M273.8 897.0h0M231.6 911.1h0M271.2 892.2h0M236.3 888.4h0M278.1 904.3h0M245.3 886.3h0M228.3 923.0h0M232.6 897.3h0M272.3 914.3h0M245.1 882.6h0M242.7 939.8h0M249.7 885.3h0M246.7 907.9h0M260.4 933.9h0M235.1 936.4h0M230.5 930.2h0M264.3 900.1h0M244.7 930.6h0M266.4 897.7h0M259.7 902.7h0M270.2 906.7h0M248.1 885.1h0M223.8 903.3h0M252.4 925.2h0M264.1 921.6h0M244.4 925.4h0M259.3 889.8h0M277.6 912.0h0" stroke="rgb(100,100,100)" stroke-width="2.0" stroke-linecap="round"/>
<path d="M248.5 911.1h0M261.2 905.2h0M266.2 891.1h0M235.6 913.6h0M265.3 902.3h0M266.7 906.8h0M239.7 931.8h0M243.4 918.2h0M244.9 886.6h0M260.8 937.3h0" stroke="rgb(120,120,120)" stroke-width="2.0" stroke-linecap="round"/>
<path d="M255.0 891.3h0M276.6 910.6h0M275.5 916.2h0M226.1 913.0h0M238.4 909.8h0M257.3 940.9h0M229.2 908.6h0M276.6 925.7h0M248.3 909.9h0M257.9 938.8h0M237.2 890.9h0M242.7 894.3h0M270.7 934.5h0M230.8 893.8h0M225.1 923.5h0M267.7 926.3h0M237.7 895.1h0M246.6 899.2h0M246.8 892.7h0M241.6 896.2h0M232.1 909.7h0M232.1 931.9h0M240.4 922.0h0M234.0 914.7h0M248.1 926.2h0M236.3 919.6h0M250.3 881.4h0M243.4 916.9h0M227.8 906.3h0M237.0 905.0h0M262.2 895.9h0M257.6 930.0h0M260.6 885.3h0M242.6 906.8h0M242.1 918.9h0M270.5 888.6h0M227.7 899.3h0M271.9 915.5h0M266.3 890.6h0M261.4 898.8h0M248.2 912.2h0M256.8 923.1h0M268.2 923.5h0M250.7 907.7h0M229.5 924.6h0M240.0 917.7h0M248.3 912.8h0M235.8 933.4h0M262.7 935.7h0M269.6 915.2h0M270.8 899.5h0M241.9 908.5h0M228.6 910.1h0M240.8 920.6h0M240.5 890.9h0M232.5 920.1h0" stroke="rgb(200,200,200)" stroke-width="2.0" stroke-linecap="round"/>
<path d="M245.1 885.9h0M279.4 910.3h0M237.4 928.4h0M278.2 916.6h0M225.9 926.8h0M262.9 933.8h0M273.1 892.1h0M236.3 915.8h0M230.5 899.4h0M239.5 931.9h0M259.8 939.9h0M275.3 894.6h0" stroke="rgb(220,220,220)" stroke-width="2.0" stroke-linecap="round"/>
<path d="M257.0 925.0h0M269.6 934.3h0M255.2 915.7h0M249.6 889.1h0M241.9 937.5h0M223.8 904.9h0M259.6 935.6h0M251.7 917.9h0M266.9 923.3h0M243.7 929.6h0M229.1 920.8h0M251.0 928.5h0M228.0 928.3h0M228.4 906.1h0M249.3 894.0h0M272.9 925.5h0M226.7 925.4h0M273.2 893.2h0" stroke="rgb(60,60,60)" stroke-width="2.4" stroke-linecap="round"/>
<path d="M237.7 885.3h0M243.4 940.0h0M226.7 925.2h0M228.9 907.0h0M249.7 890.1h0M251.0 923.0h0M242.6 923.3h0M240.4 898.6h0M256.0 896.6h0M224.9 917.9h0M270.1 913.1h0M254.2 935.8h0M268.7 906.2h0M271.3 917.4h0M260.2 924.5h0M231.4 931.8h0M242.3 895.1h0M273.3 898.3h0M239.1 936.2h0M247.3 920.7h0M246.0 895.9h0M244.5 895.5h0M253.6 936.7h0M258.6 923.2h0M233.1 895.9h0" stroke="rgb(80,80,80)" stroke-width="2.4" stroke-linecap="round"/>
<path d="M243.6 934.7h0M251.7 937.3h0M232.6 904.5h0M257.1 892.3h0M236.6 923.4h0M245.1 891.6h0M226.5 926.6h0M232.5 912.5h0M260.2 930.7h0M238.5 913.2h0M259.0 928.7h0M246.0 923.4h0M276.6 910.0h0M238.9 894.9h0M279.3 902.1h0M264.8 919.5h0" stroke="rgb(100,100,100)" stroke-width="2.4" stroke-linecap="round"/>
<path d="M262.1 899.2h0M255.3 902.3h0M268.8 891.2h0M234.0 916.4h0M247.6 902.8h0" stroke="rgb(120,120,120)" stroke-width="2.4" stroke-linecap="round"/>
<path d="M264.8 919.8h0M230.8 909.9h0M259.7 929.8h0M259.5 922.5h0M243.4 921.6h0M231.8 902.4h0M231.5 933.9h0M252.8 910.2h0M238.5 910.2h0M236.8 919.7h0M225.6 919.5h0M277.7 922.7h0M253.1 938.5h0M263.2 912.8h0M236.4 889.1h0M265.6 897.2h0M233.1 918.6h0M256.0 900.4h0M259.1 894.4h0M231.5 897.0h0M248.3 910.2h0M232.6 921.0h0M254.8 913.4h0M253.2 921.2h0M250.0 906.3h0M263.7 931.8h0M242.2 893.5h0M253.4 932.8h0M279.9 914.6h0M229.3 915.4h0M267.1 932.4h0M230.6 890.0h0M244.4 938.2h0M249.2 932.7h0M244.6 898.9h0M230.6 920.3h0M270.8 915.4h0M225.9 919.6h0M259.3 905.4h0M225.3 914.4h0M224.4 913.7h0M232.9 927.2h0M264.5 905.4h0M248.2 940.7h0M249.4 931.2h0M233.0 888.9h0M267.3 890.5h0M228.5 900.8h0M277.5 914.3h0M263.5 936.0h0M277.3 920.7h0M275.7 919.8h0M231.3 914.6h0M259.5 899.3h0M250.9 926.0h0M251.0 895.4h0M274.7 906.6h0M242.1 901.7h0M252.7 937.3h0" stroke="rgb(200,200,200)" stroke-width="2.4" stroke-linecap="round"/>
<path d="M266.7 893.1h0M238.7 891.4h0M233.6 914.3h0M251.8 927.1h0M272.0 905.8h0M227.4 921.3h0M241.2 927.3h0M224.0 922.1h0M274.2 907.8h0M269.3 901.9h0M281.3 910.5h0M257.7 927.9h0M226.3 924.8h0M250.7 908.9h0M270.1 908.2h0M235.8 914.9h0M241.7 887.9h0M227.4 908.2h0M267.0 936.5h0" stroke="rgb(220,220,220)" stroke-width="2.4" stroke-linecap="round"/>
<path d="M253.8 941.1h0M238.9 918.0h0M231.5 917.1h0M240.0 933.7h0M235.8 932.9h0M235.0 934.1h0M275.1 924.4h0M234.3 934.2h0M247.4 911.9h0M252.9 881.5h0M266.4 902.3h0M278.1 906.8h0M255.9 904.2h0M266.4 929.4h0M255.2 914.9h0M265.8 900.4h0M238.6 896.5h0M239.2 904.9h0M223.8 913.6h0M250.7 910.1h0M243.6 885.7h0M230.7 930.8h0M271.3 910.4h0M240.7 901.1h0M277.4 920.8h0M256.6 882.7h0M245.9 892.0h0M226.9 912.6h0M261.7 906.7h0M230.4 918.0h0M240.5 917.3h0M238.4 886.8h0M238.0 924.8h0M230.0 896.6h0M264.4 936.4h0M274.4 918.1h0M260.2 919.0h0M225.8 908.9h0M241.3 937.9h0M237.1 914.1h0M253.2 934.8h0M256.9 940.4h0M243.0 921.6h0M246.2 885.8h0M244.4 887.1h0M254.0 932.5h0M226.6 905.0h0M235.7 888.5h0M253.5 926.2h0M252.5 914.6h0M222.6 907.4h0M233.7 921.2h0M239.2 899.0h0M268.5 933.9h0M256.9 913.6h0M235.9 921.4h0M271.6 899.0h0" stroke="rgb(200,200,200)" stroke-width="2.8" stroke-linecap="round"/>
<path d="M237.5 917.9h0M239.6 913.6h0M239.1 917.0h0M277.7 913.9h0M231.7 932.5h0M251.9 913.3h0M244.9 936.7h0M278.2 921.6h0M226.7 898.7h0M259.8 927.7h0M233.8 899.9h0M223.4 919.9h0M265.1 911.0h0M244.0 908.9h0M256.8 885.9h0M264.7 908.9h0M252.3 908.9h0M224.8 906.3h0M273.8 927.7h0M247.7 919.9h0M229.2 910.2h0" stroke="rgb(220,220,220)" stroke-width="2.8" stroke-linecap="round"/>
</g>
<text transform="translate(331.50,854.25) scale(1,1.04)" font-size="14.6" font-weight="bold" fill="#000" stroke="#000" stroke-width="0.3" text-anchor="middle" >-</text>
<text transform="translate(331.50,870.00) scale(1,1.04)" font-size="14.6" font-weight="bold" fill="#000" stroke="#000" stroke-width="0.3" text-anchor="middle" >+</text>
<g filter="url(#bl)">
<rect x="294.10" y="874.00" width="74.8" height="74.8" fill="#eeeeee"/>
<circle cx="331.50" cy="911.40" r="36.2" fill="#f0f0f0" stroke="#d4d4d4" stroke-width="0.9"/>
<circle cx="331.50" cy="911.40" r="32.7" fill="#e9e9e9" stroke="#d3d3d3" stroke-width="3"/>
<circle cx="331.50" cy="911.40" r="31.3" fill="none" stroke="#b9b9b9" stroke-width="0.9"/>
<circle cx="331.50" cy="911.40" r="34.2" fill="none" stroke="#c4c4c4" stroke-width="0.6"/>
<path d="M353.5 918.4h0" stroke="rgb(80,80,80)" stroke-width="1.2" stroke-linecap="round"/>
<path d="M309.5 915.4h0" stroke="rgb(120,120,120)" stroke-width="1.2" stroke-linecap="round"/>
<path d="M353.0 923.2h0M342.7 895.4h0M307.7 926.2h0M336.1 896.9h0M319.1 924.7h0M304.2 918.1h0M338.3 935.9h0M348.2 906.3h0M324.4 895.7h0M341.3 938.0h0M323.0 926.8h0M344.1 917.3h0M338.7 919.6h0M343.6 905.7h0M360.1 910.0h0M342.5 907.9h0M315.9 899.9h0M327.9 930.9h0M324.4 931.2h0M339.3 897.0h0" stroke="rgb(80,80,80)" stroke-width="1.6" stroke-linecap="round"/>
<path d="M343.9 922.6h0M316.1 922.3h0M344.5 937.9h0M356.7 896.6h0M316.5 888.5h0M335.6 904.2h0M329.3 884.6h0M347.1 926.7h0M349.3 899.1h0M304.6 911.0h0M350.5 931.5h0M329.2 928.4h0M345.9 894.7h0M351.8 909.5h0M347.1 888.8h0M311.1 924.7h0M312.6 909.3h0M337.2 917.0h0M313.6 905.6h0M351.4 902.5h0M330.1 925.2h0M323.2 892.9h0M319.6 891.5h0" stroke="rgb(100,100,100)" stroke-width="1.6" stroke-linecap="round"/>
<path d="M346.0 892.3h0M336.0 938.1h0M349.1 918.3h0M310.0 929.4h0M352.1 911.0h0M349.5 918.3h0M319.2 901.8h0M316.7 933.1h0M303.8 920.1h0M315.1 923.7h0M334.3 926.9h0M312.6 920.6h0M333.7 935.7h0M334.0 917.5h0" stroke="rgb(120,120,120)" stroke-width="1.6" stroke-linecap="round"/>
<path d="M309.5 928.6h0M336.6 896.7h0M323.9 883.2h0" stroke="rgb(140,140,140)" stroke-width="1.6" stroke-linecap="round"/>
<path d="M320.6 926.6h0M328.0 937.3h0M334.9 905.8h0M349.2 904.3h0M325.4 929.6h0M310.9 910.6h0M317.6 894.4h0M336.3 909.4h0M312.8 891.3h0M335.6 921.8h0M348.7 930.0h0M311.7 919.4h0M330.2 937.1h0M348.5 912.1h0" stroke="rgb(80,80,80)" stroke-width="2.0" stroke-linecap="round"/>
<path d="M322.2 929.6h0M348.8 911.3h0M335.2 940.8h0M329.8 928.7h0M355.2 896.4h0M313.5 889.0h0M309.7 905.4h0M349.8 904.9h0M312.4 912.5h0M335.6 914.2h0M327.6 928.9h0M325.7 887.7h0M339.7 907.3h0M332.9 938.6h0M332.5 907.8h0M333.8 924.5h0M335.9 911.2h0M352.0 905.6h0M351.9 910.0h0M355.0 897.7h0M330.2 924.1h0" stroke="rgb(100,100,100)" stroke-width="2.0" stroke-linecap="round"/>
<path d="M355.8 928.5h0M315.4 915.3h0M315.1 922.2h0M330.7 898.9h0M352.9 907.2h0M345.9 929.3h0M324.2 889.5h0M332.8 935.8h0M356.8 912.1h0M336.6 911.1h0M359.6 917.5h0M319.3 906.5h0M326.5 908.6h0M353.1 916.6h0M330.4 918.1h0M315.3 891.3h0M345.4 888.1h0M327.5 923.9h0M313.7 908.2h0M320.9 894.2h0M332.4 884.8h0M325.1 893.6h0M342.5 886.1h0M324.4 930.8h0M323.8 905.0h0M320.1 937.7h0" stroke="rgb(120,120,120)" stroke-width="2.0" stroke-linecap="round"/>
<path d="M360.9 910.6h0M352.5 897.5h0M336.5 902.0h0M358.5 914.1h0M329.2 908.3h0" stroke="rgb(140,140,140)" stroke-width="2.0" stroke-linecap="round"/>
<path d="M345.1 927.3h0M329.0 897.1h0M350.0 903.4h0M303.1 917.3h0M329.8 918.8h0M317.0 914.1h0M360.1 918.1h0M322.6 900.5h0M310.4 917.4h0M318.7 927.3h0M352.3 901.8h0M352.6 913.4h0M317.8 929.9h0M334.4 902.6h0M344.6 886.0h0M316.5 896.3h0M319.8 926.3h0M343.2 887.4h0M351.7 898.9h0M322.4 932.2h0M355.3 924.6h0M339.5 893.2h0M338.2 922.6h0M331.9 930.2h0M330.5 901.2h0M326.1 889.7h0M335.6 918.3h0" stroke="rgb(200,200,200)" stroke-width="2.0" stroke-linecap="round"/>
<path d="M318.8 886.4h0M320.3 932.2h0M333.1 929.4h0M339.9 922.5h0M337.8 923.1h0M342.0 906.9h0" stroke="rgb(220,220,220)" stroke-width="2.0" stroke-linecap="round"/>
<path d="M348.7 925.8h0" stroke="rgb(80,80,80)" stroke-width="2.4" stroke-linecap="round"/>
<path d="M357.9 906.6h0" stroke="rgb(100,100,100)" stroke-width="2.4" stroke-linecap="round"/>
<path d="M316.2 908.4h0M333.8 910.4h0M310.9 911.6h0M334.5 918.2h0M320.9 927.3h0M326.3 924.5h0M305.8 920.1h0M328.0 889.0h0M349.1 909.2h0M329.2 912.9h0M303.5 918.8h0M317.5 906.3h0M314.1 901.9h0M351.3 894.7h0M341.3 888.2h0M314.6 928.2h0M334.8 900.8h0M320.8 896.5h0M310.9 905.6h0M315.1 918.3h0M347.0 892.7h0M323.0 918.3h0M334.5 886.5h0M340.8 883.3h0M321.3 930.0h0M338.7 930.7h0M317.6 910.0h0M318.5 932.3h0M350.8 920.5h0M316.2 900.5h0M325.1 912.4h0" stroke="rgb(200,200,200)" stroke-width="2.4" stroke-linecap="round"/>
<path d="M337.4 911.4h0M348.9 924.2h0M333.4 912.7h0M357.1 919.4h0M342.5 887.4h0M313.6 921.4h0M328.6 893.1h0M332.1 902.7h0" stroke="rgb(220,220,220)" stroke-width="2.4" stroke-linecap="round"/>
<path d="M314.2 892.0h0M339.4 899.7h0M352.6 915.1h0M358.4 916.4h0M353.7 930.6h0M331.6 939.6h0M331.9 940.7h0M336.0 894.3h0M317.1 888.5h0M314.7 933.9h0M324.1 900.1h0M329.5 894.7h0M331.9 906.0h0M348.2 903.7h0M309.5 895.3h0M312.2 892.3h0M337.6 916.5h0M316.7 897.7h0M336.9 890.1h0M320.5 926.6h0M311.8 908.0h0M343.0 914.7h0M307.9 893.7h0M306.0 912.0h0M343.4 904.7h0M304.7 914.3h0" stroke="rgb(200,200,200)" stroke-width="2.8" stroke-linecap="round"/>
<path d="M306.7 902.4h0M347.9 913.6h0M347.9 923.6h0M353.8 925.1h0M338.1 884.7h0M302.9 915.1h0" stroke="rgb(220,220,220)" stroke-width="2.8" stroke-linecap="round"/>
</g>
<text transform="translate(411.80,854.25) scale(1,1.04)" font-size="14.6" font-weight="bold" fill="#000" stroke="#000" stroke-width="0.3" text-anchor="middle" >+</text>
<text transform="translate(411.80,870.00) scale(1,1.04)" font-size="14.6" font-weight="bold" fill="#000" stroke="#000" stroke-width="0.3" text-anchor="middle" >+</text>
<g filter="url(#bl)">
<rect x="374.40" y="874.00" width="74.8" height="74.8" fill="#eeeeee"/>
<circle cx="411.80" cy="911.40" r="36.2" fill="#f0f0f0" stroke="#d4d4d4" stroke-width="0.9"/>
<circle cx="411.80" cy="911.40" r="32.7" fill="#e9e9e9" stroke="#d3d3d3" stroke-width="3"/>
<circle cx="411.80" cy="911.40" r="31.3" fill="none" stroke="#b9b9b9" stroke-width="0.9"/>
<circle cx="411.80" cy="911.40" r="34.2" fill="none" stroke="#c4c4c4" stroke-width="0.6"/>
<rect x="378.20" y="909.20" width="2.2" height="4.4" fill="#666"/>
<rect x="443.20" y="909.20" width="2.2" height="4.4" fill="#666"/>
<path d="M424.2 889.8h0" stroke="rgb(100,100,100)" stroke-width="1.2" stroke-linecap="round"/>
<path d="M439.3 919.8h0M392.9 929.7h0M416.3 926.9h0M420.0 924.3h0" stroke="rgb(120,120,120)" stroke-width="1.2" stroke-linecap="round"/>
<path d="M419.2 923.5h0M393.6 924.7h0M392.6 899.4h0" stroke="rgb(140,140,140)" stroke-width="1.2" stroke-linecap="round"/>
<path d="M408.8 906.7h0M419.0 905.2h0M430.4 899.2h0" stroke="rgb(80,80,80)" stroke-width="1.6" stroke-linecap="round"/>
<path d="M406.3 927.9h0M419.2 904.3h0M438.9 903.3h0M438.9 905.8h0M428.7 928.7h0M417.9 884.0h0" stroke="rgb(100,100,100)" stroke-width="1.6" stroke-linecap="round"/>
<path d="M425.2 920.6h0M427.8 932.1h0M400.1 890.7h0M415.0 921.7h0M421.7 887.5h0M403.5 896.0h0M396.3 920.5h0M435.5 917.3h0" stroke="rgb(120,120,120)" stroke-width="1.6" stroke-linecap="round"/>
<path d="M395.3 906.5h0M399.0 912.0h0M405.0 889.7h0M430.4 917.9h0M407.5 940.8h0" stroke="rgb(140,140,140)" stroke-width="1.6" stroke-linecap="round"/>
<path d="M403.4 886.7h0" stroke="rgb(80,80,80)" stroke-width="2.0" stroke-linecap="round"/>
<path d="M426.5 886.8h0M390.5 928.2h0M423.7 892.5h0" stroke="rgb(100,100,100)" stroke-width="2.0" stroke-linecap="round"/>
<path d="M406.4 897.8h0M424.5 897.2h0M411.6 889.1h0M407.3 914.3h0M408.9 940.3h0" stroke="rgb(120,120,120)" stroke-width="2.0" stroke-linecap="round"/>
<path d="M417.8 934.1h0M428.1 899.4h0M406.9 886.1h0M384.7 905.6h0M389.8 904.3h0M408.9 924.7h0" stroke="rgb(140,140,140)" stroke-width="2.0" stroke-linecap="round"/>
<path d="M415.7 934.8h0M405.8 906.2h0M421.9 899.8h0M400.3 924.7h0M421.6 908.1h0M392.3 915.9h0M410.5 905.6h0M409.0 937.4h0" stroke="rgb(200,200,200)" stroke-width="2.0" stroke-linecap="round"/>
<path d="M435.6 927.6h0M404.2 901.6h0M392.0 910.9h0" stroke="rgb(220,220,220)" stroke-width="2.0" stroke-linecap="round"/>
<path d="M393.2 896.5h0M410.7 906.5h0M389.0 904.0h0M410.2 901.2h0M430.8 891.6h0M426.4 929.0h0M429.7 920.1h0M403.1 904.3h0M387.5 903.2h0M410.2 909.2h0M417.5 932.7h0" stroke="rgb(200,200,200)" stroke-width="2.4" stroke-linecap="round"/>
<path d="M415.9 929.5h0M406.3 932.8h0" stroke="rgb(220,220,220)" stroke-width="2.4" stroke-linecap="round"/>
<path d="M403.3 884.5h0M390.0 907.3h0M430.4 932.5h0M429.8 917.4h0M416.7 937.6h0M404.4 908.0h0M403.2 925.9h0M405.2 922.9h0M403.8 936.1h0" stroke="rgb(200,200,200)" stroke-width="2.8" stroke-linecap="round"/>
<path d="M385.3 911.6h0M432.0 932.0h0M398.1 900.3h0" stroke="rgb(220,220,220)" stroke-width="2.8" stroke-linecap="round"/>
</g>
<line x1="570.75" y1="531.20" x2="570.75" y2="523.50" stroke="#000" stroke-width="1.8" />
<line x1="566.25" y1="523.50" x2="575.25" y2="523.50" stroke="#000" stroke-width="1.5" />
<rect x="563.00" y="531.20" width="15.50" height="54.80" fill="#000" />
<line x1="606.95" y1="547.20" x2="606.95" y2="539.00" stroke="#000" stroke-width="1.8" />
<line x1="602.45" y1="539.00" x2="611.45" y2="539.00" stroke="#000" stroke-width="1.5" />
<rect x="599.20" y="547.20" width="15.50" height="38.80" fill="#000" />
<line x1="642.95" y1="565.10" x2="642.95" y2="563.10" stroke="#000" stroke-width="1.8" />
<line x1="638.45" y1="563.10" x2="647.45" y2="563.10" stroke="#000" stroke-width="1.5" />
<rect x="635.20" y="565.10" width="15.50" height="20.90" fill="#000" />
<line x1="680.05" y1="571.60" x2="680.05" y2="563.10" stroke="#000" stroke-width="1.8" />
<line x1="675.55" y1="563.10" x2="684.55" y2="563.10" stroke="#000" stroke-width="1.5" />
<rect x="672.30" y="571.60" width="15.50" height="14.40" fill="#000" />
<path d="M552.30,496.10 H697.90 V586.00 H552.30 Z" fill="none" stroke="#000" stroke-width="1.5"/>
<line x1="547.80" y1="586.00" x2="552.30" y2="586.00" stroke="#000" stroke-width="1.5" />
<text transform="translate(539.40,591.70) scale(1,1.04)" font-size="14.6" font-weight="bold" fill="#000" stroke="#000" stroke-width="0.3" text-anchor="end" >0</text>
<line x1="547.80" y1="556.05" x2="552.30" y2="556.05" stroke="#000" stroke-width="1.5" />
<text transform="translate(539.40,561.75) scale(1,1.04)" font-size="14.6" font-weight="bold" fill="#000" stroke="#000" stroke-width="0.3" text-anchor="end" >10</text>
<line x1="547.80" y1="526.10" x2="552.30" y2="526.10" stroke="#000" stroke-width="1.5" />
<text transform="translate(539.40,531.80) scale(1,1.04)" font-size="14.6" font-weight="bold" fill="#000" stroke="#000" stroke-width="0.3" text-anchor="end" >20</text>
<line x1="547.80" y1="496.15" x2="552.30" y2="496.15" stroke="#000" stroke-width="1.5" />
<text transform="translate(539.40,501.85) scale(1,1.04)" font-size="14.6" font-weight="bold" fill="#000" stroke="#000" stroke-width="0.3" text-anchor="end" >30</text>
<text transform="translate(711.10,547.60) scale(1,1.04)" font-size="14.6" font-weight="bold" fill="#000" stroke="#000" stroke-width="0.3" text-anchor="start" >K-562</text>
<text transform="translate(607.00,534.71) scale(1,1.04)" font-size="14.6" font-weight="bold" fill="#000" stroke="#000" stroke-width="0.3" text-anchor="middle" >*</text>
<text transform="translate(643.30,560.01) scale(1,1.04)" font-size="14.6" font-weight="bold" fill="#000" stroke="#000" stroke-width="0.3" text-anchor="middle" >***</text>
<text transform="translate(680.10,561.91) scale(1,1.04)" font-size="14.6" font-weight="bold" fill="#000" stroke="#000" stroke-width="0.3" text-anchor="middle" >***</text>
<path d="M606.00,519.50 V510.60 H679.70 V543.60" fill="none" stroke="#000" stroke-width="1.7" stroke-dasharray="4.2,2.4"/>
<text transform="translate(643.00,509.61) scale(1,1.04)" font-size="14.6" font-weight="bold" fill="#000" stroke="#000" stroke-width="0.3" text-anchor="middle" >*</text>
<line x1="570.75" y1="648.60" x2="570.75" y2="640.80" stroke="#000" stroke-width="1.8" />
<line x1="566.25" y1="640.80" x2="575.25" y2="640.80" stroke="#000" stroke-width="1.5" />
<rect x="563.00" y="648.60" width="15.50" height="55.40" fill="#000" />
<line x1="606.95" y1="652.50" x2="606.95" y2="639.90" stroke="#000" stroke-width="1.8" />
<line x1="602.45" y1="639.90" x2="611.45" y2="639.90" stroke="#000" stroke-width="1.5" />
<rect x="599.20" y="652.50" width="15.50" height="51.50" fill="#000" />
<line x1="642.95" y1="664.50" x2="642.95" y2="657.70" stroke="#000" stroke-width="1.8" />
<line x1="638.45" y1="657.70" x2="647.45" y2="657.70" stroke="#000" stroke-width="1.5" />
<rect x="635.20" y="664.50" width="15.50" height="39.50" fill="#000" />
<line x1="680.05" y1="679.20" x2="680.05" y2="674.00" stroke="#000" stroke-width="1.8" />
<line x1="675.55" y1="674.00" x2="684.55" y2="674.00" stroke="#000" stroke-width="1.5" />
<rect x="672.30" y="679.20" width="15.50" height="24.80" fill="#000" />
<path d="M552.30,613.90 H697.90 V704.00 H552.30 Z" fill="none" stroke="#000" stroke-width="1.5"/>
<line x1="547.80" y1="704.00" x2="552.30" y2="704.00" stroke="#000" stroke-width="1.5" />
<text transform="translate(539.40,709.70) scale(1,1.04)" font-size="14.6" font-weight="bold" fill="#000" stroke="#000" stroke-width="0.3" text-anchor="end" >0</text>
<line x1="547.80" y1="677.50" x2="552.30" y2="677.50" stroke="#000" stroke-width="1.5" />
<text transform="translate(539.40,683.20) scale(1,1.04)" font-size="14.6" font-weight="bold" fill="#000" stroke="#000" stroke-width="0.3" text-anchor="end" >10</text>
<line x1="547.80" y1="651.00" x2="552.30" y2="651.00" stroke="#000" stroke-width="1.5" />
<text transform="translate(539.40,656.70) scale(1,1.04)" font-size="14.6" font-weight="bold" fill="#000" stroke="#000" stroke-width="0.3" text-anchor="end" >20</text>
<line x1="547.80" y1="624.50" x2="552.30" y2="624.50" stroke="#000" stroke-width="1.5" />
<text transform="translate(539.40,630.20) scale(1,1.04)" font-size="14.6" font-weight="bold" fill="#000" stroke="#000" stroke-width="0.3" text-anchor="end" >30</text>
<text transform="translate(711.10,668.60) scale(1,1.04)" font-size="14.6" font-weight="bold" fill="#000" stroke="#000" stroke-width="0.3" text-anchor="start" >KBM-5</text>
<text transform="translate(680.50,670.21) scale(1,1.04)" font-size="14.6" font-weight="bold" fill="#000" stroke="#000" stroke-width="0.3" text-anchor="middle" >**</text>
<path d="M606.20,631.70 V625.80 H680.70 V654.20" fill="none" stroke="#000" stroke-width="1.7" stroke-dasharray="4.2,2.4"/>
<text transform="translate(643.40,626.61) scale(1,1.04)" font-size="14.6" font-weight="bold" fill="#000" stroke="#000" stroke-width="0.3" text-anchor="middle" >*</text>
<line x1="569.15" y1="760.80" x2="569.15" y2="745.60" stroke="#000" stroke-width="1.8" />
<line x1="564.65" y1="745.60" x2="573.65" y2="745.60" stroke="#000" stroke-width="1.5" />
<rect x="561.40" y="760.80" width="15.50" height="62.80" fill="#000" />
<line x1="605.65" y1="789.50" x2="605.65" y2="772.50" stroke="#000" stroke-width="1.8" />
<line x1="601.15" y1="772.50" x2="610.15" y2="772.50" stroke="#000" stroke-width="1.5" />
<rect x="597.90" y="789.50" width="15.50" height="34.10" fill="#000" />
<line x1="641.95" y1="786.50" x2="641.95" y2="780.60" stroke="#000" stroke-width="1.8" />
<line x1="637.45" y1="780.60" x2="646.45" y2="780.60" stroke="#000" stroke-width="1.5" />
<rect x="634.20" y="786.50" width="15.50" height="37.10" fill="#000" />
<line x1="678.05" y1="801.20" x2="678.05" y2="799.50" stroke="#000" stroke-width="1.8" />
<line x1="673.55" y1="799.50" x2="682.55" y2="799.50" stroke="#000" stroke-width="1.5" />
<rect x="670.30" y="801.20" width="15.50" height="22.40" fill="#000" />
<path d="M551.00,733.50 H696.70 V823.60 H551.00 Z" fill="none" stroke="#000" stroke-width="1.5"/>
<line x1="546.50" y1="823.60" x2="551.00" y2="823.60" stroke="#000" stroke-width="1.5" />
<text transform="translate(538.80,829.30) scale(1,1.04)" font-size="14.6" font-weight="bold" fill="#000" stroke="#000" stroke-width="0.3" text-anchor="end" >0</text>
<line x1="546.50" y1="803.50" x2="551.00" y2="803.50" stroke="#000" stroke-width="1.5" />
<text transform="translate(538.80,809.20) scale(1,1.04)" font-size="14.6" font-weight="bold" fill="#000" stroke="#000" stroke-width="0.3" text-anchor="end" >2</text>
<line x1="546.50" y1="783.40" x2="551.00" y2="783.40" stroke="#000" stroke-width="1.5" />
<text transform="translate(538.80,789.10) scale(1,1.04)" font-size="14.6" font-weight="bold" fill="#000" stroke="#000" stroke-width="0.3" text-anchor="end" >4</text>
<line x1="546.50" y1="763.30" x2="551.00" y2="763.30" stroke="#000" stroke-width="1.5" />
<text transform="translate(538.80,769.00) scale(1,1.04)" font-size="14.6" font-weight="bold" fill="#000" stroke="#000" stroke-width="0.3" text-anchor="end" >6</text>
<line x1="546.50" y1="743.20" x2="551.00" y2="743.20" stroke="#000" stroke-width="1.5" />
<text transform="translate(538.80,748.90) scale(1,1.04)" font-size="14.6" font-weight="bold" fill="#000" stroke="#000" stroke-width="0.3" text-anchor="end" >8</text>
<text transform="translate(711.10,785.20) scale(1,1.04)" font-size="14.6" font-weight="bold" fill="#000" stroke="#000" stroke-width="0.3" text-anchor="start" >MEG-01</text>
<text transform="translate(605.20,769.21) scale(1,1.04)" font-size="14.6" font-weight="bold" fill="#000" stroke="#000" stroke-width="0.3" text-anchor="middle" >*</text>
<text transform="translate(641.90,777.21) scale(1,1.04)" font-size="14.6" font-weight="bold" fill="#000" stroke="#000" stroke-width="0.3" text-anchor="middle" >*</text>
<text transform="translate(678.80,799.21) scale(1,1.04)" font-size="14.6" font-weight="bold" fill="#000" stroke="#000" stroke-width="0.3" text-anchor="middle" >*</text>
<line x1="570.05" y1="887.30" x2="570.05" y2="880.20" stroke="#000" stroke-width="1.8" />
<line x1="565.55" y1="880.20" x2="574.55" y2="880.20" stroke="#000" stroke-width="1.5" />
<rect x="562.30" y="887.30" width="15.50" height="54.30" fill="#000" />
<line x1="606.55" y1="889.90" x2="606.55" y2="888.60" stroke="#000" stroke-width="1.8" />
<line x1="602.05" y1="888.60" x2="611.05" y2="888.60" stroke="#000" stroke-width="1.5" />
<rect x="598.80" y="889.90" width="15.50" height="51.70" fill="#000" />
<line x1="643.15" y1="912.10" x2="643.15" y2="905.20" stroke="#000" stroke-width="1.8" />
<line x1="638.65" y1="905.20" x2="647.65" y2="905.20" stroke="#000" stroke-width="1.5" />
<rect x="635.40" y="912.10" width="15.50" height="29.50" fill="#000" />
<line x1="680.05" y1="931.60" x2="680.05" y2="929.60" stroke="#000" stroke-width="1.8" />
<line x1="675.55" y1="929.60" x2="684.55" y2="929.60" stroke="#000" stroke-width="1.5" />
<rect x="672.30" y="931.60" width="15.50" height="10.00" fill="#000" />
<path d="M551.90,851.50 H697.90 V941.60 H551.90 Z" fill="none" stroke="#000" stroke-width="1.5"/>
<line x1="547.40" y1="941.60" x2="551.90" y2="941.60" stroke="#000" stroke-width="1.5" />
<text transform="translate(539.40,947.30) scale(1,1.04)" font-size="14.6" font-weight="bold" fill="#000" stroke="#000" stroke-width="0.3" text-anchor="end" >0</text>
<line x1="547.40" y1="918.50" x2="551.90" y2="918.50" stroke="#000" stroke-width="1.5" />
<text transform="translate(539.40,924.20) scale(1,1.04)" font-size="14.6" font-weight="bold" fill="#000" stroke="#000" stroke-width="0.3" text-anchor="end" >10</text>
<line x1="547.40" y1="895.40" x2="551.90" y2="895.40" stroke="#000" stroke-width="1.5" />
<text transform="translate(539.40,901.10) scale(1,1.04)" font-size="14.6" font-weight="bold" fill="#000" stroke="#000" stroke-width="0.3" text-anchor="end" >20</text>
<line x1="547.40" y1="872.30" x2="551.90" y2="872.30" stroke="#000" stroke-width="1.5" />
<text transform="translate(539.40,878.00) scale(1,1.04)" font-size="14.6" font-weight="bold" fill="#000" stroke="#000" stroke-width="0.3" text-anchor="end" >30</text>
<text transform="translate(711.10,904.70) scale(1,1.04)" font-size="14.6" font-weight="bold" fill="#000" stroke="#000" stroke-width="0.3" text-anchor="start" >KBM-5R</text>
<text transform="translate(643.60,904.21) scale(1,1.04)" font-size="14.6" font-weight="bold" fill="#222" stroke="#222" stroke-width="0.3" text-anchor="middle" >***</text>
<text transform="translate(680.70,927.81) scale(1,1.04)" font-size="14.6" font-weight="bold" fill="#222" stroke="#222" stroke-width="0.3" text-anchor="middle" >***</text>
<path d="M605.50,878.20 V865.20 H682.70 V910.10" fill="none" stroke="#000" stroke-width="1.7" stroke-dasharray="4.2,2.4"/>
<text transform="translate(643.60,865.21) scale(1,1.04)" font-size="14.6" font-weight="bold" fill="#222" stroke="#222" stroke-width="0.3" text-anchor="middle" >***</text>
<path d="M642.30,889.30 V879.10 H676.80 V910.10" fill="none" stroke="#000" stroke-width="1.7" stroke-dasharray="4.2,2.4"/>
<text transform="translate(659.20,879.61) scale(1,1.04)" font-size="14.6" font-weight="bold" fill="#222" stroke="#222" stroke-width="0.3" text-anchor="middle" >**</text>
<text transform="translate(502.00,724.00) rotate(-90) scale(1,1.04)" font-size="14.6" font-weight="bold" fill="#000" stroke="#000" stroke-width="0.3" text-anchor="middle">Total MTT intensity (a.u.)</text>
<text transform="translate(548.10,974.10) scale(1,1.04)" font-size="14.6" font-weight="bold" fill="#000" stroke="#000" stroke-width="0.3" text-anchor="end" >MAKV-8 (8h)</text>
<text transform="translate(548.10,991.60) scale(1,1.04)" font-size="14.6" font-weight="bold" fill="#000" stroke="#000" stroke-width="0.3" text-anchor="end" >Imatinib</text>
<text transform="translate(570.30,974.10) scale(1,1.04)" font-size="14.6" font-weight="bold" fill="#000" stroke="#000" stroke-width="0.3" text-anchor="middle" >-</text>
<text transform="translate(570.30,991.60) scale(1,1.04)" font-size="14.6" font-weight="bold" fill="#000" stroke="#000" stroke-width="0.3" text-anchor="middle" >-</text>
<text transform="translate(606.70,974.10) scale(1,1.04)" font-size="14.6" font-weight="bold" fill="#000" stroke="#000" stroke-width="0.3" text-anchor="middle" >+</text>
<text transform="translate(606.70,991.60) scale(1,1.04)" font-size="14.6" font-weight="bold" fill="#000" stroke="#000" stroke-width="0.3" text-anchor="middle" >-</text>
<text transform="translate(643.50,974.10) scale(1,1.04)" font-size="14.6" font-weight="bold" fill="#000" stroke="#000" stroke-width="0.3" text-anchor="middle" >-</text>
<text transform="translate(643.50,991.60) scale(1,1.04)" font-size="14.6" font-weight="bold" fill="#000" stroke="#000" stroke-width="0.3" text-anchor="middle" >+</text>
<text transform="translate(680.20,974.10) scale(1,1.04)" font-size="14.6" font-weight="bold" fill="#000" stroke="#000" stroke-width="0.3" text-anchor="middle" >+</text>
<text transform="translate(680.20,991.60) scale(1,1.04)" font-size="14.6" font-weight="bold" fill="#000" stroke="#000" stroke-width="0.3" text-anchor="middle" >+</text>
</svg></body></html>
